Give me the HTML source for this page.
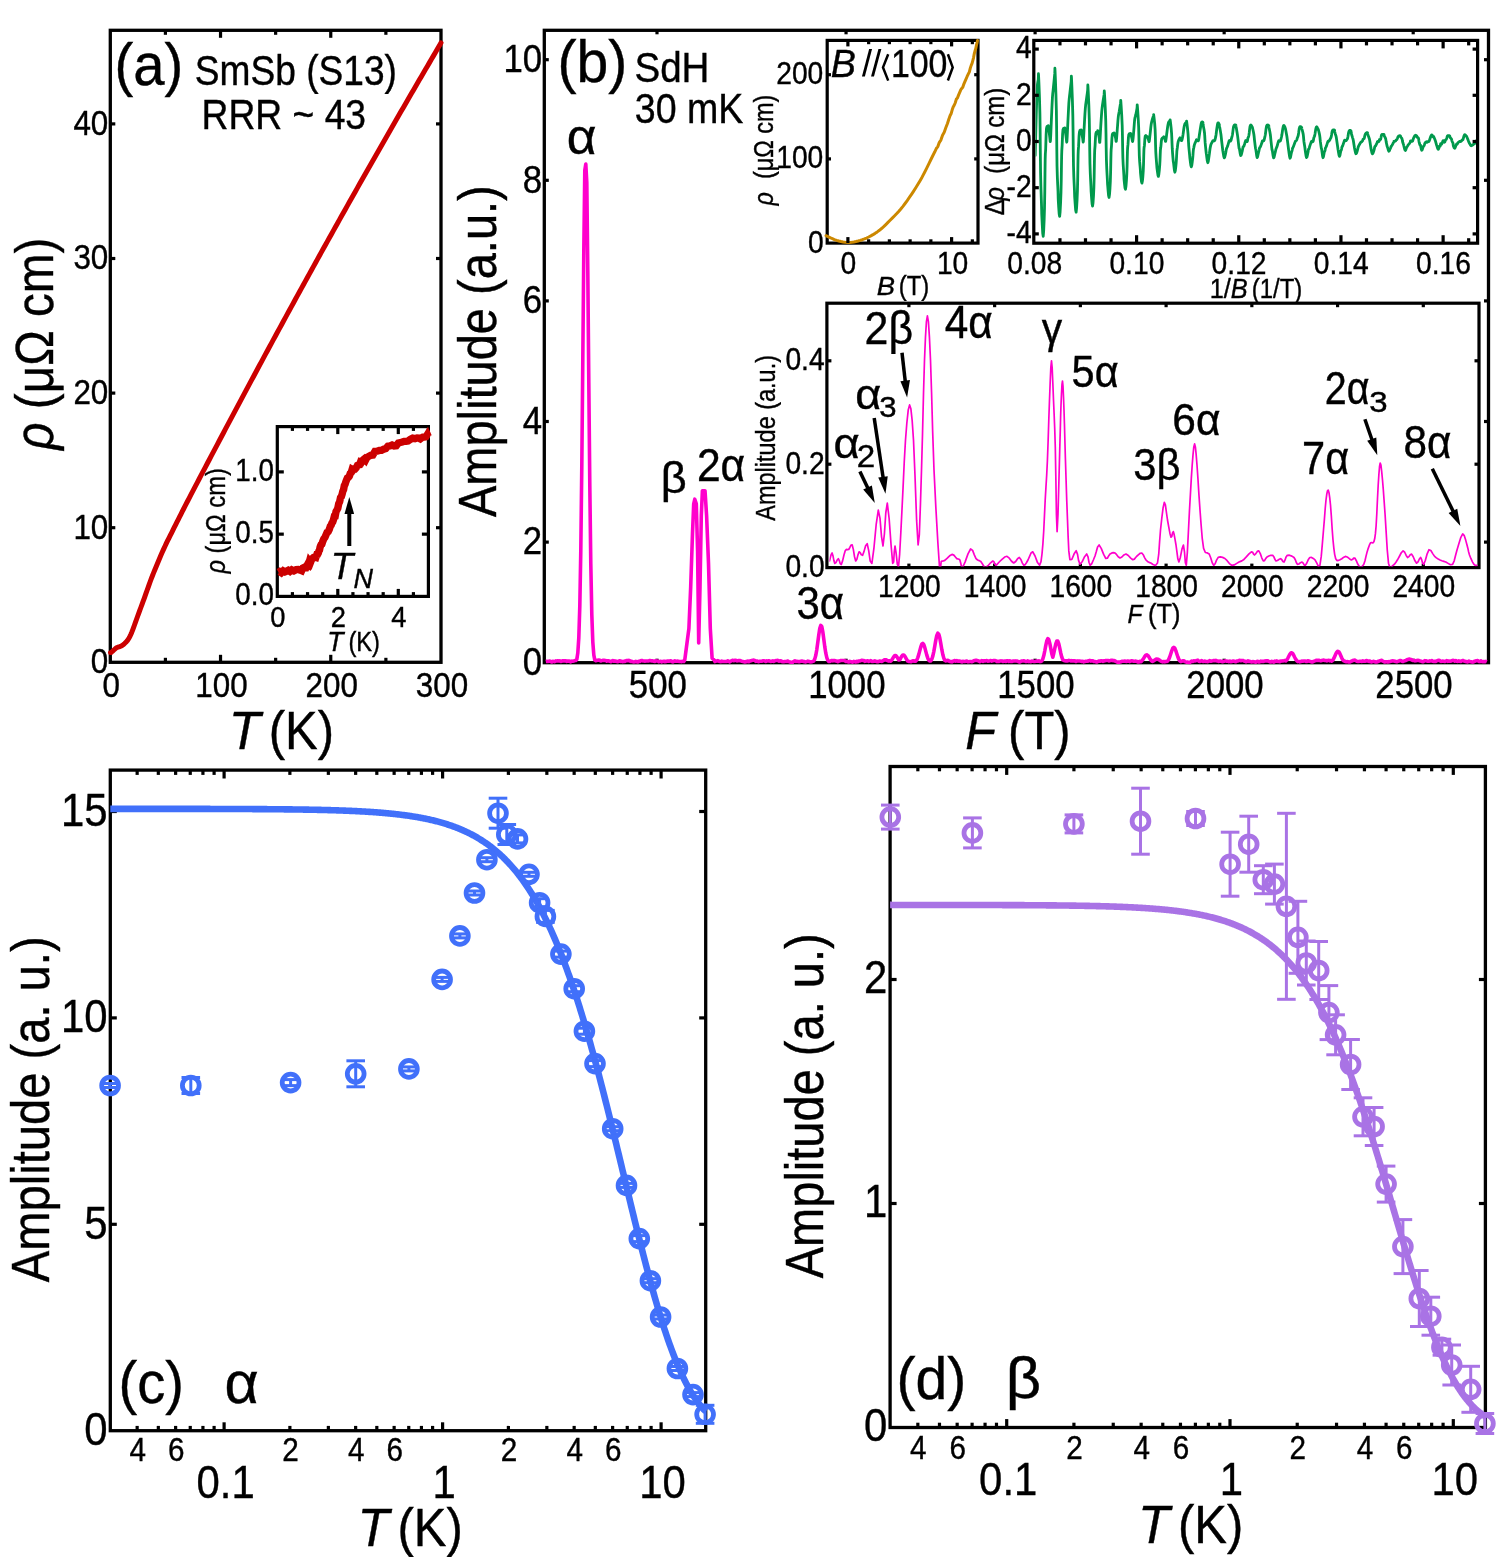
<!DOCTYPE html>
<html><head><meta charset="utf-8"><style>
html,body{margin:0;padding:0;background:#fff;}
svg{display:block;will-change:transform;}
text{font-family:"Liberation Sans",sans-serif;stroke:#000;stroke-width:0.4px;opacity:0.999;}
</style></head><body>
<svg width="1500" height="1557" viewBox="0 0 1500 1557">
<rect width="1500" height="1557" fill="#fff"/>
<rect x="110.3" y="30.3" width="330.7" height="632" fill="none" stroke="#000" stroke-width="3.3"/>
<rect x="277.3" y="426.6" width="151.1" height="169.8" fill="none" stroke="#000" stroke-width="3.2"/>
<rect x="544.3" y="30.3" width="944.2" height="632.4" fill="none" stroke="#000" stroke-width="3.3"/>
<rect x="827.2" y="40.4" width="150.8" height="202.7" fill="none" stroke="#000" stroke-width="3.2"/>
<rect x="1033.8" y="40.4" width="443.8" height="202.8" fill="none" stroke="#000" stroke-width="3.2"/>
<rect x="826.9" y="303.2" width="652.1" height="264.4" fill="none" stroke="#000" stroke-width="3.2"/>
<rect x="110.3" y="770.1" width="595.4" height="660.6" fill="none" stroke="#000" stroke-width="3.3"/>
<rect x="890.1" y="766.5" width="595.3" height="661" fill="none" stroke="#000" stroke-width="3.3"/>
<path d="M110.5,652.6 L110.63,652.58 L110.8,652.56 L111.12,652.42 L111.7,652 L112.64,651.15 L113.84,649.99 L115.18,648.79 L116.5,647.8 L117.79,647.19 L119.12,646.79 L120.46,646.37 L121.8,645.7 L123.16,644.73 L124.55,643.57 L125.89,642.28 L127.1,640.9 L128.14,639.49 L129.05,637.99 L129.91,636.36 L130.8,634.5 L131.71,632.39 L132.62,630.08 L133.54,627.6 L134.5,625 L135.51,622.23 L136.56,619.28 L137.63,616.27 L138.7,613.3 L139.77,610.4 L140.85,607.5 L141.93,604.6 L143,601.7 L144.06,598.78 L145.11,595.85 L146.15,592.92 L147.2,590 L148.25,587.07 L149.29,584.13 L150.34,581.23 L151.4,578.4 L152.44,575.73 L153.48,573.17 L154.55,570.57 L155.7,567.8 L156.95,564.75 L158.29,561.52 L159.65,558.25 L161,555.1 L162.32,552.08 L163.65,549.12 L164.98,546.22 L166.3,543.4 L167.62,540.67 L168.95,538.03 L170.28,535.42 L171.6,532.8 L172.92,530.15 L174.25,527.49 L175.57,524.84 L176.9,522.2 L178.23,519.56 L179.56,516.92 L180.88,514.3 L182.2,511.7 L183.44,509.25 L184.63,506.9 L185.91,504.41 L187.4,501.5 L189.2,498.03 L191.22,494.16 L193.33,490.12 L195.4,486.17 L197.4,482.35 L199.4,478.53 L201.4,474.71 L203.4,470.9 L205.4,467.09 L207.4,463.28 L209.4,459.48 L211.4,455.68 L213.4,451.88 L215.4,448.09 L217.4,444.3 L219.4,440.52 L221.4,436.73 L223.4,432.96 L225.4,429.18 L227.4,425.41 L229.4,421.64 L231.4,417.88 L233.4,414.12 L235.4,410.36 L237.4,406.61 L239.4,402.86 L241.4,399.11 L243.4,395.37 L245.4,391.63 L247.4,387.89 L249.4,384.16 L251.4,380.43 L253.4,376.71 L255.4,372.99 L257.4,369.27 L259.4,365.55 L261.4,361.84 L263.4,358.13 L265.4,354.43 L267.4,350.73 L269.4,347.03 L271.4,343.34 L273.4,339.65 L275.4,335.96 L277.4,332.28 L279.4,328.6 L281.4,324.93 L283.4,321.25 L285.4,317.58 L287.4,313.92 L289.4,310.26 L291.4,306.6 L293.4,302.95 L295.4,299.29 L297.4,295.65 L299.4,292 L301.4,288.36 L303.4,284.73 L305.4,281.09 L307.4,277.46 L309.4,273.84 L311.4,270.21 L313.4,266.59 L315.4,262.98 L317.4,259.37 L319.4,255.76 L321.4,252.15 L323.4,248.55 L325.4,244.95 L327.4,241.36 L329.4,237.77 L331.4,234.18 L333.4,230.6 L335.4,227.02 L337.4,223.44 L339.4,219.87 L341.4,216.3 L343.4,212.73 L345.4,209.17 L347.4,205.61 L349.4,202.05 L351.4,198.5 L353.4,194.95 L355.4,191.41 L357.4,187.87 L359.4,184.33 L361.4,180.79 L363.4,177.26 L365.4,173.73 L367.4,170.21 L369.4,166.69 L371.4,163.17 L373.4,159.66 L375.4,156.15 L377.4,152.65 L379.4,149.14 L381.4,145.64 L383.4,142.15 L385.4,138.66 L387.4,135.17 L389.4,131.68 L391.4,128.2 L393.4,124.72 L395.4,121.25 L397.4,117.78 L399.4,114.31 L401.4,110.85 L403.4,107.39 L405.4,103.93 L407.4,100.48 L409.4,97.03 L411.4,93.58 L413.4,90.14 L415.4,86.7 L417.4,83.26 L419.4,79.83 L421.4,76.4 L423.4,72.98 L425.4,69.56 L427.4,66.14 L429.46,62.63 L431.55,59.07 L433.57,55.64 L435.4,52.5 L437.1,49.57 L438.7,46.8 L440.05,44.45 L441,42.8" fill="none" stroke="#CC0000" stroke-width="5.0" stroke-linejoin="round" stroke-linecap="round" />
<line x1="165.41" y1="662.3" x2="165.41" y2="657.8" stroke="#000" stroke-width="3.2" stroke-linecap="butt"/>
<line x1="165.41" y1="30.3" x2="165.41" y2="34.8" stroke="#000" stroke-width="3.2" stroke-linecap="butt"/>
<line x1="220.53" y1="662.3" x2="220.53" y2="654.8" stroke="#000" stroke-width="3.2" stroke-linecap="butt"/>
<line x1="220.53" y1="30.3" x2="220.53" y2="37.8" stroke="#000" stroke-width="3.2" stroke-linecap="butt"/>
<line x1="275.64" y1="662.3" x2="275.64" y2="657.8" stroke="#000" stroke-width="3.2" stroke-linecap="butt"/>
<line x1="275.64" y1="30.3" x2="275.64" y2="34.8" stroke="#000" stroke-width="3.2" stroke-linecap="butt"/>
<line x1="330.76" y1="662.3" x2="330.76" y2="654.8" stroke="#000" stroke-width="3.2" stroke-linecap="butt"/>
<line x1="330.76" y1="30.3" x2="330.76" y2="37.8" stroke="#000" stroke-width="3.2" stroke-linecap="butt"/>
<line x1="385.88" y1="662.3" x2="385.88" y2="657.8" stroke="#000" stroke-width="3.2" stroke-linecap="butt"/>
<line x1="385.88" y1="30.3" x2="385.88" y2="34.8" stroke="#000" stroke-width="3.2" stroke-linecap="butt"/>
<line x1="110.3" y1="527.7" x2="115.3" y2="527.7" stroke="#000" stroke-width="3.2" stroke-linecap="butt"/>
<line x1="441" y1="527.7" x2="436" y2="527.7" stroke="#000" stroke-width="3.2" stroke-linecap="butt"/>
<line x1="110.3" y1="393.1" x2="115.3" y2="393.1" stroke="#000" stroke-width="3.2" stroke-linecap="butt"/>
<line x1="441" y1="393.1" x2="436" y2="393.1" stroke="#000" stroke-width="3.2" stroke-linecap="butt"/>
<line x1="110.3" y1="258.5" x2="115.3" y2="258.5" stroke="#000" stroke-width="3.2" stroke-linecap="butt"/>
<line x1="441" y1="258.5" x2="436" y2="258.5" stroke="#000" stroke-width="3.2" stroke-linecap="butt"/>
<line x1="110.3" y1="123.9" x2="115.3" y2="123.9" stroke="#000" stroke-width="3.2" stroke-linecap="butt"/>
<line x1="441" y1="123.9" x2="436" y2="123.9" stroke="#000" stroke-width="3.2" stroke-linecap="butt"/>
<text transform="translate(111.3,697) scale(0.91,1)" font-size="34.5" text-anchor="middle" fill="#000"><tspan>0</tspan></text>
<text transform="translate(221.53,697) scale(0.91,1)" font-size="34.5" text-anchor="middle" fill="#000"><tspan>100</tspan></text>
<text transform="translate(331.76,697) scale(0.91,1)" font-size="34.5" text-anchor="middle" fill="#000"><tspan>200</tspan></text>
<text transform="translate(441.99,697) scale(0.91,1)" font-size="34.5" text-anchor="middle" fill="#000"><tspan>300</tspan></text>
<text transform="translate(108.3,673.1) scale(0.91,1)" font-size="34.5" text-anchor="end" fill="#000"><tspan>0</tspan></text>
<text transform="translate(108.3,538.5) scale(0.91,1)" font-size="34.5" text-anchor="end" fill="#000"><tspan>10</tspan></text>
<text transform="translate(108.3,403.9) scale(0.91,1)" font-size="34.5" text-anchor="end" fill="#000"><tspan>20</tspan></text>
<text transform="translate(108.3,269.3) scale(0.91,1)" font-size="34.5" text-anchor="end" fill="#000"><tspan>30</tspan></text>
<text transform="translate(108.3,134.7) scale(0.91,1)" font-size="34.5" text-anchor="end" fill="#000"><tspan>40</tspan></text>
<text transform="translate(114.48,84.6) scale(0.937381404174573,1)" font-size="60" text-anchor="start" fill="#000"><tspan>(a)</tspan></text>
<text transform="translate(194.75,84.6) scale(0.8780055401662049,1)" font-size="42.3" text-anchor="start" fill="#000"><tspan>SmSb (S13)</tspan></text>
<text transform="translate(201.5,129) scale(0.8871012482662969,1)" font-size="42" text-anchor="start" fill="#000"><tspan>RRR ~ 43</tspan></text>
<text transform="translate(228.68,748.8) scale(0.96774193548387,1)" font-size="53.5" text-anchor="start" fill="#000"><tspan font-style="italic">T</tspan></text>
<text transform="translate(268.71,748.8) scale(0.91605415860735,1)" font-size="53.5" text-anchor="start" fill="#000"><tspan>(K)</tspan></text>
<text transform="translate(52.6,449.69) rotate(-90) scale(0.8906299629433563,1)" font-size="53.5" text-anchor="start" fill="#000"><tspan font-style="italic">ρ</tspan><tspan> (μΩ cm)</tspan></text>
<path d="M278.5,572.31 L279.66,571.63 L281.32,572.76 L283.2,570.85 L285,571.9 L286.64,571.25 L288.28,570.26 L289.98,571.38 L291.8,569.9 L293.87,570.85 L296.13,569.68 L298.32,569.52 L300.2,570.09 L301.68,570.67 L302.91,568.03 L303.98,567.55 L305,567.86 L305.95,567.86 L306.8,565.85 L307.62,564.33 L308.5,564.93 L309.46,561.32 L310.44,562.57 L311.46,559.95 L312.5,558.5 L313.61,557.41 L314.79,556.94 L315.92,557.31 L316.9,554.41 L317.68,554.31 L318.32,553.18 L318.91,551.07 L319.5,550.13 L320.07,547.3 L320.61,545.77 L321.19,544.56 L321.9,544.11 L322.8,541.39 L323.83,538.89 L324.92,537.41 L326,534.87 L327.09,532.37 L328.21,531.73 L329.3,529.46 L330.3,526.18 L331.17,525.14 L331.96,523.06 L332.71,522.08 L333.5,519.64 L334.33,516.33 L335.17,516.15 L336.03,511.52 L336.9,509.97 L337.8,508.27 L338.72,503.73 L339.63,501.78 L340.5,497.71 L341.31,496.75 L342.09,494.32 L342.85,491.17 L343.6,489.55 L344.32,485.67 L345.01,484.55 L345.72,482.2 L346.5,480.22 L347.39,478.08 L348.35,477.48 L349.34,476.22 L350.3,473.43 L351.21,472.57 L352.1,469.58 L353.01,470.17 L354,468.91 L355.1,468.92 L356.29,467.61 L357.48,465.32 L358.6,464.78 L359.61,464.67 L360.56,461.94 L361.5,462.26 L362.5,460.57 L363.5,459.68 L364.49,458.86 L365.61,460.11 L367,457.36 L368.74,456.37 L370.74,455.21 L372.87,454.95 L375,451.33 L377.14,451.18 L379.33,450.4 L381.54,450.37 L383.7,449.29 L385.8,448.59 L387.87,446.2 L389.93,445.9 L392,445.1 L394.11,446.01 L396.24,445.71 L398.35,442.96 L400.4,442.49 L402.32,442.03 L404.16,441.37 L406.01,441.41 L408,441.05 L410.24,439.5 L412.66,438.14 L415.01,438.7 L417.1,438.03 L418.81,438.17 L420.29,438.91 L421.64,437.86 L423,437.04 L424.49,436.95 L426.02,436.71 L427.36,434.6 L428.3,436.72" fill="none" stroke="#CC0000" stroke-width="7.4" stroke-linejoin="miter" stroke-linecap="butt" />
<line x1="292.43" y1="596.4" x2="292.43" y2="592.1" stroke="#000" stroke-width="3.2" stroke-linecap="butt"/>
<line x1="292.43" y1="426.6" x2="292.43" y2="430.9" stroke="#000" stroke-width="3.2" stroke-linecap="butt"/>
<line x1="307.55" y1="596.4" x2="307.55" y2="592.1" stroke="#000" stroke-width="3.2" stroke-linecap="butt"/>
<line x1="307.55" y1="426.6" x2="307.55" y2="430.9" stroke="#000" stroke-width="3.2" stroke-linecap="butt"/>
<line x1="322.68" y1="596.4" x2="322.68" y2="592.1" stroke="#000" stroke-width="3.2" stroke-linecap="butt"/>
<line x1="322.68" y1="426.6" x2="322.68" y2="430.9" stroke="#000" stroke-width="3.2" stroke-linecap="butt"/>
<line x1="337.8" y1="596.4" x2="337.8" y2="588.9" stroke="#000" stroke-width="3.2" stroke-linecap="butt"/>
<line x1="337.8" y1="426.6" x2="337.8" y2="434.1" stroke="#000" stroke-width="3.2" stroke-linecap="butt"/>
<line x1="352.93" y1="596.4" x2="352.93" y2="592.1" stroke="#000" stroke-width="3.2" stroke-linecap="butt"/>
<line x1="352.93" y1="426.6" x2="352.93" y2="430.9" stroke="#000" stroke-width="3.2" stroke-linecap="butt"/>
<line x1="368.05" y1="596.4" x2="368.05" y2="592.1" stroke="#000" stroke-width="3.2" stroke-linecap="butt"/>
<line x1="368.05" y1="426.6" x2="368.05" y2="430.9" stroke="#000" stroke-width="3.2" stroke-linecap="butt"/>
<line x1="383.18" y1="596.4" x2="383.18" y2="592.1" stroke="#000" stroke-width="3.2" stroke-linecap="butt"/>
<line x1="383.18" y1="426.6" x2="383.18" y2="430.9" stroke="#000" stroke-width="3.2" stroke-linecap="butt"/>
<line x1="398.3" y1="596.4" x2="398.3" y2="588.9" stroke="#000" stroke-width="3.2" stroke-linecap="butt"/>
<line x1="398.3" y1="426.6" x2="398.3" y2="434.1" stroke="#000" stroke-width="3.2" stroke-linecap="butt"/>
<line x1="413.43" y1="596.4" x2="413.43" y2="592.1" stroke="#000" stroke-width="3.2" stroke-linecap="butt"/>
<line x1="413.43" y1="426.6" x2="413.43" y2="430.9" stroke="#000" stroke-width="3.2" stroke-linecap="butt"/>
<line x1="277.3" y1="534.15" x2="283.8" y2="534.15" stroke="#000" stroke-width="3.2" stroke-linecap="butt"/>
<line x1="428.4" y1="534.15" x2="421.9" y2="534.15" stroke="#000" stroke-width="3.2" stroke-linecap="butt"/>
<line x1="277.3" y1="471.9" x2="283.8" y2="471.9" stroke="#000" stroke-width="3.2" stroke-linecap="butt"/>
<line x1="428.4" y1="471.9" x2="421.9" y2="471.9" stroke="#000" stroke-width="3.2" stroke-linecap="butt"/>
<text transform="translate(273.9,605.4) scale(0.91,1)" font-size="30.5" text-anchor="end" fill="#000"><tspan>0.0</tspan></text>
<text transform="translate(273.9,543.15) scale(0.91,1)" font-size="30.5" text-anchor="end" fill="#000"><tspan>0.5</tspan></text>
<text transform="translate(273.9,480.9) scale(0.91,1)" font-size="30.5" text-anchor="end" fill="#000"><tspan>1.0</tspan></text>
<text transform="translate(277.9,627) scale(0.91,1)" font-size="30" text-anchor="middle" fill="#000"><tspan>0</tspan></text>
<text transform="translate(338.4,627) scale(0.91,1)" font-size="30" text-anchor="middle" fill="#000"><tspan>2</tspan></text>
<text transform="translate(398.9,627) scale(0.91,1)" font-size="30" text-anchor="middle" fill="#000"><tspan>4</tspan></text>
<text transform="translate(327.14,651.3) scale(0.9855999999999986,1)" font-size="27" text-anchor="start" fill="#000"><tspan font-style="italic">T</tspan></text>
<text transform="translate(348.38,651.3) scale(0.876335877862595,1)" font-size="27" text-anchor="start" fill="#000"><tspan>(K)</tspan></text>
<text transform="translate(224.7,573.55) rotate(-90) scale(0.8771488469601679,1)" font-size="27" text-anchor="start" fill="#000"><tspan font-style="italic">ρ</tspan><tspan> (μΩ cm)</tspan></text>
<line x1="349.3" y1="546" x2="349.3" y2="511.9" stroke="#000" stroke-width="4" stroke-linecap="butt"/>
<path d="M349.3,496.9 L354.1,513.9 L344.5,513.9 Z" fill="#000"/>
<text transform="translate(330.79,579.4) scale(0.9793103448275842,1)" font-size="37.5" text-anchor="start" fill="#000"><tspan font-style="italic">T</tspan></text>
<text transform="translate(353.43,587.9) scale(0.9986577181208035,1)" font-size="27" text-anchor="start" fill="#000"><tspan font-style="italic">N</tspan></text>
<line x1="657" y1="662.7" x2="657" y2="658.7" stroke="#000" stroke-width="3.2" stroke-linecap="butt"/>
<line x1="657" y1="30.3" x2="657" y2="34.3" stroke="#000" stroke-width="3.2" stroke-linecap="butt"/>
<line x1="846.05" y1="662.7" x2="846.05" y2="658.7" stroke="#000" stroke-width="3.2" stroke-linecap="butt"/>
<line x1="846.05" y1="30.3" x2="846.05" y2="34.3" stroke="#000" stroke-width="3.2" stroke-linecap="butt"/>
<line x1="1035.1" y1="662.7" x2="1035.1" y2="658.7" stroke="#000" stroke-width="3.2" stroke-linecap="butt"/>
<line x1="1035.1" y1="30.3" x2="1035.1" y2="34.3" stroke="#000" stroke-width="3.2" stroke-linecap="butt"/>
<line x1="1224.15" y1="662.7" x2="1224.15" y2="658.7" stroke="#000" stroke-width="3.2" stroke-linecap="butt"/>
<line x1="1224.15" y1="30.3" x2="1224.15" y2="34.3" stroke="#000" stroke-width="3.2" stroke-linecap="butt"/>
<line x1="1413.2" y1="662.7" x2="1413.2" y2="658.7" stroke="#000" stroke-width="3.2" stroke-linecap="butt"/>
<line x1="1413.2" y1="30.3" x2="1413.2" y2="34.3" stroke="#000" stroke-width="3.2" stroke-linecap="butt"/>
<path d="M545.8,661.51 L546.8,661.33 L547.8,661.43 L548.8,661.21 L549.8,661.05 L550.8,661.63 L551.8,662.04 L552.8,661.3 L553.8,661.54 L554.8,661.72 L555.8,660.91 L556.8,661.06 L557.8,660.71 L558.8,660.93 L559.8,660.87 L560.8,661.42 L561.8,661.17 L562.8,660.73 L563.8,660.89 L564.8,660.72 L565.8,660.7 L566.8,661.42 L567.8,661.02 L568.8,660.98 L569.8,661.3 L570.8,661.83 L571.8,661.13 L572.8,661.19 L573.8,660.93 L574.8,660.58 L575.8,660.56 L576.8,659.38 L577.8,653.01 L578.8,637.8 L579.8,606.38 L580.8,550.55 L581.8,466.12 L582.8,359.39 L583.8,250.77 L584.8,170.23 L585.8,164.02 L586.8,182.63 L587.8,271.26 L588.8,381.74 L589.8,485.19 L590.8,563.98 L591.8,614.37 L592.8,641.87 L593.8,654.8 L594.8,660.06 L595.8,660.66 L596.8,660.36 L597.8,660.26 L598.8,660.04 L599.8,660.3 L600.8,661.06 L601.8,660.68 L602.8,660.32 L603.8,660.18 L604.8,660.5 L605.8,660.52 L606.8,661.14 L607.8,660.76 L608.8,660.84 L609.8,661.24 L610.8,661.75 L611.8,661.1 L612.8,660.55 L613.8,661.3 L614.8,660.9 L615.8,661.12 L616.8,661.57 L617.8,661.67 L618.8,661.15 L619.8,660.72 L620.8,661.46 L621.8,661.21 L622.8,661.75 L623.8,661.27 L624.8,661.44 L625.8,660.88 L626.8,660.43 L627.8,660.73 L628.8,660.31 L629.8,660.89 L630.8,661.52 L631.8,661.27 L632.8,661.8 L633.8,661.92 L634.8,661.74 L635.8,661.39 L636.8,661.73 L637.8,662.06 L638.8,661.27 L639.8,661.46 L640.8,660.8 L641.8,660.48 L642.8,660.91 L643.8,661.07 L644.8,661.1 L645.8,660.96 L646.8,660.94 L647.8,660.97 L648.8,660.91 L649.8,660.49 L650.8,660.76 L651.8,661.02 L652.8,660.82 L653.8,661.29 L654.8,661.49 L655.8,660.79 L656.8,660.93 L657.8,660.98 L658.8,661.65 L659.8,661.57 L660.8,661.32 L661.8,661.85 L662.8,661.45 L663.8,661.19 L664.8,661.72 L665.8,661.35 L666.8,661.33 L667.8,661.06 L668.8,661.29 L669.8,661 L670.8,660.79 L671.8,661.53 L672.8,661.92 L673.8,661.42 L674.8,660.77 L675.8,661.24 L676.8,661.27 L677.8,661.13 L678.8,661.37 L679.8,661.46 L680.8,661.58 L681.8,661.58 L682.8,661.31 L683.8,661.5 L684.8,659.8 L688.9,628.5 L690.7,586.9 L692.5,533.4 L693.7,503.8 L694.8,499.2 L696.3,503.8 L697.6,551.3 L698.7,643 L700,586.9 L701.3,515.6 L702.4,490.7 L705,490.7 L706.6,515.6 L708.5,563.1 L710.3,628.5 L712.1,658.1 L714.4,660.3 L714.8,661.53 L715.8,661.03 L716.8,660.92 L717.8,660.66 L718.8,661.06 L719.8,661.56 L720.8,661.66 L721.8,661.12 L722.8,661.43 L723.8,661.52 L724.8,661.49 L725.8,661.47 L726.8,661.47 L727.8,660.85 L728.8,661.4 L729.8,661.92 L730.8,661.09 L731.8,660.67 L732.8,660.29 L733.8,660.73 L734.8,660.37 L735.8,660.19 L736.8,660.92 L737.8,660.74 L738.8,660.51 L739.8,660.59 L740.8,660.81 L741.8,661.22 L742.8,661.4 L743.8,661.64 L744.8,661.98 L745.8,661.56 L746.8,661.67 L747.8,661.11 L748.8,661.69 L749.8,661 L750.8,660.85 L751.8,660.47 L752.8,660.28 L753.8,660.16 L754.8,660.48 L755.8,661.35 L756.8,660.99 L757.8,661.47 L758.8,661.6 L759.8,661.24 L760.8,661.19 L761.8,661.3 L762.8,660.72 L763.8,660.78 L764.8,661.13 L765.8,661.46 L766.8,660.91 L767.8,661.05 L768.8,660.77 L769.8,661.12 L770.8,661.51 L771.8,661.34 L772.8,660.9 L773.8,661.41 L774.8,660.97 L775.8,660.55 L776.8,660.44 L777.8,660.35 L778.8,661.28 L779.8,661.09 L780.8,660.69 L781.8,661.44 L782.8,661.61 L783.8,661.72 L784.8,661.48 L785.8,661.46 L786.8,661.38 L787.8,660.97 L788.8,661.66 L789.8,662.01 L790.8,662.13 L791.8,662.21 L792.8,662.32 L793.8,661.3 L794.8,660.83 L795.8,661.47 L796.8,661.36 L797.8,661.51 L798.8,661.61 L799.8,661.62 L800.8,661.27 L801.8,661.14 L802.8,661.33 L803.8,661.65 L804.8,661.67 L805.8,661.93 L806.8,661.57 L807.8,661.16 L808.8,661.32 L809.8,661.77 L810.8,661.93 L811.8,661.79 L812.8,661.42 L813.8,660.99 L814.8,658.9 L815.8,655.21 L816.8,649.6 L817.8,642.36 L818.8,634.66 L819.8,628.38 L820.8,625.4 L821.8,626.71 L822.8,631.86 L823.8,639.24 L824.8,646.86 L825.8,653.2 L826.8,657.64 L827.8,660.31 L828.8,661.53 L829.8,661.48 L830.8,660.91 L831.8,660.5 L832.8,660.93 L833.8,660.55 L834.8,660.46 L835.8,661.04 L836.8,661.14 L837.8,661.62 L838.8,661.07 L839.8,660.92 L840.8,660.56 L841.8,660.46 L842.8,660.55 L843.8,660.53 L844.8,660.72 L845.8,661.39 L846.8,661.2 L847.8,661.8 L848.8,661.98 L849.8,661.34 L850.8,661.83 L851.8,662.07 L852.8,662.2 L853.8,661.34 L854.8,661.67 L855.8,662.05 L856.8,661.3 L857.8,661.71 L858.8,661.09 L859.8,660.92 L860.8,660.62 L861.8,660.31 L862.8,660.57 L863.8,660.46 L864.8,661.31 L865.8,660.94 L866.8,661.03 L867.8,660.83 L868.8,661.45 L869.8,661.05 L870.8,660.58 L871.8,661.36 L872.8,661.5 L873.8,661.3 L874.8,660.86 L875.8,661.31 L876.8,661.65 L877.8,661.77 L878.8,661.4 L879.8,661.01 L880.8,661.21 L881.8,661.36 L882.8,660.87 L883.8,660.18 L884.8,659.74 L885.8,659.74 L886.8,660.18 L887.8,660.87 L888.8,661.1 L889.8,660.84 L890.8,661.27 L891.8,659.98 L892.8,658.31 L893.8,656.66 L894.8,655.61 L895.8,655.61 L896.8,656.66 L897.8,658.31 L898.8,659.98 L899.8,659.76 L900.8,657.95 L901.8,656.15 L902.8,655.02 L903.8,655.02 L904.8,656.15 L905.8,657.95 L906.8,659.76 L907.8,661.15 L908.8,661.45 L909.8,661.57 L910.8,661.74 L911.8,661.29 L912.8,660.7 L913.8,661.15 L914.8,660.92 L915.8,661.13 L916.8,659.91 L917.8,657.62 L918.8,654.41 L919.8,650.61 L920.8,646.91 L921.8,644.25 L922.8,643.41 L923.8,644.66 L924.8,647.6 L925.8,651.39 L926.8,655.12 L927.8,658.15 L928.8,660.26 L929.8,661.02 L930.8,660.97 L931.8,659.21 L932.8,656.12 L933.8,651.61 L934.8,645.97 L935.8,640.12 L936.8,635.42 L937.8,633.22 L938.8,634.19 L939.8,638.02 L940.8,643.59 L941.8,649.45 L942.8,654.48 L943.8,658.14 L944.8,660.44 L945.8,660.95 L946.8,660.49 L947.8,660.35 L948.8,661 L949.8,661.45 L950.8,661.64 L951.8,661.84 L952.8,661.33 L953.8,660.84 L954.8,660.5 L955.8,661.07 L956.8,660.68 L957.8,661.11 L958.8,661.24 L959.8,660.94 L960.8,661.54 L961.8,661.89 L962.8,661.21 L963.8,661.45 L964.8,661.52 L965.8,661.29 L966.8,661.04 L967.8,661.7 L968.8,661.69 L969.8,661.57 L970.8,661.44 L971.8,661.69 L972.8,661.33 L973.8,660.76 L974.8,660.47 L975.8,660.29 L976.8,660.37 L977.8,660.69 L978.8,661.14 L979.8,661.62 L980.8,661.04 L981.8,660.61 L982.8,661.33 L983.8,660.74 L984.8,661.07 L985.8,660.79 L986.8,660.64 L987.8,661.11 L988.8,660.93 L989.8,660.85 L990.8,660.62 L991.8,661.13 L992.8,660.85 L993.8,660.43 L994.8,660.53 L995.8,660.75 L996.8,661.39 L997.8,661.32 L998.8,661.45 L999.8,661.08 L1000.8,660.91 L1001.8,660.94 L1002.8,661.43 L1003.8,661.16 L1004.8,661.01 L1005.8,661.47 L1006.8,660.89 L1007.8,660.82 L1008.8,661.43 L1009.8,660.81 L1010.8,661.4 L1011.8,661.52 L1012.8,661.12 L1013.8,661.03 L1014.8,661.03 L1015.8,660.92 L1016.8,661.08 L1017.8,661.35 L1018.8,661.68 L1019.8,662 L1020.8,661.42 L1021.8,661.02 L1022.8,661.04 L1023.8,660.81 L1024.8,661.13 L1025.8,661.44 L1026.8,661.48 L1027.8,660.92 L1028.8,661.58 L1029.8,661.42 L1030.8,661.63 L1031.8,661.13 L1032.8,661.33 L1033.8,661.48 L1034.8,661.48 L1035.8,661.32 L1036.8,660.94 L1037.8,661.22 L1038.8,660.79 L1039.8,661.42 L1040.8,661.6 L1041.8,660.97 L1042.8,658.92 L1043.8,655.51 L1044.8,650.75 L1045.8,645.39 L1046.8,640.85 L1047.8,638.65 L1048.8,639.62 L1049.8,643.39 L1050.8,648.61 L1051.8,653.74 L1052.8,657.21 L1053.8,653.2 L1054.8,648.36 L1055.8,643.84 L1056.8,641.06 L1057.8,641.06 L1058.8,643.84 L1059.8,648.36 L1060.8,653.2 L1061.8,657.21 L1062.8,659.94 L1063.8,660.36 L1064.8,660.83 L1065.8,660.91 L1066.8,660.92 L1067.8,660.87 L1068.8,660.42 L1069.8,660.51 L1070.8,661.02 L1071.8,660.66 L1072.8,660.89 L1073.8,660.89 L1074.8,660.74 L1075.8,661.52 L1076.8,661.06 L1077.8,660.92 L1078.8,661.04 L1079.8,661.07 L1080.8,661.17 L1081.8,661.55 L1082.8,661.37 L1083.8,661.86 L1084.8,661.59 L1085.8,661.26 L1086.8,661.3 L1087.8,661.18 L1088.8,660.63 L1089.8,660.38 L1090.8,661.15 L1091.8,660.81 L1092.8,660.82 L1093.8,661.51 L1094.8,661.55 L1095.8,661.73 L1096.8,662.02 L1097.8,661.64 L1098.8,660.95 L1099.8,661.26 L1100.8,660.78 L1101.8,660.71 L1102.8,661.35 L1103.8,660.85 L1104.8,660.87 L1105.8,660.48 L1106.8,660.51 L1107.8,660.49 L1108.8,660.96 L1109.8,660.68 L1110.8,660.37 L1111.8,660.26 L1112.8,660.71 L1113.8,660.59 L1114.8,660.85 L1115.8,661.46 L1116.8,661.9 L1117.8,662.13 L1118.8,662.12 L1119.8,662.16 L1120.8,661.77 L1121.8,661.3 L1122.8,661.21 L1123.8,661.3 L1124.8,661.08 L1125.8,661.36 L1126.8,661.33 L1127.8,660.97 L1128.8,661.18 L1129.8,661.57 L1130.8,660.94 L1131.8,660.77 L1132.8,661.1 L1133.8,661.29 L1134.8,661.22 L1135.8,661.09 L1136.8,661.46 L1137.8,661.96 L1138.8,662 L1139.8,661.34 L1140.8,661.71 L1141.8,661 L1142.8,659.73 L1143.8,658.12 L1144.8,656.47 L1145.8,655.26 L1146.8,654.87 L1147.8,655.44 L1148.8,656.78 L1149.8,658.45 L1150.8,660.02 L1151.8,661.21 L1152.8,661.34 L1153.8,660.65 L1154.8,659.94 L1155.8,659.36 L1156.8,659.09 L1157.8,659.21 L1158.8,659.68 L1159.8,660.36 L1160.8,661.08 L1161.8,661.49 L1162.8,661.86 L1163.8,661.62 L1164.8,661.86 L1165.8,661.44 L1166.8,661.53 L1167.8,660.89 L1168.8,659.22 L1169.8,656.76 L1170.8,653.7 L1171.8,650.58 L1172.8,648.21 L1173.8,647.32 L1174.8,648.21 L1175.8,650.58 L1176.8,653.7 L1177.8,656.76 L1178.8,659.22 L1179.8,660.89 L1180.8,661.71 L1181.8,661.29 L1182.8,660.68 L1183.8,660.77 L1184.8,661.54 L1185.8,661.97 L1186.8,662.15 L1187.8,662.17 L1188.8,662.34 L1189.8,662.42 L1190.8,661.74 L1191.8,661.04 L1192.8,661.46 L1193.8,660.78 L1194.8,660.97 L1195.8,660.7 L1196.8,660.39 L1197.8,660.18 L1198.8,661.15 L1199.8,661.4 L1200.8,661.19 L1201.8,660.65 L1202.8,661.37 L1203.8,661.55 L1204.8,660.98 L1205.8,661.53 L1206.8,661.53 L1207.8,661.59 L1208.8,661.22 L1209.8,660.69 L1210.8,661.28 L1211.8,660.96 L1212.8,660.77 L1213.8,660.53 L1214.8,660.73 L1215.8,660.41 L1216.8,660.89 L1217.8,661.11 L1218.8,661.47 L1219.8,661.02 L1220.8,661.11 L1221.8,661.42 L1222.8,661.73 L1223.8,661.25 L1224.8,661.1 L1225.8,660.88 L1226.8,661.14 L1227.8,661.18 L1228.8,661.6 L1229.8,661.18 L1230.8,661.76 L1231.8,661.57 L1232.8,661.11 L1233.8,660.93 L1234.8,661.52 L1235.8,661.71 L1236.8,661.09 L1237.8,660.96 L1238.8,660.59 L1239.8,660.38 L1240.8,660.77 L1241.8,660.46 L1242.8,660.47 L1243.8,660.96 L1244.8,661.21 L1245.8,661.72 L1246.8,661.63 L1247.8,660.91 L1248.8,661.5 L1249.8,661.29 L1250.8,661.72 L1251.8,662.02 L1252.8,661.51 L1253.8,661.69 L1254.8,662.04 L1255.8,662.12 L1256.8,661.57 L1257.8,661.32 L1258.8,661.86 L1259.8,661.92 L1260.8,661.06 L1261.8,661.45 L1262.8,661.27 L1263.8,661.34 L1264.8,660.94 L1265.8,660.92 L1266.8,660.68 L1267.8,660.84 L1268.8,661.36 L1269.8,661.68 L1270.8,661.99 L1271.8,661.28 L1272.8,661.71 L1273.8,662.08 L1274.8,661.16 L1275.8,661.54 L1276.8,660.92 L1277.8,661.53 L1278.8,661.44 L1279.8,661.67 L1280.8,661.08 L1281.8,660.99 L1282.8,660.9 L1283.8,660.7 L1284.8,660.45 L1285.8,660.93 L1286.8,660.02 L1287.8,658.29 L1288.8,656.25 L1289.8,654.32 L1290.8,653.04 L1291.8,652.8 L1292.8,653.7 L1293.8,655.44 L1294.8,657.49 L1295.8,659.39 L1296.8,660.83 L1297.8,661.59 L1298.8,661.45 L1299.8,661.86 L1300.8,661.53 L1301.8,661.11 L1302.8,661.24 L1303.8,661.04 L1304.8,660.97 L1305.8,661.41 L1306.8,661.5 L1307.8,660.78 L1308.8,661.14 L1309.8,661.25 L1310.8,661.73 L1311.8,661.85 L1312.8,661.99 L1313.8,661.15 L1314.8,660.9 L1315.8,660.56 L1316.8,660.23 L1317.8,660.48 L1318.8,660.24 L1319.8,660.58 L1320.8,660.92 L1321.8,660.49 L1322.8,660.29 L1323.8,660.11 L1324.8,660.56 L1325.8,660.48 L1326.8,660.88 L1327.8,660.4 L1328.8,660.21 L1329.8,660.86 L1330.8,660.47 L1331.8,661.14 L1332.8,660.26 L1333.8,658.48 L1334.8,656.23 L1335.8,653.89 L1336.8,652.04 L1337.8,651.25 L1338.8,651.78 L1339.8,653.46 L1340.8,655.75 L1341.8,658.06 L1342.8,659.95 L1343.8,660.84 L1344.8,661.24 L1345.8,661.7 L1346.8,661.74 L1347.8,661.63 L1348.8,661.96 L1349.8,662.07 L1350.8,661.4 L1351.8,661.08 L1352.8,660.55 L1353.8,660.23 L1354.8,660.16 L1355.8,660.73 L1356.8,661.32 L1357.8,661.5 L1358.8,661.42 L1359.8,661.3 L1360.8,661.2 L1361.8,661.37 L1362.8,660.87 L1363.8,661.26 L1364.8,661.28 L1365.8,660.78 L1366.8,660.57 L1367.8,661.06 L1368.8,661.43 L1369.8,660.96 L1370.8,661.65 L1371.8,661.91 L1372.8,661.59 L1373.8,661.38 L1374.8,661.71 L1375.8,662.05 L1376.8,662.06 L1377.8,661.39 L1378.8,661.35 L1379.8,660.71 L1380.8,660.56 L1381.8,660.23 L1382.8,661.18 L1383.8,661.56 L1384.8,662 L1385.8,661.76 L1386.8,661.73 L1387.8,662.05 L1388.8,661.65 L1389.8,661.68 L1390.8,661.32 L1391.8,661.03 L1392.8,660.9 L1393.8,660.95 L1394.8,661.19 L1395.8,661.53 L1396.8,661.74 L1397.8,661.37 L1398.8,661.09 L1399.8,660.63 L1400.8,660.48 L1401.8,661.07 L1402.8,661.56 L1403.8,661.1 L1404.8,660.79 L1405.8,660.51 L1406.8,659.9 L1407.8,659.4 L1408.8,659.12 L1409.8,659.12 L1410.8,659.4 L1411.8,659.9 L1412.8,660.51 L1413.8,660.53 L1414.8,660.84 L1415.8,660.78 L1416.8,660.43 L1417.8,660.35 L1418.8,660.57 L1419.8,660.92 L1420.8,661.01 L1421.8,661.48 L1422.8,661.75 L1423.8,661.3 L1424.8,660.67 L1425.8,660.82 L1426.8,661.08 L1427.8,661.3 L1428.8,661.31 L1429.8,660.9 L1430.8,661.07 L1431.8,660.57 L1432.8,661.23 L1433.8,661.44 L1434.8,661.31 L1435.8,661.37 L1436.8,660.88 L1437.8,660.61 L1438.8,660.32 L1439.8,660.53 L1440.8,661.36 L1441.8,661.21 L1442.8,661.14 L1443.8,661.18 L1444.8,661.45 L1445.8,661.09 L1446.8,660.64 L1447.8,661.34 L1448.8,661.08 L1449.8,661.28 L1450.8,661.23 L1451.8,660.74 L1452.8,660.36 L1453.8,660.52 L1454.8,661.16 L1455.8,660.66 L1456.8,661.26 L1457.8,661.37 L1458.8,660.91 L1459.8,661.24 L1460.8,661.5 L1461.8,660.83 L1462.8,660.44 L1463.8,660.96 L1464.8,661.18 L1465.8,661.45 L1466.8,661.79 L1467.8,661.85 L1468.8,661.01 L1469.8,661.59 L1470.8,661.76 L1471.8,661.89 L1472.8,662.12 L1473.8,661.72 L1474.8,661.21 L1475.8,660.8 L1476.8,660.8 L1477.8,660.57 L1478.8,661.42 L1479.8,661.59 L1480.8,660.87 L1481.8,661.52 L1482.8,661.67 L1483.8,661.5 L1484.8,661.66 L1485.8,661.42 L1486.8,661.87" fill="none" stroke="#FF00CC" stroke-width="3.6" stroke-linejoin="round" stroke-linecap="butt" />
<line x1="544.3" y1="542.1" x2="548.8" y2="542.1" stroke="#000" stroke-width="3.2" stroke-linecap="butt"/>
<line x1="1488.5" y1="542.1" x2="1484" y2="542.1" stroke="#000" stroke-width="3.2" stroke-linecap="butt"/>
<line x1="544.3" y1="421.5" x2="548.8" y2="421.5" stroke="#000" stroke-width="3.2" stroke-linecap="butt"/>
<line x1="1488.5" y1="421.5" x2="1484" y2="421.5" stroke="#000" stroke-width="3.2" stroke-linecap="butt"/>
<line x1="544.3" y1="300.9" x2="548.8" y2="300.9" stroke="#000" stroke-width="3.2" stroke-linecap="butt"/>
<line x1="1488.5" y1="300.9" x2="1484" y2="300.9" stroke="#000" stroke-width="3.2" stroke-linecap="butt"/>
<line x1="544.3" y1="180.3" x2="548.8" y2="180.3" stroke="#000" stroke-width="3.2" stroke-linecap="butt"/>
<line x1="1488.5" y1="180.3" x2="1484" y2="180.3" stroke="#000" stroke-width="3.2" stroke-linecap="butt"/>
<line x1="544.3" y1="59.7" x2="548.8" y2="59.7" stroke="#000" stroke-width="3.2" stroke-linecap="butt"/>
<line x1="1488.5" y1="59.7" x2="1484" y2="59.7" stroke="#000" stroke-width="3.2" stroke-linecap="butt"/>
<text transform="translate(657.8,698.2) scale(0.91,1)" font-size="38.2" text-anchor="middle" fill="#000"><tspan>500</tspan></text>
<text transform="translate(846.85,698.2) scale(0.91,1)" font-size="38.2" text-anchor="middle" fill="#000"><tspan>1000</tspan></text>
<text transform="translate(1035.9,698.2) scale(0.91,1)" font-size="38.2" text-anchor="middle" fill="#000"><tspan>1500</tspan></text>
<text transform="translate(1224.95,698.2) scale(0.91,1)" font-size="38.2" text-anchor="middle" fill="#000"><tspan>2000</tspan></text>
<text transform="translate(1414,698.2) scale(0.91,1)" font-size="38.2" text-anchor="middle" fill="#000"><tspan>2500</tspan></text>
<text transform="translate(542.2,675) scale(0.91,1)" font-size="38.2" text-anchor="end" fill="#000"><tspan>0</tspan></text>
<text transform="translate(542.2,554.4) scale(0.91,1)" font-size="38.2" text-anchor="end" fill="#000"><tspan>2</tspan></text>
<text transform="translate(542.2,433.8) scale(0.91,1)" font-size="38.2" text-anchor="end" fill="#000"><tspan>4</tspan></text>
<text transform="translate(542.2,313.2) scale(0.91,1)" font-size="38.2" text-anchor="end" fill="#000"><tspan>6</tspan></text>
<text transform="translate(542.2,192.6) scale(0.91,1)" font-size="38.2" text-anchor="end" fill="#000"><tspan>8</tspan></text>
<text transform="translate(542.2,72) scale(0.91,1)" font-size="38.2" text-anchor="end" fill="#000"><tspan>10</tspan></text>
<text transform="translate(557.43,82.3) scale(0.9518026565464902,1)" font-size="60" text-anchor="start" fill="#000"><tspan>(b)</tspan></text>
<text transform="translate(634.49,82.3) scale(0.9046849757673667,1)" font-size="42.6" text-anchor="start" fill="#000"><tspan>SdH</tspan></text>
<text transform="translate(634.87,123) scale(0.8818181818181822,1)" font-size="42.6" text-anchor="start" fill="#000"><tspan>30 mK</tspan></text>
<text transform="translate(566.8,153.8) scale(1.0348258706467661,1)" font-size="49.8" text-anchor="start" fill="#000"><tspan>α</tspan></text>
<text transform="translate(660.82,493.3) scale(1.018181818181818,1)" font-size="44.4" text-anchor="start" fill="#000"><tspan>β</tspan></text>
<text transform="translate(696.91,480.7) scale(0.9302325581395349,1)" font-size="45.8" text-anchor="start" fill="#000"><tspan>2α</tspan></text>
<text transform="translate(796.4,619.3) scale(0.9119592875318057,1)" font-size="46" text-anchor="start" fill="#000"><tspan>3α</tspan></text>
<text transform="translate(965.27,748.8) scale(0.9432835820895529,1)" font-size="53.5" text-anchor="start" fill="#000"><tspan font-style="italic">F</tspan></text>
<text transform="translate(1008.11,748.8) scale(0.9152129817444197,1)" font-size="53.5" text-anchor="start" fill="#000"><tspan>(T)</tspan></text>
<text transform="translate(496.1,517.11) rotate(-90) scale(0.8788243152972611,1)" font-size="53.5" text-anchor="start" fill="#000"><tspan>Amplitude (a.u.)</tspan></text>
<path d="M826,235.7 L827.46,236.38 L829.51,237.37 L831.91,238.49 L834.39,239.56 L836.7,240.4 L838.84,241.03 L840.98,241.56 L843.12,241.97 L845.26,242.26 L847.4,242.4 L849.54,242.38 L851.68,242.21 L853.83,241.91 L855.97,241.5 L858.1,241 L860.22,240.41 L862.34,239.72 L864.46,238.92 L866.58,238.01 L868.7,237 L870.83,235.89 L872.97,234.67 L875.12,233.35 L877.26,231.89 L879.4,230.3 L881.54,228.53 L883.68,226.6 L885.82,224.55 L887.96,222.44 L890.1,220.3 L892.24,218.18 L894.38,216.04 L896.52,213.83 L898.66,211.5 L900.8,209 L902.94,206.32 L905.08,203.49 L907.22,200.54 L909.36,197.47 L911.5,194.3 L913.64,191.06 L915.78,187.73 L917.92,184.28 L920.06,180.68 L922.2,176.9 L924.38,172.79 L926.61,168.37 L928.81,163.86 L930.93,159.5 L932.9,155.5 L934.67,152.02 L936.29,148.53 L937.83,146.57 L939.34,142.37 L940.9,140.07 L942.54,135.22 L944.23,132.22 L945.89,127.55 L947.47,123.43 L948.9,119 L950.13,115.55 L951.21,113.47 L952.2,109.78 L953.18,107.05 L954.2,105.25 L955.28,102.73 L956.36,99.11 L957.44,98.02 L958.52,95.12 L959.6,92.64 L960.66,90.07 L961.72,88.4 L962.78,87.19 L963.84,84.09 L964.9,81.58 L966,79.12 L967.12,76.47 L968.24,74.08 L969.31,72.09 L970.3,68.11 L971.2,65.39 L972.04,63.46 L972.82,60.54 L973.57,57.54 L974.3,53.64 L975.04,50.83 L975.79,48.57 L976.49,44.97 L977.08,42.77 L977.5,40.44" fill="none" stroke="#CC8800" stroke-width="3.0" stroke-linejoin="round" stroke-linecap="round" />
<line x1="847.9" y1="243.1" x2="847.9" y2="237.1" stroke="#000" stroke-width="3.2" stroke-linecap="butt"/>
<line x1="847.9" y1="40.4" x2="847.9" y2="46.4" stroke="#000" stroke-width="3.2" stroke-linecap="butt"/>
<line x1="868.64" y1="243.1" x2="868.64" y2="239.3" stroke="#000" stroke-width="3.2" stroke-linecap="butt"/>
<line x1="868.64" y1="40.4" x2="868.64" y2="44.2" stroke="#000" stroke-width="3.2" stroke-linecap="butt"/>
<line x1="889.38" y1="243.1" x2="889.38" y2="239.3" stroke="#000" stroke-width="3.2" stroke-linecap="butt"/>
<line x1="889.38" y1="40.4" x2="889.38" y2="44.2" stroke="#000" stroke-width="3.2" stroke-linecap="butt"/>
<line x1="910.12" y1="243.1" x2="910.12" y2="239.3" stroke="#000" stroke-width="3.2" stroke-linecap="butt"/>
<line x1="910.12" y1="40.4" x2="910.12" y2="44.2" stroke="#000" stroke-width="3.2" stroke-linecap="butt"/>
<line x1="930.86" y1="243.1" x2="930.86" y2="239.3" stroke="#000" stroke-width="3.2" stroke-linecap="butt"/>
<line x1="930.86" y1="40.4" x2="930.86" y2="44.2" stroke="#000" stroke-width="3.2" stroke-linecap="butt"/>
<line x1="951.6" y1="243.1" x2="951.6" y2="237.1" stroke="#000" stroke-width="3.2" stroke-linecap="butt"/>
<line x1="951.6" y1="40.4" x2="951.6" y2="46.4" stroke="#000" stroke-width="3.2" stroke-linecap="butt"/>
<line x1="972.34" y1="243.1" x2="972.34" y2="239.3" stroke="#000" stroke-width="3.2" stroke-linecap="butt"/>
<line x1="972.34" y1="40.4" x2="972.34" y2="44.2" stroke="#000" stroke-width="3.2" stroke-linecap="butt"/>
<line x1="827.2" y1="158.9" x2="831" y2="158.9" stroke="#000" stroke-width="3.2" stroke-linecap="butt"/>
<line x1="978" y1="158.9" x2="974.2" y2="158.9" stroke="#000" stroke-width="3.2" stroke-linecap="butt"/>
<line x1="827.2" y1="74.7" x2="831" y2="74.7" stroke="#000" stroke-width="3.2" stroke-linecap="butt"/>
<line x1="978" y1="74.7" x2="974.2" y2="74.7" stroke="#000" stroke-width="3.2" stroke-linecap="butt"/>
<text transform="translate(823.6,252.5) scale(0.91,1)" font-size="31" text-anchor="end" fill="#000"><tspan>0</tspan></text>
<text transform="translate(823.3,168.3) scale(0.91,1)" font-size="31" text-anchor="end" fill="#000"><tspan>100</tspan></text>
<text transform="translate(823.3,84.1) scale(0.91,1)" font-size="31" text-anchor="end" fill="#000"><tspan>200</tspan></text>
<text transform="translate(848.4,274.2) scale(0.91,1)" font-size="31" text-anchor="middle" fill="#000"><tspan>0</tspan></text>
<text transform="translate(952.6,274.2) scale(0.91,1)" font-size="31" text-anchor="middle" fill="#000"><tspan>10</tspan></text>
<text transform="translate(876.7,294.8) scale(1.0249999999999986,1)" font-size="26.7" text-anchor="start" fill="#000"><tspan font-style="italic">B</tspan></text>
<text transform="translate(898.75,294.8) scale(0.8939271255060699,1)" font-size="26.7" text-anchor="start" fill="#000"><tspan>(T)</tspan></text>
<text transform="translate(772.5,205.46) rotate(-90) scale(0.8678500986193294,1)" font-size="27" text-anchor="start" fill="#000"><tspan font-style="italic">ρ</tspan><tspan>  (μΩ cm)</tspan></text>
<text transform="translate(830.81,76.7) scale(0.9507853403141381,1)" font-size="39.7" text-anchor="start" fill="#000"><tspan font-style="italic">B</tspan></text>
<path d="M861.9499999999999,76.4 L864.85,76.4 L872.0500000000001,49.1 L869.15,49.1 Z" fill="#000"/>
<path d="M871.05,76.4 L873.95,76.4 L881.35,49.1 L878.4499999999999,49.1 Z" fill="#000"/>
<path d="M888.2,54.2 L883.0,67.4 L888.2,80.6" fill="none" stroke="#000" stroke-width="2.5" stroke-linejoin="miter"/>
<text transform="translate(890.94,76.7) scale(0.8534412955465595,1)" font-size="39.7" text-anchor="start" fill="#000"><tspan>100</tspan></text>
<path d="M947.9,54.3 L952.7,67.4 L947.9,80.5" fill="none" stroke="#000" stroke-width="2.5"/>
<clipPath id="cb2"><rect x="1035.6" y="42" width="440.4" height="198.8"/></clipPath>
<path d="M1035.2,155.36 L1035.67,137.32 L1036.33,112.34 L1036.95,92.85 L1037.45,84.47 L1037.91,81.59 L1038.26,79.73 L1038.41,76.21 L1038.45,73.72 L1038.59,75.86 L1038.98,84.57 L1039.48,97.9 L1039.91,113.6 L1040.16,132.64 L1040.35,154.05 L1040.57,172.63 L1040.9,186.54 L1041.26,197.63 L1041.55,206.21 L1041.68,211.24 L1041.72,213.77 L1041.88,217.2 L1042.25,224.74 L1042.72,233.18 L1043.2,236.32 L1043.66,231.04 L1044.13,220.46 L1044.52,207.73 L1044.79,191.82 L1044.99,173.76 L1045.17,159.83 L1045.34,153.85 L1045.49,152 L1045.67,149.06 L1045.89,142.22 L1046.14,134.29 L1046.49,128.44 L1047.03,126.38 L1047.66,126.4 L1048.14,126.62 L1048.31,126.06 L1048.33,125.7 L1048.47,126.54 L1048.86,129.6 L1049.36,133.88 L1049.78,137.32 L1050.04,139.92 L1050.22,141.69 L1050.44,140.64 L1050.75,135.16 L1051.09,126.86 L1051.43,118.68 L1051.76,111.22 L1052.09,103.88 L1052.42,97.73 L1052.73,93.66 L1053.05,90.78 L1053.4,87.52 L1053.86,82.85 L1054.34,77.79 L1054.72,73.9 L1054.87,70.48 L1054.9,68.22 L1055.05,70.74 L1055.44,80.24 L1055.94,94.52 L1056.37,110.55 L1056.62,129.02 L1056.81,149.23 L1057.02,166.08 L1057.35,177.29 L1057.72,185.13 L1058.01,191.3 L1058.13,195.6 L1058.18,198.22 L1058.34,201.39 L1058.71,207.46 L1059.18,214.07 L1059.66,216.37 L1060.12,211.8 L1060.58,202.93 L1060.97,192.6 L1061.25,180.3 L1061.45,166.54 L1061.63,155.75 L1061.8,150.59 L1061.94,148.39 L1062.13,145.57 L1062.35,140.16 L1062.6,134.13 L1062.95,129.77 L1063.49,128.39 L1064.11,128.69 L1064.6,129.01 L1064.77,128.4 L1064.79,127.8 L1064.92,128.35 L1065.31,131.05 L1065.81,134.89 L1066.24,138.03 L1066.5,140.48 L1066.68,142.22 L1066.9,141.43 L1067.2,136.62 L1067.55,129.29 L1067.89,121.99 L1068.22,115.26 L1068.55,108.56 L1068.87,102.91 L1069.19,99.06 L1069.51,96.24 L1069.86,93.21 L1070.31,89.17 L1070.8,84.91 L1071.18,81.58 L1071.32,78.34 L1071.36,76.03 L1071.51,78.2 L1071.9,87.03 L1072.4,100.35 L1072.82,115.15 L1073.08,131.86 L1073.26,150.06 L1073.48,165.47 L1073.81,176.35 L1074.18,184.45 L1074.47,190.63 L1074.59,194.35 L1074.64,196.16 L1074.8,198.6 L1075.17,204.01 L1075.64,210.06 L1076.12,212.22 L1076.58,208.21 L1077.04,200.3 L1077.43,190.82 L1077.71,179 L1077.91,165.59 L1078.09,155.15 L1078.26,150.37 L1078.4,148.56 L1078.58,146.18 L1078.8,141.45 L1079.06,136.15 L1079.41,132.17 L1079.94,130.44 L1080.57,130.03 L1081.05,129.99 L1081.22,129.89 L1081.25,130.15 L1081.38,131.12 L1081.77,133.31 L1082.27,136.21 L1082.7,138.59 L1082.96,140.64 L1083.14,142.19 L1083.36,141.5 L1083.66,137.22 L1084,130.7 L1084.35,124.32 L1084.67,118.6 L1085,113.01 L1085.33,108.29 L1085.65,105.06 L1085.97,102.7 L1086.32,100.16 L1086.77,96.83 L1087.26,93.32 L1087.64,90.46 L1087.78,87.4 L1087.82,84.99 L1087.97,86.6 L1088.36,94.24 L1088.86,105.9 L1089.28,118.89 L1089.54,133.55 L1089.72,149.55 L1089.94,163.18 L1090.27,173.01 L1090.64,180.49 L1090.93,186.19 L1091.05,189.51 L1091.1,191.06 L1091.26,193.26 L1091.62,198.3 L1092.1,204 L1092.57,206.16 L1093.04,202.75 L1093.5,195.81 L1093.89,187.34 L1094.16,176.6 L1094.37,164.32 L1094.55,154.72 L1094.71,150.23 L1094.86,148.42 L1095.04,146.14 L1095.26,141.79 L1095.52,136.97 L1095.87,133.4 L1096.4,132.05 L1097.03,131.96 L1097.51,131.92 L1097.68,131.28 L1097.71,130.7 L1097.84,130.97 L1098.23,132.72 L1098.73,135.32 L1099.16,137.69 L1099.41,140.18 L1099.6,142.44 L1099.82,142.31 L1100.12,138.22 L1100.46,131.74 L1100.8,125.52 L1101.13,120.3 L1101.46,115.33 L1101.79,111.07 L1102.11,107.94 L1102.42,105.51 L1102.78,103.05 L1103.23,100.06 L1103.72,97.03 L1104.09,94.7 L1104.24,92.42 L1104.28,90.84 L1104.42,92.61 L1104.81,99.33 L1105.31,109.4 L1105.74,120.65 L1106,133.44 L1106.18,147.41 L1106.4,159.39 L1106.73,168.17 L1107.09,174.96 L1107.39,180.08 L1107.51,182.91 L1107.56,184.09 L1107.72,185.9 L1108.08,190.36 L1108.56,195.45 L1109.03,197.46 L1109.5,194.54 L1109.96,188.52 L1110.35,181.2 L1110.62,171.95 L1110.82,161.39 L1111.01,153.14 L1111.17,149.31 L1111.32,147.8 L1111.5,145.83 L1111.72,141.94 L1111.98,137.61 L1112.32,134.47 L1112.86,133.47 L1113.49,133.66 L1113.97,133.85 L1114.14,133.43 L1114.16,133.01 L1114.3,133.2 L1114.69,134.5 L1115.19,136.41 L1115.62,138.13 L1115.87,139.88 L1116.05,141.44 L1116.27,141.34 L1116.58,138.61 L1116.92,134.22 L1117.26,129.73 L1117.59,125.36 L1117.92,120.89 L1118.25,117.17 L1118.57,114.79 L1118.88,113.16 L1119.24,111.28 L1119.69,108.46 L1120.17,105.4 L1120.55,103.13 L1120.7,101.35 L1120.74,100.36 L1120.88,102.08 L1121.27,107.73 L1121.77,116.1 L1122.2,125.44 L1122.45,136.07 L1122.64,147.69 L1122.86,157.61 L1123.19,164.79 L1123.55,170.27 L1123.84,174.54 L1123.97,177.28 L1124.01,178.81 L1124.17,180.63 L1124.54,184.19 L1125.01,188.04 L1125.49,189.25 L1125.95,186.29 L1126.42,180.69 L1126.81,174.2 L1127.08,166.44 L1127.28,157.78 L1127.46,151 L1127.63,147.78 L1127.78,146.44 L1127.96,144.69 L1128.18,141.26 L1128.43,137.41 L1128.78,134.62 L1129.32,133.71 L1129.95,133.84 L1130.43,134.02 L1130.6,133.7 L1130.62,133.41 L1130.76,133.77 L1131.15,135.31 L1131.65,137.5 L1132.07,139.28 L1132.33,140.61 L1132.51,141.53 L1132.73,141.16 L1133.04,138.86 L1133.38,135.26 L1133.72,131.4 L1134.05,127.2 L1134.38,122.74 L1134.71,119.19 L1135.02,117.37 L1135.34,116.46 L1135.69,115.24 L1136.15,113 L1136.63,110.44 L1137.01,108.37 L1137.16,106.34 L1137.19,104.81 L1137.34,105.93 L1137.73,111.02 L1138.23,118.75 L1138.66,127.26 L1138.91,136.74 L1139.1,146.99 L1139.31,155.57 L1139.64,161.4 L1140.01,165.56 L1140.3,168.82 L1140.42,171.01 L1140.47,172.31 L1140.63,174.04 L1141,177.59 L1141.47,181.57 L1141.95,183.18 L1142.41,181.03 L1142.87,176.51 L1143.26,171.01 L1143.54,164.03 L1143.74,156.06 L1143.92,149.96 L1144.09,147.5 L1144.23,146.9 L1144.42,145.71 L1144.64,142.5 L1144.89,138.69 L1145.24,136.04 L1145.78,135.56 L1146.4,136.23 L1146.89,136.79 L1147.06,136.65 L1147.08,136.39 L1147.21,136.54 L1147.6,137.46 L1148.1,138.79 L1148.53,139.91 L1148.79,140.93 L1148.97,141.75 L1149.19,141.48 L1149.49,139.49 L1149.84,136.41 L1150.18,133.28 L1150.51,130.27 L1150.84,127.19 L1151.16,124.58 L1151.48,122.73 L1151.8,121.34 L1152.15,120.01 L1152.6,118.49 L1153.09,117.04 L1153.47,116.01 L1153.61,115.14 L1153.65,114.69 L1153.8,115.77 L1154.19,118.95 L1154.69,123.66 L1155.11,129.33 L1155.37,136.41 L1155.55,144.44 L1155.77,151.55 L1156.1,157.19 L1156.47,161.91 L1156.76,165.47 L1156.88,167.26 L1156.93,167.89 L1157.09,168.96 L1157.46,171.83 L1157.93,175.15 L1158.41,176.41 L1158.87,174.22 L1159.33,169.98 L1159.72,165.34 L1160,160.32 L1160.2,154.9 L1160.38,150.66 L1160.55,148.65 L1160.69,147.84 L1160.87,146.62 L1161.09,144.12 L1161.35,141.22 L1161.7,139.03 L1162.23,138.12 L1162.86,137.91 L1163.34,137.74 L1163.51,137.26 L1163.54,136.81 L1163.67,136.78 L1164.06,137.44 L1164.56,138.5 L1164.99,139.48 L1165.25,140.5 L1165.43,141.42 L1165.65,141.38 L1165.95,139.78 L1166.29,137.21 L1166.63,134.56 L1166.96,132.01 L1167.29,129.38 L1167.62,127.05 L1167.94,125.09 L1168.26,123.43 L1168.61,122.18 L1169.06,121.5 L1169.55,121.23 L1169.93,121.05 L1170.07,120.4 L1170.11,119.83 L1170.26,120.68 L1170.65,123.75 L1171.15,128.24 L1171.57,133.03 L1171.83,137.98 L1172.01,143.23 L1172.23,148.22 L1172.56,153.04 L1172.93,157.6 L1173.22,160.96 L1173.34,162.12 L1173.39,162.07 L1173.55,162.86 L1173.91,166.12 L1174.39,170.21 L1174.86,172.22 L1175.33,170.55 L1175.79,166.8 L1176.18,162.86 L1176.45,159.01 L1176.66,154.96 L1176.84,151.71 L1177,149.94 L1177.15,148.98 L1177.33,147.78 L1177.55,145.83 L1177.81,143.64 L1178.16,141.71 L1178.69,140.14 L1179.32,138.84 L1179.8,138.01 L1179.97,137.8 L1180,138.05 L1180.13,138.5 L1180.52,139.23 L1181.02,140.14 L1181.45,140.68 L1181.7,140.66 L1181.89,140.26 L1182.11,139.42 L1182.41,138.02 L1182.75,136.19 L1183.09,134.14 L1183.42,131.77 L1183.75,129.18 L1184.08,127.01 L1184.4,125.51 L1184.71,124.42 L1185.07,123.57 L1185.52,122.96 L1186.01,122.6 L1186.38,122.32 L1186.53,121.65 L1186.57,121.07 L1186.71,121.84 L1187.1,124.86 L1187.6,129.24 L1188.03,133.61 L1188.29,137.56 L1188.47,141.5 L1188.69,145.29 L1189.02,149.08 L1189.38,152.71 L1189.68,155.59 L1189.8,157.1 L1189.85,157.85 L1190.01,159.08 L1190.37,161.96 L1190.85,165.33 L1191.32,166.93 L1191.79,165.42 L1192.25,162.13 L1192.64,158.84 L1192.91,155.91 L1193.11,152.98 L1193.3,150.63 L1193.46,149.3 L1193.61,148.56 L1193.79,147.74 L1194.01,146.61 L1194.27,145.4 L1194.61,144.17 L1195.15,142.83 L1195.78,141.47 L1196.26,140.44 L1196.43,139.88 L1196.45,139.65 L1196.59,139.63 L1196.98,139.94 L1197.48,140.47 L1197.91,140.8 L1198.16,140.94 L1198.34,140.89 L1198.56,140.19 L1198.87,138.48 L1199.21,136.12 L1199.55,133.77 L1199.88,131.6 L1200.21,129.44 L1200.54,127.43 L1200.86,125.49 L1201.17,123.7 L1201.53,122.45 L1201.98,121.94 L1202.46,121.97 L1202.84,122.32 L1202.99,122.84 L1203.03,123.67 L1203.17,125.05 L1203.56,127.16 L1204.06,129.81 L1204.49,132.72 L1204.74,135.88 L1204.93,139.29 L1205.15,142.67 L1205.48,146.15 L1205.84,149.59 L1206.13,152.24 L1206.26,153.35 L1206.3,153.67 L1206.46,154.63 L1206.83,157.47 L1207.3,160.96 L1207.78,162.76 L1208.24,161.45 L1208.71,158.47 L1209.1,155.72 L1209.37,153.89 L1209.57,152.29 L1209.75,150.86 L1209.92,149.64 L1210.07,148.6 L1210.25,147.55 L1210.47,146.41 L1210.72,145.27 L1211.07,144.18 L1211.61,143.11 L1212.24,142.09 L1212.72,141.3 L1212.89,140.85 L1212.91,140.64 L1213.05,140.54 L1213.44,140.61 L1213.94,140.8 L1214.36,140.82 L1214.62,140.66 L1214.8,140.33 L1215.02,139.62 L1215.33,138.45 L1215.67,136.89 L1216.01,134.99 L1216.34,132.54 L1216.67,129.75 L1217,127.32 L1217.31,125.36 L1217.63,123.76 L1217.98,122.85 L1218.44,122.96 L1218.92,123.77 L1219.3,124.62 L1219.45,125.11 L1219.48,125.63 L1219.63,126.78 L1220.02,129.02 L1220.52,131.88 L1220.95,134.54 L1221.2,136.58 L1221.39,138.42 L1221.6,140.52 L1221.93,143.34 L1222.3,146.43 L1222.59,148.86 L1222.71,149.98 L1222.76,150.45 L1222.92,151.36 L1223.29,153.61 L1223.76,156.31 L1224.24,157.82 L1224.7,157.2 L1225.16,155.4 L1225.55,153.65 L1225.83,152.28 L1226.03,150.96 L1226.21,149.85 L1226.38,149.09 L1226.52,148.55 L1226.71,148.02 L1226.93,147.59 L1227.18,147.16 L1227.53,146.32 L1228.07,144.53 L1228.69,142.33 L1229.18,140.79 L1229.35,140.56 L1229.37,141 L1229.5,141.32 L1229.89,141.26 L1230.39,141.08 L1230.82,140.7 L1231.08,140.11 L1231.26,139.33 L1231.48,138.37 L1231.78,137.31 L1232.13,136.08 L1232.47,134.47 L1232.8,132.12 L1233.13,129.39 L1233.45,127.22 L1233.77,126.04 L1234.09,125.43 L1234.44,125.06 L1234.89,124.84 L1235.38,124.88 L1235.76,125.09 L1235.9,125.29 L1235.94,125.68 L1236.09,126.75 L1236.48,129.01 L1236.98,131.97 L1237.4,134.61 L1237.66,136.39 L1237.84,137.85 L1238.06,139.69 L1238.39,142.54 L1238.76,145.77 L1239.05,148.12 L1239.17,148.62 L1239.22,148.25 L1239.38,148.59 L1239.75,150.82 L1240.22,153.76 L1240.7,155.55 L1241.16,155.14 L1241.62,153.57 L1242.01,152.03 L1242.29,150.87 L1242.49,149.73 L1242.67,148.74 L1242.84,147.95 L1242.98,147.31 L1243.16,146.79 L1243.38,146.58 L1243.64,146.49 L1243.99,145.91 L1244.52,144.24 L1245.15,142.07 L1245.63,140.58 L1245.8,140.43 L1245.83,140.96 L1245.96,141.4 L1246.35,141.6 L1246.85,141.71 L1247.28,141.44 L1247.54,140.55 L1247.72,139.29 L1247.94,138.08 L1248.24,137.29 L1248.58,136.56 L1248.92,135.24 L1249.25,132.71 L1249.58,129.59 L1249.91,127.13 L1250.23,125.8 L1250.55,125.13 L1250.9,124.94 L1251.35,125.4 L1251.84,126.34 L1252.22,127.14 L1252.36,127.34 L1252.4,127.41 L1252.55,128.06 L1252.94,129.75 L1253.44,132.03 L1253.86,134.29 L1254.12,136.25 L1254.3,138.2 L1254.52,140.35 L1254.85,143.11 L1255.22,146.07 L1255.51,148.29 L1255.63,148.94 L1255.68,148.85 L1255.84,149.51 L1256.2,152.17 L1256.68,155.59 L1257.15,157.56 L1257.62,156.79 L1258.08,154.58 L1258.47,152.62 L1258.74,151.57 L1258.95,150.78 L1259.13,150.03 L1259.29,149.21 L1259.44,148.43 L1259.62,147.77 L1259.84,147.42 L1260.1,147.2 L1260.45,146.63 L1260.98,145.3 L1261.61,143.61 L1262.09,142.25 L1262.26,141.53 L1262.29,141.14 L1262.42,140.89 L1262.81,140.81 L1263.31,140.88 L1263.74,140.75 L1263.99,140.35 L1264.18,139.75 L1264.4,138.85 L1264.7,137.61 L1265.04,136.06 L1265.38,134.21 L1265.71,131.76 L1266.04,128.99 L1266.37,126.85 L1266.69,125.74 L1267,125.25 L1267.36,125.02 L1267.81,124.96 L1268.3,125.15 L1268.67,125.51 L1268.82,125.87 L1268.86,126.41 L1269,127.5 L1269.39,129.48 L1269.89,132.01 L1270.32,134.48 L1270.58,136.56 L1270.76,138.57 L1270.98,140.85 L1271.31,143.9 L1271.67,147.22 L1271.97,149.65 L1272.09,150.22 L1272.14,149.89 L1272.3,150.33 L1272.66,152.79 L1273.14,156.02 L1273.61,157.91 L1274.08,157.27 L1274.54,155.29 L1274.93,153.5 L1275.2,152.42 L1275.4,151.52 L1275.59,150.7 L1275.75,149.95 L1275.9,149.27 L1276.08,148.62 L1276.3,148.13 L1276.56,147.67 L1276.9,146.79 L1277.44,144.98 L1278.07,142.73 L1278.55,141.13 L1278.72,140.76 L1278.74,141.03 L1278.88,141.26 L1279.27,141.28 L1279.77,141.27 L1280.2,141.08 L1280.45,140.71 L1280.63,140.15 L1280.85,139.33 L1281.16,138.19 L1281.5,136.79 L1281.84,135.11 L1282.17,132.95 L1282.5,130.51 L1282.83,128.47 L1283.15,126.97 L1283.46,125.87 L1283.82,125.36 L1284.27,125.76 L1284.75,126.76 L1285.13,127.64 L1285.28,127.92 L1285.32,128.07 L1285.46,128.86 L1285.85,130.82 L1286.35,133.41 L1286.78,135.77 L1287.03,137.44 L1287.22,138.89 L1287.44,140.64 L1287.77,143.14 L1288.13,145.95 L1288.42,148.21 L1288.55,149.3 L1288.59,149.84 L1288.75,150.9 L1289.12,153.49 L1289.59,156.6 L1290.07,158.26 L1290.53,157.21 L1291,154.71 L1291.39,152.63 L1291.66,151.73 L1291.86,151.25 L1292.04,150.72 L1292.21,149.94 L1292.36,149.1 L1292.54,148.34 L1292.76,147.84 L1293.01,147.42 L1293.36,146.68 L1293.9,145.28 L1294.53,143.56 L1295.01,142.24 L1295.18,141.68 L1295.2,141.51 L1295.34,141.31 L1295.73,140.96 L1296.23,140.58 L1296.65,140.09 L1296.91,139.46 L1297.09,138.73 L1297.31,137.93 L1297.62,137.21 L1297.96,136.43 L1298.3,135.19 L1298.63,133.02 L1298.96,130.4 L1299.29,128.34 L1299.6,127.28 L1299.92,126.79 L1300.27,126.59 L1300.73,126.66 L1301.21,127.02 L1301.59,127.46 L1301.74,127.79 L1301.77,128.2 L1301.92,129.03 L1302.31,130.48 L1302.81,132.36 L1303.24,134.4 L1303.49,136.57 L1303.68,138.9 L1303.89,141.18 L1304.22,143.46 L1304.59,145.7 L1304.88,147.53 L1305,148.52 L1305.05,149.11 L1305.21,150.21 L1305.58,152.76 L1306.05,155.82 L1306.53,157.56 L1306.99,156.9 L1307.45,154.92 L1307.84,153.03 L1308.12,151.61 L1308.32,150.28 L1308.5,149.32 L1308.67,149.04 L1308.81,149.13 L1309,148.93 L1309.22,148.18 L1309.47,147.14 L1309.82,145.94 L1310.36,144.38 L1310.98,142.66 L1311.47,141.48 L1311.64,141.31 L1311.66,141.68 L1311.79,141.94 L1312.18,141.96 L1312.68,141.87 L1313.11,141.45 L1313.37,140.5 L1313.55,139.23 L1313.77,138.04 L1314.07,137.23 L1314.42,136.5 L1314.76,135.38 L1315.09,133.45 L1315.42,131.12 L1315.74,129.22 L1316.06,127.95 L1316.38,127.1 L1316.73,126.81 L1317.18,127.39 L1317.67,128.53 L1318.05,129.41 L1318.19,129.49 L1318.23,129.32 L1318.38,129.74 L1318.77,131.24 L1319.27,133.34 L1319.69,135.46 L1319.95,137.38 L1320.13,139.33 L1320.35,141.39 L1320.68,143.88 L1321.05,146.49 L1321.34,148.41 L1321.46,148.87 L1321.51,148.65 L1321.67,149.27 L1322.04,152.04 L1322.51,155.66 L1322.99,157.71 L1323.45,156.72 L1323.91,154.16 L1324.3,152.08 L1324.58,151.37 L1324.78,151.15 L1324.96,150.76 L1325.13,149.91 L1325.27,148.9 L1325.45,148.02 L1325.67,147.55 L1325.93,147.21 L1326.28,146.48 L1326.81,144.88 L1327.44,142.9 L1327.92,141.48 L1328.09,141.21 L1328.12,141.51 L1328.25,141.64 L1328.64,141.32 L1329.14,140.84 L1329.57,140.35 L1329.83,139.9 L1330.01,139.43 L1330.23,138.9 L1330.53,138.38 L1330.87,137.79 L1331.21,136.82 L1331.54,135.05 L1331.87,132.89 L1332.2,131.22 L1332.52,130.42 L1332.84,130.1 L1333.19,129.94 L1333.64,129.84 L1334.13,129.9 L1334.51,130.18 L1334.65,130.7 L1334.69,131.44 L1334.84,132.41 L1335.23,133.7 L1335.73,135.23 L1336.15,136.74 L1336.41,138.07 L1336.59,139.39 L1336.81,141 L1337.14,143.26 L1337.51,145.81 L1337.8,147.86 L1337.92,148.8 L1337.97,149.23 L1338.13,150.12 L1338.49,152.34 L1338.97,155.01 L1339.44,156.41 L1339.91,155.38 L1340.37,153.07 L1340.76,151.19 L1341.03,150.49 L1341.24,150.22 L1341.42,149.81 L1341.58,148.99 L1341.73,148.02 L1341.91,147.17 L1342.13,146.69 L1342.39,146.33 L1342.74,145.59 L1343.27,144.01 L1343.9,142.06 L1344.38,140.66 L1344.55,140.33 L1344.58,140.57 L1344.71,140.77 L1345.1,140.78 L1345.6,140.76 L1346.03,140.65 L1346.28,140.44 L1346.47,140.15 L1346.69,139.77 L1346.99,139.41 L1347.33,138.97 L1347.67,138.07 L1348,136.31 L1348.33,134.1 L1348.66,132.31 L1348.98,131.28 L1349.29,130.68 L1349.65,130.36 L1350.1,130.28 L1350.59,130.48 L1350.96,130.89 L1351.11,131.48 L1351.15,132.29 L1351.29,133.33 L1351.68,134.76 L1352.18,136.43 L1352.61,137.86 L1352.87,138.66 L1353.05,139.23 L1353.27,140.23 L1353.6,142.2 L1353.96,144.6 L1354.26,146.52 L1354.38,147.36 L1354.43,147.71 L1354.59,148.44 L1354.95,150.26 L1355.43,152.46 L1355.9,153.76 L1356.37,153.44 L1356.83,152.21 L1357.22,150.99 L1357.49,150.06 L1357.69,149.14 L1357.88,148.33 L1358.04,147.7 L1358.19,147.18 L1358.37,146.65 L1358.59,146.13 L1358.85,145.6 L1359.19,144.95 L1359.73,143.99 L1360.36,142.9 L1360.84,142.13 L1361.01,141.95 L1361.03,142.09 L1361.17,142.1 L1361.56,141.81 L1362.06,141.39 L1362.49,140.9 L1362.74,140.3 L1362.92,139.64 L1363.14,139.11 L1363.45,138.94 L1363.79,138.91 L1364.13,138.51 L1364.46,137.38 L1364.79,135.88 L1365.12,134.64 L1365.44,133.92 L1365.75,133.47 L1366.11,133.13 L1366.56,132.78 L1367.04,132.55 L1367.42,132.56 L1367.57,132.88 L1367.61,133.45 L1367.75,134.24 L1368.14,135.36 L1368.64,136.7 L1369.07,137.92 L1369.32,138.75 L1369.51,139.47 L1369.73,140.58 L1370.06,142.53 L1370.42,144.87 L1370.71,146.76 L1370.84,147.65 L1370.88,148.09 L1371.04,148.85 L1371.41,150.58 L1371.88,152.62 L1372.36,153.83 L1372.82,153.53 L1373.29,152.39 L1373.68,151.26 L1373.95,150.43 L1374.15,149.61 L1374.33,148.82 L1374.5,148.01 L1374.65,147.23 L1374.83,146.6 L1375.05,146.31 L1375.3,146.17 L1375.65,145.75 L1376.19,144.72 L1376.82,143.41 L1377.3,142.36 L1377.47,141.83 L1377.49,141.56 L1377.63,141.41 L1378.02,141.46 L1378.52,141.63 L1378.94,141.53 L1379.2,140.88 L1379.38,139.97 L1379.6,139.32 L1379.91,139.34 L1380.25,139.61 L1380.59,139.38 L1380.92,138.06 L1381.25,136.24 L1381.58,134.88 L1381.89,134.46 L1382.21,134.51 L1382.56,134.57 L1383.02,134.44 L1383.5,134.32 L1383.88,134.37 L1384.03,134.68 L1384.06,135.17 L1384.21,135.78 L1384.6,136.51 L1385.1,137.37 L1385.53,138.34 L1385.78,139.4 L1385.97,140.58 L1386.18,141.87 L1386.51,143.44 L1386.88,145.14 L1387.17,146.4 L1387.29,146.81 L1387.34,146.8 L1387.5,147.15 L1387.87,148.48 L1388.34,150.17 L1388.82,151.17 L1389.28,150.84 L1389.74,149.82 L1390.13,148.9 L1390.41,148.39 L1390.61,147.98 L1390.79,147.56 L1390.96,147.05 L1391.1,146.51 L1391.29,146.05 L1391.51,145.8 L1391.76,145.63 L1392.11,145.18 L1392.65,144.14 L1393.27,142.84 L1393.76,141.84 L1393.93,141.44 L1393.95,141.36 L1394.08,141.31 L1394.47,141.27 L1394.97,141.26 L1395.4,141.16 L1395.66,140.87 L1395.84,140.49 L1396.06,140.12 L1396.36,139.89 L1396.71,139.68 L1397.05,139.29 L1397.38,138.54 L1397.71,137.62 L1398.03,136.86 L1398.35,136.39 L1398.67,136.08 L1399.02,135.88 L1399.47,135.75 L1399.96,135.73 L1400.34,135.82 L1400.48,136.02 L1400.52,136.33 L1400.67,136.76 L1401.06,137.31 L1401.56,137.98 L1401.98,138.77 L1402.24,139.76 L1402.42,140.87 L1402.64,141.97 L1402.97,143.05 L1403.34,144.12 L1403.63,145 L1403.75,145.48 L1403.8,145.76 L1403.96,146.36 L1404.33,147.78 L1404.8,149.52 L1405.28,150.47 L1405.74,149.94 L1406.2,148.62 L1406.59,147.52 L1406.87,147.03 L1407.07,146.76 L1407.25,146.5 L1407.42,146.21 L1407.56,145.93 L1407.74,145.62 L1407.96,145.31 L1408.22,144.97 L1408.57,144.51 L1409.1,143.83 L1409.73,143.02 L1410.21,142.31 L1410.38,141.72 L1410.41,141.21 L1410.54,140.91 L1410.93,140.91 L1411.43,141.11 L1411.86,141.26 L1412.12,141.35 L1412.3,141.39 L1412.52,141.14 L1412.82,140.37 L1413.16,139.3 L1413.51,138.31 L1413.83,137.53 L1414.16,136.83 L1414.49,136.25 L1414.81,135.78 L1415.13,135.43 L1415.48,135.27 L1415.93,135.4 L1416.42,135.73 L1416.8,136.09 L1416.94,136.48 L1416.98,136.91 L1417.13,137.3 L1417.52,137.5 L1418.02,137.67 L1418.44,138.18 L1418.7,139.28 L1418.88,140.71 L1419.1,142.06 L1419.43,143.3 L1419.8,144.45 L1420.09,145.22 L1420.21,145.19 L1420.26,144.77 L1420.42,144.97 L1420.78,146.65 L1421.26,148.93 L1421.73,150.28 L1422.2,149.78 L1422.66,148.35 L1423.05,147.13 L1423.32,146.56 L1423.53,146.21 L1423.71,145.93 L1423.87,145.79 L1424.02,145.72 L1424.2,145.44 L1424.42,144.74 L1424.68,143.83 L1425.03,143.03 L1425.56,142.42 L1426.19,141.92 L1426.67,141.66 L1426.84,141.8 L1426.87,142.18 L1427,142.36 L1427.39,142.1 L1427.89,141.65 L1428.32,141.32 L1428.57,141.35 L1428.76,141.49 L1428.98,141.35 L1429.28,140.71 L1429.62,139.78 L1429.96,138.8 L1430.29,137.79 L1430.62,136.74 L1430.95,135.91 L1431.27,135.34 L1431.58,134.99 L1431.94,134.98 L1432.39,135.53 L1432.88,136.42 L1433.25,137.02 L1433.4,136.89 L1433.44,136.48 L1433.58,136.46 L1433.97,137.27 L1434.47,138.48 L1434.9,139.55 L1435.16,140.2 L1435.34,140.7 L1435.56,141.4 L1435.89,142.56 L1436.25,143.91 L1436.55,144.95 L1436.67,145.32 L1436.72,145.39 L1436.88,145.76 L1437.24,147 L1437.72,148.54 L1438.19,149.35 L1438.66,148.7 L1439.12,147.31 L1439.51,146.26 L1439.78,146.09 L1439.98,146.25 L1440.17,146.16 L1440.33,145.41 L1440.48,144.39 L1440.66,143.72 L1440.88,143.88 L1441.14,144.39 L1441.48,144.4 L1442.02,143.28 L1442.65,141.68 L1443.13,140.64 L1443.3,140.77 L1443.32,141.47 L1443.46,142.02 L1443.85,142.21 L1444.35,142.24 L1444.78,142.04 L1445.03,141.46 L1445.21,140.65 L1445.43,139.97 L1445.74,139.67 L1446.08,139.51 L1446.42,139.1 L1446.75,138.14 L1447.08,136.94 L1447.41,136.03 L1447.73,135.68 L1448.04,135.62 L1448.4,135.63 L1448.85,135.62 L1449.33,135.67 L1449.71,135.88 L1449.86,136.33 L1449.9,136.93 L1450.04,137.5 L1450.43,137.93 L1450.93,138.33 L1451.36,138.84 L1451.61,139.53 L1451.8,140.33 L1452.02,141.11 L1452.35,141.82 L1452.71,142.51 L1453,143.24 L1453.13,144.03 L1453.17,144.85 L1453.33,145.69 L1453.7,146.77 L1454.17,147.86 L1454.65,148.33 L1455.11,147.7 L1455.58,146.45 L1455.97,145.37 L1456.24,144.73 L1456.44,144.27 L1456.62,143.99 L1456.79,144.02 L1456.94,144.22 L1457.12,144.24 L1457.34,143.9 L1457.59,143.37 L1457.94,142.84 L1458.48,142.3 L1459.11,141.75 L1459.59,141.39 L1459.76,141.37 L1459.78,141.54 L1459.92,141.65 L1460.31,141.61 L1460.81,141.5 L1461.23,141.31 L1461.49,140.94 L1461.67,140.48 L1461.89,140.12 L1462.2,140.06 L1462.54,140.09 L1462.88,139.78 L1463.21,138.81 L1463.54,137.49 L1463.87,136.36 L1464.18,135.53 L1464.5,134.89 L1464.85,134.59 L1465.31,134.87 L1465.79,135.49 L1466.17,136 L1466.32,136.07 L1466.35,136.01 L1466.5,136.27 L1466.89,137.14 L1467.39,138.33 L1467.82,139.36 L1468.07,140.02 L1468.26,140.52 L1468.47,141.08 L1468.8,141.89 L1469.17,142.75 L1469.46,143.41 L1469.58,143.63 L1469.63,143.64 L1469.79,143.81 L1470.16,144.44 L1470.63,145.23 L1471.11,145.74 L1471.57,145.7 L1472.03,145.37 L1472.42,145.08 L1472.7,144.98 L1472.9,144.93 L1473.08,144.81 L1473.25,144.56 L1473.39,144.24 L1473.58,143.99 L1473.8,143.93 L1474.05,143.94 L1474.4,143.77 L1474.94,143.25 L1475.56,142.56 L1476.05,141.98 L1476.28,141.65 L1476.37,141.45 L1476.37,141.29 L1476.29,141.17 L1476.12,141.09 L1476,141.04" fill="none" stroke="#00994C" stroke-width="2.8" stroke-linejoin="round" stroke-linecap="round" clip-path="url(#cb2)"/>
<line x1="1059.95" y1="243.2" x2="1059.95" y2="238.2" stroke="#000" stroke-width="3.2" stroke-linecap="butt"/>
<line x1="1059.95" y1="40.4" x2="1059.95" y2="45.4" stroke="#000" stroke-width="3.2" stroke-linecap="butt"/>
<line x1="1085.49" y1="243.2" x2="1085.49" y2="238.2" stroke="#000" stroke-width="3.2" stroke-linecap="butt"/>
<line x1="1085.49" y1="40.4" x2="1085.49" y2="45.4" stroke="#000" stroke-width="3.2" stroke-linecap="butt"/>
<line x1="1111.04" y1="243.2" x2="1111.04" y2="238.2" stroke="#000" stroke-width="3.2" stroke-linecap="butt"/>
<line x1="1111.04" y1="40.4" x2="1111.04" y2="45.4" stroke="#000" stroke-width="3.2" stroke-linecap="butt"/>
<line x1="1136.58" y1="243.2" x2="1136.58" y2="235.2" stroke="#000" stroke-width="3.2" stroke-linecap="butt"/>
<line x1="1136.58" y1="40.4" x2="1136.58" y2="48.4" stroke="#000" stroke-width="3.2" stroke-linecap="butt"/>
<line x1="1162.13" y1="243.2" x2="1162.13" y2="238.2" stroke="#000" stroke-width="3.2" stroke-linecap="butt"/>
<line x1="1162.13" y1="40.4" x2="1162.13" y2="45.4" stroke="#000" stroke-width="3.2" stroke-linecap="butt"/>
<line x1="1187.67" y1="243.2" x2="1187.67" y2="238.2" stroke="#000" stroke-width="3.2" stroke-linecap="butt"/>
<line x1="1187.67" y1="40.4" x2="1187.67" y2="45.4" stroke="#000" stroke-width="3.2" stroke-linecap="butt"/>
<line x1="1213.22" y1="243.2" x2="1213.22" y2="238.2" stroke="#000" stroke-width="3.2" stroke-linecap="butt"/>
<line x1="1213.22" y1="40.4" x2="1213.22" y2="45.4" stroke="#000" stroke-width="3.2" stroke-linecap="butt"/>
<line x1="1238.76" y1="243.2" x2="1238.76" y2="235.2" stroke="#000" stroke-width="3.2" stroke-linecap="butt"/>
<line x1="1238.76" y1="40.4" x2="1238.76" y2="48.4" stroke="#000" stroke-width="3.2" stroke-linecap="butt"/>
<line x1="1264.31" y1="243.2" x2="1264.31" y2="238.2" stroke="#000" stroke-width="3.2" stroke-linecap="butt"/>
<line x1="1264.31" y1="40.4" x2="1264.31" y2="45.4" stroke="#000" stroke-width="3.2" stroke-linecap="butt"/>
<line x1="1289.85" y1="243.2" x2="1289.85" y2="238.2" stroke="#000" stroke-width="3.2" stroke-linecap="butt"/>
<line x1="1289.85" y1="40.4" x2="1289.85" y2="45.4" stroke="#000" stroke-width="3.2" stroke-linecap="butt"/>
<line x1="1315.4" y1="243.2" x2="1315.4" y2="238.2" stroke="#000" stroke-width="3.2" stroke-linecap="butt"/>
<line x1="1315.4" y1="40.4" x2="1315.4" y2="45.4" stroke="#000" stroke-width="3.2" stroke-linecap="butt"/>
<line x1="1340.94" y1="243.2" x2="1340.94" y2="235.2" stroke="#000" stroke-width="3.2" stroke-linecap="butt"/>
<line x1="1340.94" y1="40.4" x2="1340.94" y2="48.4" stroke="#000" stroke-width="3.2" stroke-linecap="butt"/>
<line x1="1366.49" y1="243.2" x2="1366.49" y2="238.2" stroke="#000" stroke-width="3.2" stroke-linecap="butt"/>
<line x1="1366.49" y1="40.4" x2="1366.49" y2="45.4" stroke="#000" stroke-width="3.2" stroke-linecap="butt"/>
<line x1="1392.03" y1="243.2" x2="1392.03" y2="238.2" stroke="#000" stroke-width="3.2" stroke-linecap="butt"/>
<line x1="1392.03" y1="40.4" x2="1392.03" y2="45.4" stroke="#000" stroke-width="3.2" stroke-linecap="butt"/>
<line x1="1417.58" y1="243.2" x2="1417.58" y2="238.2" stroke="#000" stroke-width="3.2" stroke-linecap="butt"/>
<line x1="1417.58" y1="40.4" x2="1417.58" y2="45.4" stroke="#000" stroke-width="3.2" stroke-linecap="butt"/>
<line x1="1443.12" y1="243.2" x2="1443.12" y2="235.2" stroke="#000" stroke-width="3.2" stroke-linecap="butt"/>
<line x1="1443.12" y1="40.4" x2="1443.12" y2="48.4" stroke="#000" stroke-width="3.2" stroke-linecap="butt"/>
<line x1="1468.67" y1="243.2" x2="1468.67" y2="238.2" stroke="#000" stroke-width="3.2" stroke-linecap="butt"/>
<line x1="1468.67" y1="40.4" x2="1468.67" y2="45.4" stroke="#000" stroke-width="3.2" stroke-linecap="butt"/>
<line x1="1033.8" y1="233.9" x2="1038.8" y2="233.9" stroke="#000" stroke-width="3.2" stroke-linecap="butt"/>
<line x1="1477.6" y1="233.9" x2="1472.6" y2="233.9" stroke="#000" stroke-width="3.2" stroke-linecap="butt"/>
<line x1="1033.8" y1="187.7" x2="1038.8" y2="187.7" stroke="#000" stroke-width="3.2" stroke-linecap="butt"/>
<line x1="1477.6" y1="187.7" x2="1472.6" y2="187.7" stroke="#000" stroke-width="3.2" stroke-linecap="butt"/>
<line x1="1033.8" y1="141.5" x2="1038.8" y2="141.5" stroke="#000" stroke-width="3.2" stroke-linecap="butt"/>
<line x1="1477.6" y1="141.5" x2="1472.6" y2="141.5" stroke="#000" stroke-width="3.2" stroke-linecap="butt"/>
<line x1="1033.8" y1="95.3" x2="1038.8" y2="95.3" stroke="#000" stroke-width="3.2" stroke-linecap="butt"/>
<line x1="1477.6" y1="95.3" x2="1472.6" y2="95.3" stroke="#000" stroke-width="3.2" stroke-linecap="butt"/>
<line x1="1033.8" y1="49.1" x2="1038.8" y2="49.1" stroke="#000" stroke-width="3.2" stroke-linecap="butt"/>
<line x1="1477.6" y1="49.1" x2="1472.6" y2="49.1" stroke="#000" stroke-width="3.2" stroke-linecap="butt"/>
<text transform="translate(1034.7,274.2) scale(0.91,1)" font-size="31" text-anchor="middle" fill="#000"><tspan>0.08</tspan></text>
<text transform="translate(1136.88,274.2) scale(0.91,1)" font-size="31" text-anchor="middle" fill="#000"><tspan>0.10</tspan></text>
<text transform="translate(1239.06,274.2) scale(0.91,1)" font-size="31" text-anchor="middle" fill="#000"><tspan>0.12</tspan></text>
<text transform="translate(1341.24,274.2) scale(0.91,1)" font-size="31" text-anchor="middle" fill="#000"><tspan>0.14</tspan></text>
<text transform="translate(1443.42,274.2) scale(0.91,1)" font-size="31" text-anchor="middle" fill="#000"><tspan>0.16</tspan></text>
<text transform="translate(1031.6,243.1) scale(0.91,1)" font-size="31" text-anchor="end" fill="#000"><tspan>-4</tspan></text>
<text transform="translate(1031.6,196.9) scale(0.91,1)" font-size="31" text-anchor="end" fill="#000"><tspan>-2</tspan></text>
<text transform="translate(1031.6,150.7) scale(0.91,1)" font-size="31" text-anchor="end" fill="#000"><tspan>0</tspan></text>
<text transform="translate(1031.6,104.5) scale(0.91,1)" font-size="31" text-anchor="end" fill="#000"><tspan>2</tspan></text>
<text transform="translate(1031.6,58.3) scale(0.91,1)" font-size="31" text-anchor="end" fill="#000"><tspan>4</tspan></text>
<text transform="translate(1209.64,297.6) scale(0.9232786885245914,1)" font-size="27.5" text-anchor="start" fill="#000"><tspan>1/</tspan><tspan font-style="italic">B</tspan></text>
<text transform="translate(1251.68,297.6) scale(0.8713958810068633,1)" font-size="27.5" text-anchor="start" fill="#000"><tspan>(1/T)</tspan></text>
<text transform="translate(1004,215.36) rotate(-90) scale(0.8845814977973567,1)" font-size="27" text-anchor="start" fill="#000"><tspan>Δ</tspan><tspan font-style="italic" dx="-1.5">ρ</tspan><tspan>  (μΩ cm)</tspan></text>
<line x1="908.9" y1="567.6" x2="908.9" y2="563.6" stroke="#000" stroke-width="3.2" stroke-linecap="butt"/>
<line x1="908.9" y1="303.2" x2="908.9" y2="307.2" stroke="#000" stroke-width="3.2" stroke-linecap="butt"/>
<line x1="994.63" y1="567.6" x2="994.63" y2="563.6" stroke="#000" stroke-width="3.2" stroke-linecap="butt"/>
<line x1="994.63" y1="303.2" x2="994.63" y2="307.2" stroke="#000" stroke-width="3.2" stroke-linecap="butt"/>
<line x1="1080.37" y1="567.6" x2="1080.37" y2="563.6" stroke="#000" stroke-width="3.2" stroke-linecap="butt"/>
<line x1="1080.37" y1="303.2" x2="1080.37" y2="307.2" stroke="#000" stroke-width="3.2" stroke-linecap="butt"/>
<line x1="1166.1" y1="567.6" x2="1166.1" y2="563.6" stroke="#000" stroke-width="3.2" stroke-linecap="butt"/>
<line x1="1166.1" y1="303.2" x2="1166.1" y2="307.2" stroke="#000" stroke-width="3.2" stroke-linecap="butt"/>
<line x1="1251.84" y1="567.6" x2="1251.84" y2="563.6" stroke="#000" stroke-width="3.2" stroke-linecap="butt"/>
<line x1="1251.84" y1="303.2" x2="1251.84" y2="307.2" stroke="#000" stroke-width="3.2" stroke-linecap="butt"/>
<line x1="1337.57" y1="567.6" x2="1337.57" y2="563.6" stroke="#000" stroke-width="3.2" stroke-linecap="butt"/>
<line x1="1337.57" y1="303.2" x2="1337.57" y2="307.2" stroke="#000" stroke-width="3.2" stroke-linecap="butt"/>
<line x1="1423.3" y1="567.6" x2="1423.3" y2="563.6" stroke="#000" stroke-width="3.2" stroke-linecap="butt"/>
<line x1="1423.3" y1="303.2" x2="1423.3" y2="307.2" stroke="#000" stroke-width="3.2" stroke-linecap="butt"/>
<line x1="826.9" y1="464.2" x2="831.4" y2="464.2" stroke="#000" stroke-width="3.2" stroke-linecap="butt"/>
<line x1="1479" y1="464.2" x2="1474.5" y2="464.2" stroke="#000" stroke-width="3.2" stroke-linecap="butt"/>
<line x1="826.9" y1="360.8" x2="831.4" y2="360.8" stroke="#000" stroke-width="3.2" stroke-linecap="butt"/>
<line x1="1479" y1="360.8" x2="1474.5" y2="360.8" stroke="#000" stroke-width="3.2" stroke-linecap="butt"/>
<clipPath id="cb3"><rect x="829.4" y="304.8" width="648" height="261.6"/></clipPath>
<path d="M829.5,561 L830.17,558.24 L831.13,554.6 L832.1,553 L832.96,555.66 L833.84,560.37 L834.8,563.4 L835.93,562.56 L837.14,560.05 L838.3,558.7 L839.3,560.59 L840.24,563.64 L841.3,564.5 L842.58,560.85 L843.97,555.01 L845.3,550.6 L846.47,549.41 L847.58,549.65 L848.7,549.5 L849.86,547.46 L851.03,545.03 L852.2,544.9 L853.37,549.67 L854.54,556.74 L855.7,561 L856.84,559.34 L857.96,554.86 L859.1,551.8 L860.22,552.59 L861.35,554.78 L862.6,555.3 L864.05,551.39 L865.62,545.81 L867.2,543.7 L868.7,550.65 L870.2,561.07 L871.9,563.4 L873.97,547.77 L876.23,524.04 L878.3,510.2 L880.01,518.45 L881.53,536.59 L883,546 L884.42,533.74 L885.8,512.75 L887.3,503.2 L889.13,518.51 L891.09,545.27 L892.7,563.4 L893.65,561.93 L894.26,551.84 L895,546 L896.08,552.93 L897.3,564.1 L898.5,566.8 L899.63,554.54 L900.76,533.8 L901.9,511.3 L903.07,487.36 L904.26,461.67 L905.5,440 L906.84,423.02 L908.23,410.06 L909.6,404.9 L910.89,408.81 L912.16,420.53 L913.5,440 L915.03,476.46 L916.63,520.67 L918.1,544.9 L919.34,534.55 L920.44,504.23 L921.5,470 L922.53,433.49 L923.52,393.09 L924.5,360 L925.47,337.15 L926.42,321.63 L927.4,315.9 L928.4,321.63 L929.43,337.15 L930.5,360 L931.56,392.27 L932.67,431.86 L934,470 L935.83,507.09 L937.87,542.73 L939.5,567 L940.28,572.63 L940.63,566.88 L941.2,561.6 L942.13,561.07 L943.26,561 L944.8,560.4 L947.02,558.38 L949.64,555.82 L952,554.4 L953.84,555.16 L955.42,557.04 L956.8,558.6 L957.93,559 L958.87,559.07 L959.8,559.8 L960.62,562.69 L961.44,566.24 L962.8,567 L965.13,561.84 L968,553.89 L970.6,549 L972.6,550.4 L974.33,554.87 L976,558.6 L977.64,559.99 L979.22,560.64 L980.8,561.6 L982.31,563.78 L983.82,566.27 L985.6,567.4 L987.98,565.78 L990.62,562.8 L992.8,561 L994.06,561.93 L994.85,564.03 L995.8,565.2 L997.07,564.44 L998.5,562.75 L1000.2,561 L1002.29,559.05 L1004.65,557.04 L1007,556.3 L1009.28,558.14 L1011.55,561.26 L1013.7,563 L1015.69,561.54 L1017.56,558.72 L1019.3,557.4 L1020.89,559.52 L1022.36,563.14 L1023.8,565.3 L1025.2,564.62 L1026.57,562.47 L1028,560 L1029.48,556.68 L1031.03,553.03 L1032.8,551.8 L1035.05,555.99 L1037.52,562.58 L1039.6,565.3 L1041,561.59 L1042,553.99 L1042.9,543.9 L1043.74,530.76 L1044.48,515.12 L1045.2,500 L1045.94,487.39 L1046.68,475.29 L1047.4,460.8 L1048.11,441.33 L1048.81,419.47 L1049.5,400 L1050.17,382.43 L1050.84,367.26 L1051.5,360.8 L1052.17,367.76 L1052.85,383.43 L1053.5,400 L1054.11,413.8 L1054.71,428.49 L1055.3,447.3 L1055.87,478.9 L1056.43,514.62 L1057.1,531.6 L1057.99,514.43 L1058.98,478.53 L1059.8,447.3 L1060.3,429.41 L1060.63,416.19 L1061,405 L1061.48,393.68 L1061.99,384.4 L1062.5,381 L1063,386.02 L1063.51,396.93 L1064,410 L1064.45,424.24 L1064.89,440.65 L1065.4,458.5 L1066.04,478.84 L1066.75,500.63 L1067.5,520 L1068.13,536.65 L1068.8,550.88 L1069.9,559.7 L1071.8,559.47 L1074.14,553.84 L1076.2,550.7 L1077.54,554.41 L1078.61,560.62 L1080,564.2 L1082.14,561.76 L1084.6,556.69 L1086.7,554 L1088.02,556.94 L1088.98,562.26 L1090.1,565.3 L1091.65,563.79 L1093.37,559.99 L1095,556 L1096.33,551.55 L1097.57,546.91 L1099.1,545 L1101.23,548.35 L1103.66,554.43 L1105.8,558.5 L1107.36,558.21 L1108.65,555.91 L1110,554 L1111.54,553.15 L1113.15,552.68 L1114.8,552.9 L1116.47,554.48 L1118.19,556.74 L1120,558 L1121.91,556.98 L1123.91,554.95 L1126,554 L1128.3,555.53 L1130.7,558.14 L1132.8,559.7 L1134.37,559.14 L1135.65,557.53 L1137,556 L1138.58,554.58 L1140.22,553.23 L1141.8,553 L1143.22,554.74 L1144.58,557.59 L1146,560 L1147.49,561.41 L1149.04,562.37 L1150.8,563 L1153.03,564.44 L1155.47,565.56 L1157.5,563 L1158.74,554.24 L1159.58,541.82 L1160.5,530 L1161.73,518.73 L1163.05,508.05 L1164.3,502.4 L1165.4,504.93 L1166.43,512.49 L1167.5,520 L1168.69,526.61 L1169.91,533.17 L1171,537.2 L1171.84,536.32 L1172.55,532.9 L1173.3,531.6 L1174.16,534.53 L1175.07,539.57 L1176,545 L1176.89,551.63 L1177.81,558.64 L1178.9,561.9 L1180.34,557.39 L1181.96,549.13 L1183.4,545 L1184.47,551.81 L1185.37,562.76 L1186.3,565.3 L1187.36,552.09 L1188.46,530.47 L1189.5,510 L1190.45,493.35 L1191.34,477.85 L1192.2,465 L1193.02,454.63 L1193.81,446.92 L1194.6,443.9 L1195.38,446.92 L1196.16,454.63 L1197,465 L1197.93,478.47 L1198.93,494.6 L1200,510 L1201.08,524.5 L1202.23,538.27 L1203.6,548.4 L1205.36,552.49 L1207.34,552.93 L1209.2,554 L1210.78,558.06 L1212.24,562.74 L1213.7,565.3 L1215.12,563.76 L1216.54,560.08 L1218.2,557.4 L1220.27,556.89 L1222.58,557.38 L1224.9,558.5 L1227.14,560.72 L1229.39,563.57 L1231.7,565.3 L1234.2,564.91 L1236.76,563.39 L1239,562 L1240.58,561.4 L1241.85,560.91 L1243.5,559.8 L1246.06,557.18 L1249,553.93 L1251.4,551.9 L1252.74,552.39 L1253.56,554.1 L1254.5,555 L1255.84,553.61 L1257.31,551.41 L1258.8,550.8 L1260.31,553.63 L1261.85,558.04 L1263.3,560.9 L1264.52,560.56 L1265.65,558.66 L1267,557 L1268.84,556 L1270.9,555.24 L1272.7,555.3 L1273.93,556.91 L1274.89,559.34 L1276,560.9 L1277.48,560.54 L1279.11,559.31 L1280.6,558.7 L1281.83,559.76 L1282.92,561.44 L1284,562 L1284.98,560.18 L1285.95,557.24 L1287.3,555.3 L1289.4,555.2 L1291.89,556.1 L1294,557.5 L1295.33,559.76 L1296.3,562.54 L1297.4,564.3 L1298.89,564 L1300.52,562.68 L1302,562 L1303.15,563.13 L1304.16,564.89 L1305.3,565.4 L1306.69,563.23 L1308.2,559.8 L1309.8,557.5 L1311.49,557.39 L1313.26,558.41 L1315,559.8 L1316.7,562.94 L1318.37,566.45 L1319.9,565.4 L1321.24,556.44 L1322.43,542.92 L1323.5,530 L1324.43,518.86 L1325.23,508.31 L1326,500 L1326.75,494.29 L1327.47,490.82 L1328.2,490.1 L1328.95,492.49 L1329.71,497.63 L1330.5,505 L1331.31,515.78 L1332.14,528.8 L1333,540 L1333.83,548.09 L1334.67,554.37 L1335.7,558.7 L1336.96,560.54 L1338.4,560.42 L1340,559.8 L1341.83,558.74 L1343.83,557.18 L1345.8,556.4 L1347.76,557.29 L1349.7,558.96 L1351.4,560 L1352.66,559.36 L1353.67,558.1 L1354.8,558 L1356.22,560.45 L1357.76,564.07 L1359.3,566.5 L1360.84,566.94 L1362.39,566.19 L1363.8,564.3 L1364.99,560.8 L1366.04,556.16 L1367.1,551.9 L1368.23,548.36 L1369.36,545.19 L1370.5,542.9 L1371.68,542.49 L1372.86,542.96 L1373.9,541.8 L1374.73,538.56 L1375.42,533.68 L1376.1,526 L1376.81,513.5 L1377.51,498.19 L1378.2,485 L1378.86,474.81 L1379.51,466.74 L1380.2,463 L1380.93,465.12 L1381.7,471.57 L1382.5,480 L1383.31,489.78 L1384.16,501.53 L1385.1,514.8 L1386.13,531.64 L1387.26,549.99 L1388.5,563.2 L1389.92,567.64 L1391.46,566.96 L1393,565.4 L1394.46,564.24 L1395.92,562.21 L1397.5,559.8 L1399.33,556.47 L1401.27,552.76 L1403.1,550.8 L1404.7,552.24 L1406.18,555.43 L1407.6,557.5 L1408.93,556.65 L1410.21,554.68 L1411.6,554.1 L1413.23,556.76 L1414.97,560.8 L1416.6,563.2 L1418.04,561.93 L1419.36,559.02 L1420.6,557.5 L1421.65,559.63 L1422.61,563.16 L1423.8,564.3 L1425.37,560.23 L1427.16,553.78 L1429,549.7 L1430.84,550.47 L1432.73,553.61 L1434.6,556.4 L1436.4,557.89 L1438.18,559.03 L1440,560 L1441.87,560.77 L1443.78,561.37 L1445.8,562 L1448.08,563.36 L1450.47,564.75 L1452.6,564.3 L1454.2,560.83 L1455.53,555.51 L1457,550 L1458.86,543.76 L1460.86,537.32 L1462.7,533.9 L1464.3,535.63 L1465.75,540.37 L1467,545 L1467.9,548.44 L1468.59,551.76 L1469.5,555 L1470.86,558.46 L1472.44,561.83 L1473.9,564.3 L1475.23,565.31 L1476.46,565.42 L1477.3,565.4" fill="none" stroke="#FF00CC" stroke-width="1.7" stroke-linejoin="round" stroke-linecap="round" clip-path="url(#cb3)"/>
<text transform="translate(909.4,596.8) scale(0.91,1)" font-size="31" text-anchor="middle" fill="#000"><tspan>1200</tspan></text>
<text transform="translate(995.13,596.8) scale(0.91,1)" font-size="31" text-anchor="middle" fill="#000"><tspan>1400</tspan></text>
<text transform="translate(1080.87,596.8) scale(0.91,1)" font-size="31" text-anchor="middle" fill="#000"><tspan>1600</tspan></text>
<text transform="translate(1166.6,596.8) scale(0.91,1)" font-size="31" text-anchor="middle" fill="#000"><tspan>1800</tspan></text>
<text transform="translate(1252.34,596.8) scale(0.91,1)" font-size="31" text-anchor="middle" fill="#000"><tspan>2000</tspan></text>
<text transform="translate(1338.07,596.8) scale(0.91,1)" font-size="31" text-anchor="middle" fill="#000"><tspan>2200</tspan></text>
<text transform="translate(1423.8,596.8) scale(0.91,1)" font-size="31" text-anchor="middle" fill="#000"><tspan>2400</tspan></text>
<text transform="translate(824.6,577) scale(0.91,1)" font-size="31" text-anchor="end" fill="#000"><tspan>0.0</tspan></text>
<text transform="translate(824.6,473.6) scale(0.91,1)" font-size="31" text-anchor="end" fill="#000"><tspan>0.2</tspan></text>
<text transform="translate(824.6,370.2) scale(0.91,1)" font-size="31" text-anchor="end" fill="#000"><tspan>0.4</tspan></text>
<text transform="translate(1127.51,623) scale(0.9074626865671669,1)" font-size="26.7" text-anchor="start" fill="#000"><tspan font-style="italic">F</tspan></text>
<text transform="translate(1147.95,623) scale(0.9522267206477762,1)" font-size="26.7" text-anchor="start" fill="#000"><tspan>(T)</tspan></text>
<text transform="translate(774.5,520.71) rotate(-90) scale(0.8698874917273329,1)" font-size="27" text-anchor="start" fill="#000"><tspan>Amplitude (a.u.)</tspan></text>
<text transform="translate(864.59,343.6) scale(0.9315926892950397,1)" font-size="46" text-anchor="start" fill="#000"><tspan>2β</tspan></text>
<text transform="translate(944.67,338) scale(0.9319796954314716,1)" font-size="45.5" text-anchor="start" fill="#000"><tspan>4α</tspan></text>
<text transform="translate(1041.68,343) scale(0.9505882352941197,1)" font-size="43" text-anchor="start" fill="#000"><tspan>γ</tspan></text>
<text transform="translate(1071.57,386.6) scale(0.9232375979112281,1)" font-size="45" text-anchor="start" fill="#000"><tspan>5α</tspan></text>
<text transform="translate(1172.26,435) scale(0.9527851458885913,1)" font-size="44.6" text-anchor="start" fill="#000"><tspan>6α</tspan></text>
<text transform="translate(1133.36,479.9) scale(0.9365333333333353,1)" font-size="44.5" text-anchor="start" fill="#000"><tspan>3β</tspan></text>
<text transform="translate(1302.04,474.4) scale(0.9077720207253877,1)" font-size="45.8" text-anchor="start" fill="#000"><tspan>7α</tspan></text>
<text transform="translate(1403.56,457.5) scale(0.9186700767263399,1)" font-size="46" text-anchor="start" fill="#000"><tspan>8α</tspan></text>
<text transform="translate(1324.75,403.5) scale(0.8666666666666648,1)" font-size="45.5" text-anchor="start" fill="#000"><tspan>2α</tspan></text>
<text transform="translate(1369.25,412.3) scale(1.1115044247787642,1)" font-size="29.7" text-anchor="start" fill="#000"><tspan>3</tspan></text>
<text transform="translate(855.25,409) scale(1.0377142857142827,1)" font-size="43.4" text-anchor="start" fill="#000"><tspan>α</tspan></text>
<text transform="translate(879.22,417.3) scale(1.047787610619474,1)" font-size="29.7" text-anchor="start" fill="#000"><tspan>3</tspan></text>
<text transform="translate(833.54,457.6) scale(1.0468571428571418,1)" font-size="43.4" text-anchor="start" fill="#000"><tspan>α</tspan></text>
<text transform="translate(856.69,466.9) scale(1.0526315789473684,1)" font-size="31.5" text-anchor="start" fill="#000"><tspan>2</tspan></text>
<line x1="859.9" y1="471.4" x2="868.39" y2="489.34" stroke="#000" stroke-width="3.5" stroke-linecap="butt"/>
<path d="M874.8,502.9 L863.19,489.58 L871.87,485.48 Z" fill="#000"/>
<line x1="874.2" y1="418" x2="883.29" y2="478.86" stroke="#000" stroke-width="3.5" stroke-linecap="butt"/>
<path d="M885.5,493.7 L878.24,477.59 L887.74,476.18 Z" fill="#000"/>
<line x1="902" y1="352.7" x2="905.4" y2="382.6" stroke="#000" stroke-width="3.5" stroke-linecap="butt"/>
<path d="M907.1,397.5 L900.41,381.15 L909.95,380.07 Z" fill="#000"/>
<line x1="1364.9" y1="419.3" x2="1372.4" y2="441.02" stroke="#000" stroke-width="3.5" stroke-linecap="butt"/>
<path d="M1377.3,455.2 L1367.21,440.7 L1376.29,437.56 Z" fill="#000"/>
<line x1="1432.3" y1="468.7" x2="1453.8" y2="512.63" stroke="#000" stroke-width="3.5" stroke-linecap="butt"/>
<path d="M1460.4,526.1 L1448.61,512.94 L1457.24,508.72 Z" fill="#000"/>
<line x1="137.15" y1="1430.7" x2="137.15" y2="1425.9" stroke="#000" stroke-width="3.2" stroke-linecap="butt"/>
<line x1="137.15" y1="770.1" x2="137.15" y2="774.9" stroke="#000" stroke-width="3.2" stroke-linecap="butt"/>
<line x1="158.32" y1="1430.7" x2="158.32" y2="1425.9" stroke="#000" stroke-width="3.2" stroke-linecap="butt"/>
<line x1="158.32" y1="770.1" x2="158.32" y2="774.9" stroke="#000" stroke-width="3.2" stroke-linecap="butt"/>
<line x1="175.63" y1="1430.7" x2="175.63" y2="1425.9" stroke="#000" stroke-width="3.2" stroke-linecap="butt"/>
<line x1="175.63" y1="770.1" x2="175.63" y2="774.9" stroke="#000" stroke-width="3.2" stroke-linecap="butt"/>
<line x1="190.25" y1="1430.7" x2="190.25" y2="1425.9" stroke="#000" stroke-width="3.2" stroke-linecap="butt"/>
<line x1="190.25" y1="770.1" x2="190.25" y2="774.9" stroke="#000" stroke-width="3.2" stroke-linecap="butt"/>
<line x1="202.93" y1="1430.7" x2="202.93" y2="1425.9" stroke="#000" stroke-width="3.2" stroke-linecap="butt"/>
<line x1="202.93" y1="770.1" x2="202.93" y2="774.9" stroke="#000" stroke-width="3.2" stroke-linecap="butt"/>
<line x1="214.1" y1="1430.7" x2="214.1" y2="1425.9" stroke="#000" stroke-width="3.2" stroke-linecap="butt"/>
<line x1="214.1" y1="770.1" x2="214.1" y2="774.9" stroke="#000" stroke-width="3.2" stroke-linecap="butt"/>
<line x1="224.1" y1="1430.7" x2="224.1" y2="1422.3" stroke="#000" stroke-width="3.2" stroke-linecap="butt"/>
<line x1="224.1" y1="770.1" x2="224.1" y2="778.5" stroke="#000" stroke-width="3.2" stroke-linecap="butt"/>
<line x1="289.88" y1="1430.7" x2="289.88" y2="1425.9" stroke="#000" stroke-width="3.2" stroke-linecap="butt"/>
<line x1="289.88" y1="770.1" x2="289.88" y2="774.9" stroke="#000" stroke-width="3.2" stroke-linecap="butt"/>
<line x1="328.35" y1="1430.7" x2="328.35" y2="1425.9" stroke="#000" stroke-width="3.2" stroke-linecap="butt"/>
<line x1="328.35" y1="770.1" x2="328.35" y2="774.9" stroke="#000" stroke-width="3.2" stroke-linecap="butt"/>
<line x1="355.65" y1="1430.7" x2="355.65" y2="1425.9" stroke="#000" stroke-width="3.2" stroke-linecap="butt"/>
<line x1="355.65" y1="770.1" x2="355.65" y2="774.9" stroke="#000" stroke-width="3.2" stroke-linecap="butt"/>
<line x1="376.82" y1="1430.7" x2="376.82" y2="1425.9" stroke="#000" stroke-width="3.2" stroke-linecap="butt"/>
<line x1="376.82" y1="770.1" x2="376.82" y2="774.9" stroke="#000" stroke-width="3.2" stroke-linecap="butt"/>
<line x1="394.13" y1="1430.7" x2="394.13" y2="1425.9" stroke="#000" stroke-width="3.2" stroke-linecap="butt"/>
<line x1="394.13" y1="770.1" x2="394.13" y2="774.9" stroke="#000" stroke-width="3.2" stroke-linecap="butt"/>
<line x1="408.75" y1="1430.7" x2="408.75" y2="1425.9" stroke="#000" stroke-width="3.2" stroke-linecap="butt"/>
<line x1="408.75" y1="770.1" x2="408.75" y2="774.9" stroke="#000" stroke-width="3.2" stroke-linecap="butt"/>
<line x1="421.43" y1="1430.7" x2="421.43" y2="1425.9" stroke="#000" stroke-width="3.2" stroke-linecap="butt"/>
<line x1="421.43" y1="770.1" x2="421.43" y2="774.9" stroke="#000" stroke-width="3.2" stroke-linecap="butt"/>
<line x1="432.6" y1="1430.7" x2="432.6" y2="1425.9" stroke="#000" stroke-width="3.2" stroke-linecap="butt"/>
<line x1="432.6" y1="770.1" x2="432.6" y2="774.9" stroke="#000" stroke-width="3.2" stroke-linecap="butt"/>
<line x1="442.6" y1="1430.7" x2="442.6" y2="1422.3" stroke="#000" stroke-width="3.2" stroke-linecap="butt"/>
<line x1="442.6" y1="770.1" x2="442.6" y2="778.5" stroke="#000" stroke-width="3.2" stroke-linecap="butt"/>
<line x1="508.38" y1="1430.7" x2="508.38" y2="1425.9" stroke="#000" stroke-width="3.2" stroke-linecap="butt"/>
<line x1="508.38" y1="770.1" x2="508.38" y2="774.9" stroke="#000" stroke-width="3.2" stroke-linecap="butt"/>
<line x1="546.85" y1="1430.7" x2="546.85" y2="1425.9" stroke="#000" stroke-width="3.2" stroke-linecap="butt"/>
<line x1="546.85" y1="770.1" x2="546.85" y2="774.9" stroke="#000" stroke-width="3.2" stroke-linecap="butt"/>
<line x1="574.15" y1="1430.7" x2="574.15" y2="1425.9" stroke="#000" stroke-width="3.2" stroke-linecap="butt"/>
<line x1="574.15" y1="770.1" x2="574.15" y2="774.9" stroke="#000" stroke-width="3.2" stroke-linecap="butt"/>
<line x1="595.32" y1="1430.7" x2="595.32" y2="1425.9" stroke="#000" stroke-width="3.2" stroke-linecap="butt"/>
<line x1="595.32" y1="770.1" x2="595.32" y2="774.9" stroke="#000" stroke-width="3.2" stroke-linecap="butt"/>
<line x1="612.63" y1="1430.7" x2="612.63" y2="1425.9" stroke="#000" stroke-width="3.2" stroke-linecap="butt"/>
<line x1="612.63" y1="770.1" x2="612.63" y2="774.9" stroke="#000" stroke-width="3.2" stroke-linecap="butt"/>
<line x1="627.25" y1="1430.7" x2="627.25" y2="1425.9" stroke="#000" stroke-width="3.2" stroke-linecap="butt"/>
<line x1="627.25" y1="770.1" x2="627.25" y2="774.9" stroke="#000" stroke-width="3.2" stroke-linecap="butt"/>
<line x1="639.93" y1="1430.7" x2="639.93" y2="1425.9" stroke="#000" stroke-width="3.2" stroke-linecap="butt"/>
<line x1="639.93" y1="770.1" x2="639.93" y2="774.9" stroke="#000" stroke-width="3.2" stroke-linecap="butt"/>
<line x1="651.1" y1="1430.7" x2="651.1" y2="1425.9" stroke="#000" stroke-width="3.2" stroke-linecap="butt"/>
<line x1="651.1" y1="770.1" x2="651.1" y2="774.9" stroke="#000" stroke-width="3.2" stroke-linecap="butt"/>
<line x1="661.1" y1="1430.7" x2="661.1" y2="1422.3" stroke="#000" stroke-width="3.2" stroke-linecap="butt"/>
<line x1="661.1" y1="770.1" x2="661.1" y2="778.5" stroke="#000" stroke-width="3.2" stroke-linecap="butt"/>
<line x1="110.3" y1="1224.3" x2="116.8" y2="1224.3" stroke="#000" stroke-width="3.2" stroke-linecap="butt"/>
<line x1="705.7" y1="1224.3" x2="699.2" y2="1224.3" stroke="#000" stroke-width="3.2" stroke-linecap="butt"/>
<line x1="110.3" y1="1017.9" x2="116.8" y2="1017.9" stroke="#000" stroke-width="3.2" stroke-linecap="butt"/>
<line x1="705.7" y1="1017.9" x2="699.2" y2="1017.9" stroke="#000" stroke-width="3.2" stroke-linecap="butt"/>
<line x1="110.3" y1="811.5" x2="116.8" y2="811.5" stroke="#000" stroke-width="3.2" stroke-linecap="butt"/>
<line x1="705.7" y1="811.5" x2="699.2" y2="811.5" stroke="#000" stroke-width="3.2" stroke-linecap="butt"/>
<path d="M110.3,808.83 L111.17,808.83 L112.05,808.83 L112.92,808.83 L113.8,808.83 L114.67,808.83 L115.54,808.83 L116.42,808.83 L117.29,808.83 L118.17,808.83 L119.04,808.83 L119.91,808.83 L120.79,808.83 L121.66,808.83 L122.54,808.83 L123.41,808.83 L124.28,808.83 L125.16,808.83 L126.03,808.83 L126.91,808.84 L127.78,808.84 L128.65,808.84 L129.53,808.84 L130.4,808.84 L131.28,808.84 L132.15,808.84 L133.02,808.84 L133.9,808.84 L134.77,808.84 L135.65,808.84 L136.52,808.84 L137.39,808.84 L138.27,808.84 L139.14,808.84 L140.02,808.84 L140.89,808.84 L141.76,808.84 L142.64,808.84 L143.51,808.84 L144.39,808.84 L145.26,808.84 L146.13,808.84 L147.01,808.85 L147.88,808.85 L148.76,808.85 L149.63,808.85 L150.5,808.85 L151.38,808.85 L152.25,808.85 L153.13,808.85 L154,808.85 L154.87,808.85 L155.75,808.85 L156.62,808.85 L157.5,808.85 L158.37,808.85 L159.24,808.85 L160.12,808.85 L160.99,808.85 L161.87,808.86 L162.74,808.86 L163.61,808.86 L164.49,808.86 L165.36,808.86 L166.24,808.86 L167.11,808.86 L167.98,808.86 L168.86,808.86 L169.73,808.86 L170.61,808.86 L171.48,808.86 L172.35,808.86 L173.23,808.87 L174.1,808.87 L174.98,808.87 L175.85,808.87 L176.72,808.87 L177.6,808.87 L178.47,808.87 L179.35,808.87 L180.22,808.87 L181.09,808.87 L181.97,808.88 L182.84,808.88 L183.72,808.88 L184.59,808.88 L185.46,808.88 L186.34,808.88 L187.21,808.88 L188.09,808.88 L188.96,808.89 L189.83,808.89 L190.71,808.89 L191.58,808.89 L192.46,808.89 L193.33,808.89 L194.2,808.89 L195.08,808.89 L195.95,808.9 L196.83,808.9 L197.7,808.9 L198.57,808.9 L199.45,808.9 L200.32,808.9 L201.2,808.91 L202.07,808.91 L202.94,808.91 L203.82,808.91 L204.69,808.91 L205.57,808.91 L206.44,808.92 L207.31,808.92 L208.19,808.92 L209.06,808.92 L209.94,808.92 L210.81,808.93 L211.68,808.93 L212.56,808.93 L213.43,808.93 L214.31,808.93 L215.18,808.94 L216.05,808.94 L216.93,808.94 L217.8,808.94 L218.68,808.94 L219.55,808.95 L220.42,808.95 L221.3,808.95 L222.17,808.95 L223.05,808.96 L223.92,808.96 L224.79,808.96 L225.67,808.97 L226.54,808.97 L227.42,808.97 L228.29,808.97 L229.16,808.98 L230.04,808.98 L230.91,808.98 L231.79,808.99 L232.66,808.99 L233.53,808.99 L234.41,809 L235.28,809 L236.16,809 L237.03,809.01 L237.9,809.01 L238.78,809.01 L239.65,809.02 L240.53,809.02 L241.4,809.02 L242.27,809.03 L243.15,809.03 L244.02,809.04 L244.9,809.04 L245.77,809.04 L246.64,809.05 L247.52,809.05 L248.39,809.06 L249.27,809.06 L250.14,809.07 L251.01,809.07 L251.89,809.07 L252.76,809.08 L253.64,809.08 L254.51,809.09 L255.38,809.09 L256.26,809.1 L257.13,809.1 L258.01,809.11 L258.88,809.12 L259.75,809.12 L260.63,809.13 L261.5,809.13 L262.38,809.14 L263.25,809.14 L264.12,809.15 L265,809.16 L265.87,809.16 L266.75,809.17 L267.62,809.18 L268.49,809.18 L269.37,809.19 L270.24,809.2 L271.12,809.2 L271.99,809.21 L272.86,809.22 L273.74,809.22 L274.61,809.23 L275.49,809.24 L276.36,809.25 L277.23,809.26 L278.11,809.26 L278.98,809.27 L279.86,809.28 L280.73,809.29 L281.6,809.3 L282.48,809.31 L283.35,809.32 L284.23,809.33 L285.1,809.34 L285.97,809.34 L286.85,809.35 L287.72,809.36 L288.6,809.37 L289.47,809.39 L290.34,809.4 L291.22,809.41 L292.09,809.42 L292.97,809.43 L293.84,809.44 L294.71,809.45 L295.59,809.46 L296.46,809.48 L297.34,809.49 L298.21,809.5 L299.08,809.51 L299.96,809.53 L300.83,809.54 L301.71,809.55 L302.58,809.57 L303.45,809.58 L304.33,809.59 L305.2,809.61 L306.08,809.62 L306.95,809.64 L307.82,809.65 L308.7,809.67 L309.57,809.68 L310.45,809.7 L311.32,809.72 L312.19,809.73 L313.07,809.75 L313.94,809.77 L314.82,809.79 L315.69,809.8 L316.56,809.82 L317.44,809.84 L318.31,809.86 L319.19,809.88 L320.06,809.9 L320.93,809.92 L321.81,809.94 L322.68,809.96 L323.56,809.98 L324.43,810 L325.3,810.03 L326.18,810.05 L327.05,810.07 L327.93,810.09 L328.8,810.12 L329.67,810.14 L330.55,810.17 L331.42,810.19 L332.3,810.22 L333.17,810.24 L334.04,810.27 L334.92,810.3 L335.79,810.32 L336.67,810.35 L337.54,810.38 L338.41,810.41 L339.29,810.44 L340.16,810.47 L341.04,810.5 L341.91,810.53 L342.78,810.56 L343.66,810.6 L344.53,810.63 L345.41,810.66 L346.28,810.7 L347.15,810.73 L348.03,810.77 L348.9,810.8 L349.78,810.84 L350.65,810.88 L351.52,810.92 L352.4,810.95 L353.27,810.99 L354.15,811.03 L355.02,811.08 L355.89,811.12 L356.77,811.16 L357.64,811.2 L358.52,811.25 L359.39,811.29 L360.26,811.34 L361.14,811.39 L362.01,811.43 L362.89,811.48 L363.76,811.53 L364.63,811.58 L365.51,811.63 L366.38,811.68 L367.26,811.74 L368.13,811.79 L369,811.85 L369.88,811.9 L370.75,811.96 L371.63,812.02 L372.5,812.08 L373.37,812.14 L374.25,812.2 L375.12,812.26 L376,812.33 L376.87,812.39 L377.74,812.46 L378.62,812.53 L379.49,812.59 L380.37,812.66 L381.24,812.73 L382.11,812.81 L382.99,812.88 L383.86,812.96 L384.74,813.03 L385.61,813.11 L386.48,813.19 L387.36,813.27 L388.23,813.35 L389.11,813.44 L389.98,813.52 L390.85,813.61 L391.73,813.7 L392.6,813.79 L393.48,813.88 L394.35,813.97 L395.22,814.07 L396.1,814.17 L396.97,814.27 L397.85,814.37 L398.72,814.47 L399.59,814.57 L400.47,814.68 L401.34,814.79 L402.22,814.9 L403.09,815.01 L403.96,815.12 L404.84,815.24 L405.71,815.36 L406.59,815.48 L407.46,815.6 L408.33,815.73 L409.21,815.86 L410.08,815.99 L410.96,816.12 L411.83,816.25 L412.7,816.39 L413.58,816.53 L414.45,816.67 L415.33,816.82 L416.2,816.96 L417.07,817.11 L417.95,817.27 L418.82,817.42 L419.7,817.58 L420.57,817.74 L421.44,817.91 L422.32,818.07 L423.19,818.24 L424.07,818.42 L424.94,818.59 L425.81,818.77 L426.69,818.96 L427.56,819.14 L428.44,819.33 L429.31,819.53 L430.18,819.72 L431.06,819.92 L431.93,820.13 L432.81,820.33 L433.68,820.54 L434.55,820.76 L435.43,820.98 L436.3,821.2 L437.18,821.43 L438.05,821.66 L438.92,821.89 L439.8,822.13 L440.67,822.38 L441.55,822.63 L442.42,822.88 L443.29,823.14 L444.17,823.4 L445.04,823.66 L445.92,823.94 L446.79,824.21 L447.66,824.49 L448.54,824.78 L449.41,825.07 L450.29,825.37 L451.16,825.67 L452.03,825.98 L452.91,826.29 L453.78,826.61 L454.66,826.93 L455.53,827.26 L456.4,827.6 L457.28,827.94 L458.15,828.29 L459.03,828.64 L459.9,829 L460.77,829.37 L461.65,829.74 L462.52,830.12 L463.4,830.51 L464.27,830.9 L465.14,831.3 L466.02,831.71 L466.89,832.12 L467.77,832.54 L468.64,832.97 L469.51,833.41 L470.39,833.85 L471.26,834.3 L472.14,834.76 L473.01,835.23 L473.88,835.71 L474.76,836.19 L475.63,836.69 L476.51,837.19 L477.38,837.7 L478.25,838.22 L479.13,838.74 L480,839.28 L480.88,839.83 L481.75,840.38 L482.62,840.95 L483.5,841.52 L484.37,842.11 L485.25,842.7 L486.12,843.31 L486.99,843.93 L487.87,844.55 L488.74,845.19 L489.62,845.84 L490.49,846.5 L491.36,847.17 L492.24,847.85 L493.11,848.54 L493.99,849.24 L494.86,849.96 L495.73,850.69 L496.61,851.43 L497.48,852.18 L498.36,852.95 L499.23,853.73 L500.1,854.52 L500.98,855.32 L501.85,856.14 L502.73,856.97 L503.6,857.82 L504.47,858.68 L505.35,859.55 L506.22,860.44 L507.1,861.34 L507.97,862.26 L508.84,863.19 L509.72,864.14 L510.59,865.1 L511.47,866.08 L512.34,867.07 L513.21,868.08 L514.09,869.11 L514.96,870.15 L515.84,871.21 L516.71,872.29 L517.58,873.38 L518.46,874.49 L519.33,875.62 L520.21,876.76 L521.08,877.93 L521.95,879.11 L522.83,880.31 L523.7,881.53 L524.58,882.76 L525.45,884.02 L526.32,885.29 L527.2,886.59 L528.07,887.9 L528.95,889.24 L529.82,890.59 L530.69,891.97 L531.57,893.37 L532.44,894.78 L533.32,896.22 L534.19,897.68 L535.06,899.16 L535.94,900.66 L536.81,902.19 L537.69,903.73 L538.56,905.3 L539.43,906.89 L540.31,908.51 L541.18,910.14 L542.06,911.8 L542.93,913.49 L543.8,915.19 L544.68,916.92 L545.55,918.68 L546.43,920.46 L547.3,922.26 L548.17,924.09 L549.05,925.94 L549.92,927.82 L550.8,929.72 L551.67,931.65 L552.54,933.6 L553.42,935.58 L554.29,937.59 L555.17,939.62 L556.04,941.67 L556.91,943.76 L557.79,945.86 L558.66,948 L559.54,950.16 L560.41,952.35 L561.28,954.56 L562.16,956.81 L563.03,959.07 L563.91,961.37 L564.78,963.69 L565.65,966.04 L566.53,968.42 L567.4,970.82 L568.28,973.26 L569.15,975.71 L570.02,978.2 L570.9,980.71 L571.77,983.25 L572.65,985.82 L573.52,988.42 L574.39,991.04 L575.27,993.69 L576.14,996.36 L577.02,999.07 L577.89,1001.8 L578.76,1004.55 L579.64,1007.34 L580.51,1010.15 L581.39,1012.98 L582.26,1015.85 L583.13,1018.74 L584.01,1021.65 L584.88,1024.59 L585.76,1027.56 L586.63,1030.55 L587.5,1033.57 L588.38,1036.61 L589.25,1039.67 L590.13,1042.76 L591,1045.87 L591.87,1049.01 L592.75,1052.17 L593.62,1055.36 L594.5,1058.56 L595.37,1061.79 L596.24,1065.04 L597.12,1068.31 L597.99,1071.6 L598.87,1074.91 L599.74,1078.24 L600.61,1081.59 L601.49,1084.96 L602.36,1088.35 L603.24,1091.76 L604.11,1095.18 L604.98,1098.62 L605.86,1102.08 L606.73,1105.55 L607.61,1109.04 L608.48,1112.54 L609.35,1116.05 L610.23,1119.58 L611.1,1123.12 L611.98,1126.67 L612.85,1130.23 L613.72,1133.8 L614.6,1137.38 L615.47,1140.97 L616.35,1144.57 L617.22,1148.17 L618.09,1151.79 L618.97,1155.4 L619.84,1159.02 L620.72,1162.65 L621.59,1166.27 L622.46,1169.9 L623.34,1173.53 L624.21,1177.16 L625.09,1180.79 L625.96,1184.42 L626.83,1188.05 L627.71,1191.67 L628.58,1195.29 L629.46,1198.9 L630.33,1202.51 L631.2,1206.11 L632.08,1209.7 L632.95,1213.28 L633.83,1216.86 L634.7,1220.42 L635.57,1223.97 L636.45,1227.51 L637.32,1231.04 L638.2,1234.55 L639.07,1238.04 L639.94,1241.52 L640.82,1244.98 L641.69,1248.43 L642.57,1251.85 L643.44,1255.26 L644.31,1258.64 L645.19,1262.01 L646.06,1265.35 L646.94,1268.66 L647.81,1271.96 L648.68,1275.23 L649.56,1278.47 L650.43,1281.68 L651.31,1284.87 L652.18,1288.03 L653.05,1291.16 L653.93,1294.27 L654.8,1297.34 L655.68,1300.38 L656.55,1303.38 L657.42,1306.36 L658.3,1309.3 L659.17,1312.21 L660.05,1315.09 L660.92,1317.93 L661.79,1320.73 L662.67,1323.5 L663.54,1326.23 L664.42,1328.93 L665.29,1331.59 L666.16,1334.21 L667.04,1336.79 L667.91,1339.33 L668.79,1341.84 L669.66,1344.3 L670.53,1346.73 L671.41,1349.12 L672.28,1351.46 L673.16,1353.77 L674.03,1356.03 L674.9,1358.26 L675.78,1360.44 L676.65,1362.59 L677.53,1364.69 L678.4,1366.75 L679.27,1368.77 L680.15,1370.75 L681.02,1372.69 L681.9,1374.59 L682.77,1376.44 L683.64,1378.26 L684.52,1380.03 L685.39,1381.77 L686.27,1383.46 L687.14,1385.12 L688.01,1386.74 L688.89,1388.31 L689.76,1389.85 L690.64,1391.35 L691.51,1392.8 L692.38,1394.23 L693.26,1395.61 L694.13,1396.95 L695.01,1398.26 L695.88,1399.53 L696.75,1400.77 L697.63,1401.97 L698.5,1403.13 L699.38,1404.26 L700.25,1405.36 L701.12,1406.42 L702,1407.45 L702.87,1408.44 L703.75,1409.41 L704.62,1410.34 L705.49,1411.24 L705.7,1411.45" fill="none" stroke="#4170FA" stroke-width="6.6" stroke-linejoin="round" stroke-linecap="butt" />
<line x1="110.1" y1="1083.5" x2="110.1" y2="1087.5" stroke="#4170FA" stroke-width="3" stroke-linecap="butt"/>
<line x1="100.8" y1="1083.5" x2="119.4" y2="1083.5" stroke="#4170FA" stroke-width="3" stroke-linecap="butt"/>
<line x1="100.8" y1="1087.5" x2="119.4" y2="1087.5" stroke="#4170FA" stroke-width="3" stroke-linecap="butt"/>
<circle cx="110.1" cy="1085.5" r="8.4" fill="none" stroke="#4170FA" stroke-width="4.8"/>
<line x1="190.8" y1="1077.5" x2="190.8" y2="1093.5" stroke="#4170FA" stroke-width="3" stroke-linecap="butt"/>
<line x1="181.5" y1="1077.5" x2="200.1" y2="1077.5" stroke="#4170FA" stroke-width="3" stroke-linecap="butt"/>
<line x1="181.5" y1="1093.5" x2="200.1" y2="1093.5" stroke="#4170FA" stroke-width="3" stroke-linecap="butt"/>
<circle cx="190.8" cy="1085.5" r="8.4" fill="none" stroke="#4170FA" stroke-width="4.8"/>
<line x1="290.6" y1="1079.6" x2="290.6" y2="1085.6" stroke="#4170FA" stroke-width="3" stroke-linecap="butt"/>
<line x1="281.3" y1="1079.6" x2="299.9" y2="1079.6" stroke="#4170FA" stroke-width="3" stroke-linecap="butt"/>
<line x1="281.3" y1="1085.6" x2="299.9" y2="1085.6" stroke="#4170FA" stroke-width="3" stroke-linecap="butt"/>
<circle cx="290.6" cy="1082.6" r="8.4" fill="none" stroke="#4170FA" stroke-width="4.8"/>
<line x1="355.7" y1="1060.8" x2="355.7" y2="1086.8" stroke="#4170FA" stroke-width="3" stroke-linecap="butt"/>
<line x1="346.4" y1="1060.8" x2="365" y2="1060.8" stroke="#4170FA" stroke-width="3" stroke-linecap="butt"/>
<line x1="346.4" y1="1086.8" x2="365" y2="1086.8" stroke="#4170FA" stroke-width="3" stroke-linecap="butt"/>
<circle cx="355.7" cy="1073.8" r="8.4" fill="none" stroke="#4170FA" stroke-width="4.8"/>
<line x1="408.9" y1="1066.9" x2="408.9" y2="1070.9" stroke="#4170FA" stroke-width="3" stroke-linecap="butt"/>
<line x1="399.6" y1="1066.9" x2="418.2" y2="1066.9" stroke="#4170FA" stroke-width="3" stroke-linecap="butt"/>
<line x1="399.6" y1="1070.9" x2="418.2" y2="1070.9" stroke="#4170FA" stroke-width="3" stroke-linecap="butt"/>
<circle cx="408.9" cy="1068.9" r="8.4" fill="none" stroke="#4170FA" stroke-width="4.8"/>
<line x1="442.1" y1="977.4" x2="442.1" y2="981.4" stroke="#4170FA" stroke-width="3" stroke-linecap="butt"/>
<line x1="432.8" y1="977.4" x2="451.4" y2="977.4" stroke="#4170FA" stroke-width="3" stroke-linecap="butt"/>
<line x1="432.8" y1="981.4" x2="451.4" y2="981.4" stroke="#4170FA" stroke-width="3" stroke-linecap="butt"/>
<circle cx="442.1" cy="979.4" r="8.4" fill="none" stroke="#4170FA" stroke-width="4.8"/>
<line x1="459.9" y1="933.9" x2="459.9" y2="937.9" stroke="#4170FA" stroke-width="3" stroke-linecap="butt"/>
<line x1="450.6" y1="933.9" x2="469.2" y2="933.9" stroke="#4170FA" stroke-width="3" stroke-linecap="butt"/>
<line x1="450.6" y1="937.9" x2="469.2" y2="937.9" stroke="#4170FA" stroke-width="3" stroke-linecap="butt"/>
<circle cx="459.9" cy="935.9" r="8.4" fill="none" stroke="#4170FA" stroke-width="4.8"/>
<line x1="474.5" y1="891" x2="474.5" y2="895" stroke="#4170FA" stroke-width="3" stroke-linecap="butt"/>
<line x1="465.2" y1="891" x2="483.8" y2="891" stroke="#4170FA" stroke-width="3" stroke-linecap="butt"/>
<line x1="465.2" y1="895" x2="483.8" y2="895" stroke="#4170FA" stroke-width="3" stroke-linecap="butt"/>
<circle cx="474.5" cy="893" r="8.4" fill="none" stroke="#4170FA" stroke-width="4.8"/>
<line x1="486.9" y1="857.7" x2="486.9" y2="861.7" stroke="#4170FA" stroke-width="3" stroke-linecap="butt"/>
<line x1="477.6" y1="857.7" x2="496.2" y2="857.7" stroke="#4170FA" stroke-width="3" stroke-linecap="butt"/>
<line x1="477.6" y1="861.7" x2="496.2" y2="861.7" stroke="#4170FA" stroke-width="3" stroke-linecap="butt"/>
<circle cx="486.9" cy="859.7" r="8.4" fill="none" stroke="#4170FA" stroke-width="4.8"/>
<line x1="498" y1="798.2" x2="498" y2="828.2" stroke="#4170FA" stroke-width="3" stroke-linecap="butt"/>
<line x1="488.7" y1="798.2" x2="507.3" y2="798.2" stroke="#4170FA" stroke-width="3" stroke-linecap="butt"/>
<line x1="488.7" y1="828.2" x2="507.3" y2="828.2" stroke="#4170FA" stroke-width="3" stroke-linecap="butt"/>
<circle cx="498" cy="813.2" r="8.4" fill="none" stroke="#4170FA" stroke-width="4.8"/>
<line x1="506.8" y1="824.5" x2="506.8" y2="844.5" stroke="#4170FA" stroke-width="3" stroke-linecap="butt"/>
<line x1="497.5" y1="824.5" x2="516.1" y2="824.5" stroke="#4170FA" stroke-width="3" stroke-linecap="butt"/>
<line x1="497.5" y1="844.5" x2="516.1" y2="844.5" stroke="#4170FA" stroke-width="3" stroke-linecap="butt"/>
<circle cx="506.8" cy="834.5" r="8.4" fill="none" stroke="#4170FA" stroke-width="4.8"/>
<line x1="517.5" y1="834.9" x2="517.5" y2="842.9" stroke="#4170FA" stroke-width="3" stroke-linecap="butt"/>
<line x1="508.2" y1="834.9" x2="526.8" y2="834.9" stroke="#4170FA" stroke-width="3" stroke-linecap="butt"/>
<line x1="508.2" y1="842.9" x2="526.8" y2="842.9" stroke="#4170FA" stroke-width="3" stroke-linecap="butt"/>
<circle cx="517.5" cy="838.9" r="8.4" fill="none" stroke="#4170FA" stroke-width="4.8"/>
<line x1="529" y1="872.3" x2="529" y2="876.3" stroke="#4170FA" stroke-width="3" stroke-linecap="butt"/>
<line x1="519.7" y1="872.3" x2="538.3" y2="872.3" stroke="#4170FA" stroke-width="3" stroke-linecap="butt"/>
<line x1="519.7" y1="876.3" x2="538.3" y2="876.3" stroke="#4170FA" stroke-width="3" stroke-linecap="butt"/>
<circle cx="529" cy="874.3" r="8.4" fill="none" stroke="#4170FA" stroke-width="4.8"/>
<line x1="539.6" y1="898.7" x2="539.6" y2="906.7" stroke="#4170FA" stroke-width="3" stroke-linecap="butt"/>
<line x1="530.3" y1="898.7" x2="548.9" y2="898.7" stroke="#4170FA" stroke-width="3" stroke-linecap="butt"/>
<line x1="530.3" y1="906.7" x2="548.9" y2="906.7" stroke="#4170FA" stroke-width="3" stroke-linecap="butt"/>
<circle cx="539.6" cy="902.7" r="8.4" fill="none" stroke="#4170FA" stroke-width="4.8"/>
<line x1="545.4" y1="910.4" x2="545.4" y2="922.4" stroke="#4170FA" stroke-width="3" stroke-linecap="butt"/>
<line x1="536.1" y1="910.4" x2="554.7" y2="910.4" stroke="#4170FA" stroke-width="3" stroke-linecap="butt"/>
<line x1="536.1" y1="922.4" x2="554.7" y2="922.4" stroke="#4170FA" stroke-width="3" stroke-linecap="butt"/>
<circle cx="545.4" cy="916.4" r="8.4" fill="none" stroke="#4170FA" stroke-width="4.8"/>
<line x1="560.9" y1="951.1" x2="560.9" y2="957.1" stroke="#4170FA" stroke-width="3" stroke-linecap="butt"/>
<line x1="551.6" y1="951.1" x2="570.2" y2="951.1" stroke="#4170FA" stroke-width="3" stroke-linecap="butt"/>
<line x1="551.6" y1="957.1" x2="570.2" y2="957.1" stroke="#4170FA" stroke-width="3" stroke-linecap="butt"/>
<circle cx="560.9" cy="954.1" r="8.4" fill="none" stroke="#4170FA" stroke-width="4.8"/>
<line x1="574.2" y1="985.7" x2="574.2" y2="991.7" stroke="#4170FA" stroke-width="3" stroke-linecap="butt"/>
<line x1="564.9" y1="985.7" x2="583.5" y2="985.7" stroke="#4170FA" stroke-width="3" stroke-linecap="butt"/>
<line x1="564.9" y1="991.7" x2="583.5" y2="991.7" stroke="#4170FA" stroke-width="3" stroke-linecap="butt"/>
<circle cx="574.2" cy="988.7" r="8.4" fill="none" stroke="#4170FA" stroke-width="4.8"/>
<line x1="584.4" y1="1028.2" x2="584.4" y2="1034.2" stroke="#4170FA" stroke-width="3" stroke-linecap="butt"/>
<line x1="575.1" y1="1028.2" x2="593.7" y2="1028.2" stroke="#4170FA" stroke-width="3" stroke-linecap="butt"/>
<line x1="575.1" y1="1034.2" x2="593.7" y2="1034.2" stroke="#4170FA" stroke-width="3" stroke-linecap="butt"/>
<circle cx="584.4" cy="1031.2" r="8.4" fill="none" stroke="#4170FA" stroke-width="4.8"/>
<line x1="595" y1="1060.6" x2="595" y2="1066.6" stroke="#4170FA" stroke-width="3" stroke-linecap="butt"/>
<line x1="585.7" y1="1060.6" x2="604.3" y2="1060.6" stroke="#4170FA" stroke-width="3" stroke-linecap="butt"/>
<line x1="585.7" y1="1066.6" x2="604.3" y2="1066.6" stroke="#4170FA" stroke-width="3" stroke-linecap="butt"/>
<circle cx="595" cy="1063.6" r="8.4" fill="none" stroke="#4170FA" stroke-width="4.8"/>
<line x1="612.7" y1="1126.7" x2="612.7" y2="1130.7" stroke="#4170FA" stroke-width="3" stroke-linecap="butt"/>
<line x1="603.4" y1="1126.7" x2="622" y2="1126.7" stroke="#4170FA" stroke-width="3" stroke-linecap="butt"/>
<line x1="603.4" y1="1130.7" x2="622" y2="1130.7" stroke="#4170FA" stroke-width="3" stroke-linecap="butt"/>
<circle cx="612.7" cy="1128.7" r="8.4" fill="none" stroke="#4170FA" stroke-width="4.8"/>
<line x1="626.5" y1="1183.4" x2="626.5" y2="1187.4" stroke="#4170FA" stroke-width="3" stroke-linecap="butt"/>
<line x1="617.2" y1="1183.4" x2="635.8" y2="1183.4" stroke="#4170FA" stroke-width="3" stroke-linecap="butt"/>
<line x1="617.2" y1="1187.4" x2="635.8" y2="1187.4" stroke="#4170FA" stroke-width="3" stroke-linecap="butt"/>
<circle cx="626.5" cy="1185.4" r="8.4" fill="none" stroke="#4170FA" stroke-width="4.8"/>
<line x1="639.3" y1="1235.6" x2="639.3" y2="1241.6" stroke="#4170FA" stroke-width="3" stroke-linecap="butt"/>
<line x1="630" y1="1235.6" x2="648.6" y2="1235.6" stroke="#4170FA" stroke-width="3" stroke-linecap="butt"/>
<line x1="630" y1="1241.6" x2="648.6" y2="1241.6" stroke="#4170FA" stroke-width="3" stroke-linecap="butt"/>
<circle cx="639.3" cy="1238.6" r="8.4" fill="none" stroke="#4170FA" stroke-width="4.8"/>
<line x1="650.4" y1="1278.7" x2="650.4" y2="1282.7" stroke="#4170FA" stroke-width="3" stroke-linecap="butt"/>
<line x1="641.1" y1="1278.7" x2="659.7" y2="1278.7" stroke="#4170FA" stroke-width="3" stroke-linecap="butt"/>
<line x1="641.1" y1="1282.7" x2="659.7" y2="1282.7" stroke="#4170FA" stroke-width="3" stroke-linecap="butt"/>
<circle cx="650.4" cy="1280.7" r="8.4" fill="none" stroke="#4170FA" stroke-width="4.8"/>
<line x1="660.6" y1="1315" x2="660.6" y2="1319" stroke="#4170FA" stroke-width="3" stroke-linecap="butt"/>
<line x1="651.3" y1="1315" x2="669.9" y2="1315" stroke="#4170FA" stroke-width="3" stroke-linecap="butt"/>
<line x1="651.3" y1="1319" x2="669.9" y2="1319" stroke="#4170FA" stroke-width="3" stroke-linecap="butt"/>
<circle cx="660.6" cy="1317" r="8.4" fill="none" stroke="#4170FA" stroke-width="4.8"/>
<line x1="677.4" y1="1366.5" x2="677.4" y2="1370.5" stroke="#4170FA" stroke-width="3" stroke-linecap="butt"/>
<line x1="668.1" y1="1366.5" x2="686.7" y2="1366.5" stroke="#4170FA" stroke-width="3" stroke-linecap="butt"/>
<line x1="668.1" y1="1370.5" x2="686.7" y2="1370.5" stroke="#4170FA" stroke-width="3" stroke-linecap="butt"/>
<circle cx="677.4" cy="1368.5" r="8.4" fill="none" stroke="#4170FA" stroke-width="4.8"/>
<line x1="693" y1="1392.6" x2="693" y2="1396.6" stroke="#4170FA" stroke-width="3" stroke-linecap="butt"/>
<line x1="683.7" y1="1392.6" x2="702.3" y2="1392.6" stroke="#4170FA" stroke-width="3" stroke-linecap="butt"/>
<line x1="683.7" y1="1396.6" x2="702.3" y2="1396.6" stroke="#4170FA" stroke-width="3" stroke-linecap="butt"/>
<circle cx="693" cy="1394.6" r="8.4" fill="none" stroke="#4170FA" stroke-width="4.8"/>
<line x1="705.1" y1="1405.3" x2="705.1" y2="1423.3" stroke="#4170FA" stroke-width="3" stroke-linecap="butt"/>
<line x1="695.8" y1="1405.3" x2="714.4" y2="1405.3" stroke="#4170FA" stroke-width="3" stroke-linecap="butt"/>
<line x1="695.8" y1="1423.3" x2="714.4" y2="1423.3" stroke="#4170FA" stroke-width="3" stroke-linecap="butt"/>
<circle cx="705.1" cy="1414.3" r="8.4" fill="none" stroke="#4170FA" stroke-width="4.8"/>
<line x1="917.84" y1="1427.5" x2="917.84" y2="1422.7" stroke="#000" stroke-width="3.2" stroke-linecap="butt"/>
<line x1="917.84" y1="766.5" x2="917.84" y2="771.3" stroke="#000" stroke-width="3.2" stroke-linecap="butt"/>
<line x1="939.48" y1="1427.5" x2="939.48" y2="1422.7" stroke="#000" stroke-width="3.2" stroke-linecap="butt"/>
<line x1="939.48" y1="766.5" x2="939.48" y2="771.3" stroke="#000" stroke-width="3.2" stroke-linecap="butt"/>
<line x1="957.16" y1="1427.5" x2="957.16" y2="1422.7" stroke="#000" stroke-width="3.2" stroke-linecap="butt"/>
<line x1="957.16" y1="766.5" x2="957.16" y2="771.3" stroke="#000" stroke-width="3.2" stroke-linecap="butt"/>
<line x1="972.11" y1="1427.5" x2="972.11" y2="1422.7" stroke="#000" stroke-width="3.2" stroke-linecap="butt"/>
<line x1="972.11" y1="766.5" x2="972.11" y2="771.3" stroke="#000" stroke-width="3.2" stroke-linecap="butt"/>
<line x1="985.06" y1="1427.5" x2="985.06" y2="1422.7" stroke="#000" stroke-width="3.2" stroke-linecap="butt"/>
<line x1="985.06" y1="766.5" x2="985.06" y2="771.3" stroke="#000" stroke-width="3.2" stroke-linecap="butt"/>
<line x1="996.48" y1="1427.5" x2="996.48" y2="1422.7" stroke="#000" stroke-width="3.2" stroke-linecap="butt"/>
<line x1="996.48" y1="766.5" x2="996.48" y2="771.3" stroke="#000" stroke-width="3.2" stroke-linecap="butt"/>
<line x1="1006.7" y1="1427.5" x2="1006.7" y2="1419.1" stroke="#000" stroke-width="3.2" stroke-linecap="butt"/>
<line x1="1006.7" y1="766.5" x2="1006.7" y2="774.9" stroke="#000" stroke-width="3.2" stroke-linecap="butt"/>
<line x1="1073.92" y1="1427.5" x2="1073.92" y2="1422.7" stroke="#000" stroke-width="3.2" stroke-linecap="butt"/>
<line x1="1073.92" y1="766.5" x2="1073.92" y2="771.3" stroke="#000" stroke-width="3.2" stroke-linecap="butt"/>
<line x1="1113.24" y1="1427.5" x2="1113.24" y2="1422.7" stroke="#000" stroke-width="3.2" stroke-linecap="butt"/>
<line x1="1113.24" y1="766.5" x2="1113.24" y2="771.3" stroke="#000" stroke-width="3.2" stroke-linecap="butt"/>
<line x1="1141.14" y1="1427.5" x2="1141.14" y2="1422.7" stroke="#000" stroke-width="3.2" stroke-linecap="butt"/>
<line x1="1141.14" y1="766.5" x2="1141.14" y2="771.3" stroke="#000" stroke-width="3.2" stroke-linecap="butt"/>
<line x1="1162.78" y1="1427.5" x2="1162.78" y2="1422.7" stroke="#000" stroke-width="3.2" stroke-linecap="butt"/>
<line x1="1162.78" y1="766.5" x2="1162.78" y2="771.3" stroke="#000" stroke-width="3.2" stroke-linecap="butt"/>
<line x1="1180.46" y1="1427.5" x2="1180.46" y2="1422.7" stroke="#000" stroke-width="3.2" stroke-linecap="butt"/>
<line x1="1180.46" y1="766.5" x2="1180.46" y2="771.3" stroke="#000" stroke-width="3.2" stroke-linecap="butt"/>
<line x1="1195.41" y1="1427.5" x2="1195.41" y2="1422.7" stroke="#000" stroke-width="3.2" stroke-linecap="butt"/>
<line x1="1195.41" y1="766.5" x2="1195.41" y2="771.3" stroke="#000" stroke-width="3.2" stroke-linecap="butt"/>
<line x1="1208.36" y1="1427.5" x2="1208.36" y2="1422.7" stroke="#000" stroke-width="3.2" stroke-linecap="butt"/>
<line x1="1208.36" y1="766.5" x2="1208.36" y2="771.3" stroke="#000" stroke-width="3.2" stroke-linecap="butt"/>
<line x1="1219.78" y1="1427.5" x2="1219.78" y2="1422.7" stroke="#000" stroke-width="3.2" stroke-linecap="butt"/>
<line x1="1219.78" y1="766.5" x2="1219.78" y2="771.3" stroke="#000" stroke-width="3.2" stroke-linecap="butt"/>
<line x1="1230" y1="1427.5" x2="1230" y2="1419.1" stroke="#000" stroke-width="3.2" stroke-linecap="butt"/>
<line x1="1230" y1="766.5" x2="1230" y2="774.9" stroke="#000" stroke-width="3.2" stroke-linecap="butt"/>
<line x1="1297.22" y1="1427.5" x2="1297.22" y2="1422.7" stroke="#000" stroke-width="3.2" stroke-linecap="butt"/>
<line x1="1297.22" y1="766.5" x2="1297.22" y2="771.3" stroke="#000" stroke-width="3.2" stroke-linecap="butt"/>
<line x1="1336.54" y1="1427.5" x2="1336.54" y2="1422.7" stroke="#000" stroke-width="3.2" stroke-linecap="butt"/>
<line x1="1336.54" y1="766.5" x2="1336.54" y2="771.3" stroke="#000" stroke-width="3.2" stroke-linecap="butt"/>
<line x1="1364.44" y1="1427.5" x2="1364.44" y2="1422.7" stroke="#000" stroke-width="3.2" stroke-linecap="butt"/>
<line x1="1364.44" y1="766.5" x2="1364.44" y2="771.3" stroke="#000" stroke-width="3.2" stroke-linecap="butt"/>
<line x1="1386.08" y1="1427.5" x2="1386.08" y2="1422.7" stroke="#000" stroke-width="3.2" stroke-linecap="butt"/>
<line x1="1386.08" y1="766.5" x2="1386.08" y2="771.3" stroke="#000" stroke-width="3.2" stroke-linecap="butt"/>
<line x1="1403.76" y1="1427.5" x2="1403.76" y2="1422.7" stroke="#000" stroke-width="3.2" stroke-linecap="butt"/>
<line x1="1403.76" y1="766.5" x2="1403.76" y2="771.3" stroke="#000" stroke-width="3.2" stroke-linecap="butt"/>
<line x1="1418.71" y1="1427.5" x2="1418.71" y2="1422.7" stroke="#000" stroke-width="3.2" stroke-linecap="butt"/>
<line x1="1418.71" y1="766.5" x2="1418.71" y2="771.3" stroke="#000" stroke-width="3.2" stroke-linecap="butt"/>
<line x1="1431.66" y1="1427.5" x2="1431.66" y2="1422.7" stroke="#000" stroke-width="3.2" stroke-linecap="butt"/>
<line x1="1431.66" y1="766.5" x2="1431.66" y2="771.3" stroke="#000" stroke-width="3.2" stroke-linecap="butt"/>
<line x1="1443.08" y1="1427.5" x2="1443.08" y2="1422.7" stroke="#000" stroke-width="3.2" stroke-linecap="butt"/>
<line x1="1443.08" y1="766.5" x2="1443.08" y2="771.3" stroke="#000" stroke-width="3.2" stroke-linecap="butt"/>
<line x1="1453.3" y1="1427.5" x2="1453.3" y2="1419.1" stroke="#000" stroke-width="3.2" stroke-linecap="butt"/>
<line x1="1453.3" y1="766.5" x2="1453.3" y2="774.9" stroke="#000" stroke-width="3.2" stroke-linecap="butt"/>
<line x1="890.1" y1="1203.5" x2="896.6" y2="1203.5" stroke="#000" stroke-width="3.2" stroke-linecap="butt"/>
<line x1="1485.4" y1="1203.5" x2="1478.9" y2="1203.5" stroke="#000" stroke-width="3.2" stroke-linecap="butt"/>
<line x1="890.1" y1="979.5" x2="896.6" y2="979.5" stroke="#000" stroke-width="3.2" stroke-linecap="butt"/>
<line x1="1485.4" y1="979.5" x2="1478.9" y2="979.5" stroke="#000" stroke-width="3.2" stroke-linecap="butt"/>
<path d="M890.1,904.92 L890.99,904.92 L891.89,904.93 L892.78,904.93 L893.67,904.93 L894.57,904.93 L895.46,904.93 L896.35,904.93 L897.25,904.93 L898.14,904.93 L899.03,904.93 L899.93,904.93 L900.82,904.93 L901.71,904.93 L902.6,904.93 L903.5,904.93 L904.39,904.93 L905.28,904.93 L906.18,904.93 L907.07,904.93 L907.96,904.93 L908.86,904.93 L909.75,904.93 L910.64,904.93 L911.54,904.93 L912.43,904.93 L913.32,904.93 L914.22,904.94 L915.11,904.94 L916,904.94 L916.9,904.94 L917.79,904.94 L918.68,904.94 L919.58,904.94 L920.47,904.94 L921.36,904.94 L922.26,904.94 L923.15,904.94 L924.04,904.94 L924.93,904.94 L925.83,904.94 L926.72,904.94 L927.61,904.94 L928.51,904.94 L929.4,904.95 L930.29,904.95 L931.19,904.95 L932.08,904.95 L932.97,904.95 L933.87,904.95 L934.76,904.95 L935.65,904.95 L936.55,904.95 L937.44,904.95 L938.33,904.95 L939.23,904.95 L940.12,904.95 L941.01,904.96 L941.91,904.96 L942.8,904.96 L943.69,904.96 L944.59,904.96 L945.48,904.96 L946.37,904.96 L947.26,904.96 L948.16,904.96 L949.05,904.96 L949.94,904.97 L950.84,904.97 L951.73,904.97 L952.62,904.97 L953.52,904.97 L954.41,904.97 L955.3,904.97 L956.2,904.97 L957.09,904.97 L957.98,904.98 L958.88,904.98 L959.77,904.98 L960.66,904.98 L961.56,904.98 L962.45,904.98 L963.34,904.98 L964.24,904.98 L965.13,904.99 L966.02,904.99 L966.92,904.99 L967.81,904.99 L968.7,904.99 L969.59,904.99 L970.49,905 L971.38,905 L972.27,905 L973.17,905 L974.06,905 L974.95,905 L975.85,905.01 L976.74,905.01 L977.63,905.01 L978.53,905.01 L979.42,905.01 L980.31,905.01 L981.21,905.02 L982.1,905.02 L982.99,905.02 L983.89,905.02 L984.78,905.03 L985.67,905.03 L986.57,905.03 L987.46,905.03 L988.35,905.03 L989.25,905.04 L990.14,905.04 L991.03,905.04 L991.92,905.04 L992.82,905.05 L993.71,905.05 L994.6,905.05 L995.5,905.05 L996.39,905.06 L997.28,905.06 L998.18,905.06 L999.07,905.07 L999.96,905.07 L1000.86,905.07 L1001.75,905.07 L1002.64,905.08 L1003.54,905.08 L1004.43,905.08 L1005.32,905.09 L1006.22,905.09 L1007.11,905.09 L1008,905.1 L1008.9,905.1 L1009.79,905.1 L1010.68,905.11 L1011.58,905.11 L1012.47,905.12 L1013.36,905.12 L1014.25,905.12 L1015.15,905.13 L1016.04,905.13 L1016.93,905.14 L1017.83,905.14 L1018.72,905.14 L1019.61,905.15 L1020.51,905.15 L1021.4,905.16 L1022.29,905.16 L1023.19,905.17 L1024.08,905.17 L1024.97,905.18 L1025.87,905.18 L1026.76,905.19 L1027.65,905.19 L1028.55,905.2 L1029.44,905.2 L1030.33,905.21 L1031.23,905.21 L1032.12,905.22 L1033.01,905.22 L1033.91,905.23 L1034.8,905.24 L1035.69,905.24 L1036.58,905.25 L1037.48,905.26 L1038.37,905.26 L1039.26,905.27 L1040.16,905.28 L1041.05,905.28 L1041.94,905.29 L1042.84,905.3 L1043.73,905.3 L1044.62,905.31 L1045.52,905.32 L1046.41,905.33 L1047.3,905.33 L1048.2,905.34 L1049.09,905.35 L1049.98,905.36 L1050.88,905.37 L1051.77,905.37 L1052.66,905.38 L1053.56,905.39 L1054.45,905.4 L1055.34,905.41 L1056.24,905.42 L1057.13,905.43 L1058.02,905.44 L1058.91,905.45 L1059.81,905.46 L1060.7,905.47 L1061.59,905.48 L1062.49,905.49 L1063.38,905.5 L1064.27,905.51 L1065.17,905.52 L1066.06,905.53 L1066.95,905.55 L1067.85,905.56 L1068.74,905.57 L1069.63,905.58 L1070.53,905.59 L1071.42,905.61 L1072.31,905.62 L1073.21,905.63 L1074.1,905.65 L1074.99,905.66 L1075.89,905.67 L1076.78,905.69 L1077.67,905.7 L1078.57,905.72 L1079.46,905.73 L1080.35,905.75 L1081.24,905.76 L1082.14,905.78 L1083.03,905.8 L1083.92,905.81 L1084.82,905.83 L1085.71,905.85 L1086.6,905.86 L1087.5,905.88 L1088.39,905.9 L1089.28,905.92 L1090.18,905.94 L1091.07,905.96 L1091.96,905.98 L1092.86,906 L1093.75,906.02 L1094.64,906.04 L1095.54,906.06 L1096.43,906.08 L1097.32,906.1 L1098.22,906.12 L1099.11,906.15 L1100,906.17 L1100.9,906.19 L1101.79,906.22 L1102.68,906.24 L1103.57,906.26 L1104.47,906.29 L1105.36,906.32 L1106.25,906.34 L1107.15,906.37 L1108.04,906.4 L1108.93,906.42 L1109.83,906.45 L1110.72,906.48 L1111.61,906.51 L1112.51,906.54 L1113.4,906.57 L1114.29,906.6 L1115.19,906.63 L1116.08,906.66 L1116.97,906.7 L1117.87,906.73 L1118.76,906.76 L1119.65,906.8 L1120.55,906.83 L1121.44,906.87 L1122.33,906.9 L1123.23,906.94 L1124.12,906.98 L1125.01,907.02 L1125.9,907.06 L1126.8,907.1 L1127.69,907.14 L1128.58,907.18 L1129.48,907.22 L1130.37,907.26 L1131.26,907.31 L1132.16,907.35 L1133.05,907.4 L1133.94,907.44 L1134.84,907.49 L1135.73,907.54 L1136.62,907.58 L1137.52,907.63 L1138.41,907.68 L1139.3,907.74 L1140.2,907.79 L1141.09,907.84 L1141.98,907.9 L1142.88,907.95 L1143.77,908.01 L1144.66,908.07 L1145.56,908.12 L1146.45,908.18 L1147.34,908.24 L1148.23,908.31 L1149.13,908.37 L1150.02,908.43 L1150.91,908.5 L1151.81,908.56 L1152.7,908.63 L1153.59,908.7 L1154.49,908.77 L1155.38,908.84 L1156.27,908.92 L1157.17,908.99 L1158.06,909.06 L1158.95,909.14 L1159.85,909.22 L1160.74,909.3 L1161.63,909.38 L1162.53,909.46 L1163.42,909.55 L1164.31,909.63 L1165.21,909.72 L1166.1,909.81 L1166.99,909.9 L1167.89,909.99 L1168.78,910.09 L1169.67,910.18 L1170.56,910.28 L1171.46,910.38 L1172.35,910.48 L1173.24,910.58 L1174.14,910.69 L1175.03,910.79 L1175.92,910.9 L1176.82,911.01 L1177.71,911.12 L1178.6,911.24 L1179.5,911.36 L1180.39,911.47 L1181.28,911.6 L1182.18,911.72 L1183.07,911.84 L1183.96,911.97 L1184.86,912.1 L1185.75,912.23 L1186.64,912.37 L1187.54,912.51 L1188.43,912.65 L1189.32,912.79 L1190.22,912.93 L1191.11,913.08 L1192,913.23 L1192.89,913.38 L1193.79,913.54 L1194.68,913.7 L1195.57,913.86 L1196.47,914.02 L1197.36,914.19 L1198.25,914.36 L1199.15,914.54 L1200.04,914.71 L1200.93,914.89 L1201.83,915.08 L1202.72,915.26 L1203.61,915.45 L1204.51,915.65 L1205.4,915.84 L1206.29,916.04 L1207.19,916.25 L1208.08,916.45 L1208.97,916.66 L1209.87,916.88 L1210.76,917.1 L1211.65,917.32 L1212.55,917.55 L1213.44,917.78 L1214.33,918.01 L1215.22,918.25 L1216.12,918.5 L1217.01,918.75 L1217.9,919 L1218.8,919.25 L1219.69,919.52 L1220.58,919.78 L1221.48,920.05 L1222.37,920.33 L1223.26,920.61 L1224.16,920.9 L1225.05,921.19 L1225.94,921.48 L1226.84,921.78 L1227.73,922.09 L1228.62,922.4 L1229.52,922.72 L1230.41,923.04 L1231.3,923.37 L1232.2,923.71 L1233.09,924.05 L1233.98,924.39 L1234.88,924.74 L1235.77,925.1 L1236.66,925.47 L1237.55,925.84 L1238.45,926.22 L1239.34,926.6 L1240.23,926.99 L1241.13,927.39 L1242.02,927.8 L1242.91,928.21 L1243.81,928.63 L1244.7,929.06 L1245.59,929.49 L1246.49,929.93 L1247.38,930.38 L1248.27,930.84 L1249.17,931.3 L1250.06,931.77 L1250.95,932.26 L1251.85,932.75 L1252.74,933.24 L1253.63,933.75 L1254.53,934.26 L1255.42,934.79 L1256.31,935.32 L1257.21,935.86 L1258.1,936.41 L1258.99,936.97 L1259.88,937.54 L1260.78,938.12 L1261.67,938.71 L1262.56,939.31 L1263.46,939.92 L1264.35,940.54 L1265.24,941.17 L1266.14,941.81 L1267.03,942.46 L1267.92,943.12 L1268.82,943.8 L1269.71,944.48 L1270.6,945.18 L1271.5,945.88 L1272.39,946.6 L1273.28,947.33 L1274.18,948.08 L1275.07,948.83 L1275.96,949.6 L1276.86,950.38 L1277.75,951.17 L1278.64,951.98 L1279.54,952.79 L1280.43,953.63 L1281.32,954.47 L1282.21,955.33 L1283.11,956.2 L1284,957.09 L1284.89,957.99 L1285.79,958.9 L1286.68,959.83 L1287.57,960.77 L1288.47,961.73 L1289.36,962.71 L1290.25,963.69 L1291.15,964.7 L1292.04,965.72 L1292.93,966.75 L1293.83,967.8 L1294.72,968.87 L1295.61,969.95 L1296.51,971.06 L1297.4,972.17 L1298.29,973.31 L1299.19,974.46 L1300.08,975.62 L1300.97,976.81 L1301.87,978.01 L1302.76,979.23 L1303.65,980.47 L1304.54,981.73 L1305.44,983.01 L1306.33,984.3 L1307.22,985.61 L1308.12,986.95 L1309.01,988.3 L1309.9,989.67 L1310.8,991.06 L1311.69,992.46 L1312.58,993.89 L1313.48,995.34 L1314.37,996.81 L1315.26,998.3 L1316.16,999.81 L1317.05,1001.34 L1317.94,1002.89 L1318.84,1004.46 L1319.73,1006.06 L1320.62,1007.67 L1321.52,1009.31 L1322.41,1010.96 L1323.3,1012.64 L1324.2,1014.34 L1325.09,1016.06 L1325.98,1017.81 L1326.87,1019.57 L1327.77,1021.36 L1328.66,1023.17 L1329.55,1025 L1330.45,1026.86 L1331.34,1028.74 L1332.23,1030.64 L1333.13,1032.56 L1334.02,1034.5 L1334.91,1036.47 L1335.81,1038.46 L1336.7,1040.48 L1337.59,1042.51 L1338.49,1044.57 L1339.38,1046.66 L1340.27,1048.76 L1341.17,1050.89 L1342.06,1053.04 L1342.95,1055.21 L1343.85,1057.41 L1344.74,1059.63 L1345.63,1061.87 L1346.53,1064.14 L1347.42,1066.43 L1348.31,1068.74 L1349.2,1071.07 L1350.1,1073.43 L1350.99,1075.8 L1351.88,1078.2 L1352.78,1080.62 L1353.67,1083.07 L1354.56,1085.53 L1355.46,1088.02 L1356.35,1090.53 L1357.24,1093.06 L1358.14,1095.6 L1359.03,1098.18 L1359.92,1100.77 L1360.82,1103.38 L1361.71,1106.01 L1362.6,1108.66 L1363.5,1111.33 L1364.39,1114.02 L1365.28,1116.72 L1366.18,1119.45 L1367.07,1122.19 L1367.96,1124.95 L1368.86,1127.73 L1369.75,1130.53 L1370.64,1133.34 L1371.53,1136.16 L1372.43,1139.01 L1373.32,1141.87 L1374.21,1144.74 L1375.11,1147.63 L1376,1150.53 L1376.89,1153.44 L1377.79,1156.37 L1378.68,1159.3 L1379.57,1162.25 L1380.47,1165.22 L1381.36,1168.19 L1382.25,1171.17 L1383.15,1174.16 L1384.04,1177.16 L1384.93,1180.17 L1385.83,1183.18 L1386.72,1186.2 L1387.61,1189.23 L1388.51,1192.26 L1389.4,1195.3 L1390.29,1198.34 L1391.19,1201.38 L1392.08,1204.43 L1392.97,1207.48 L1393.86,1210.53 L1394.76,1213.58 L1395.65,1216.63 L1396.54,1219.68 L1397.44,1222.73 L1398.33,1225.77 L1399.22,1228.82 L1400.12,1231.85 L1401.01,1234.89 L1401.9,1237.91 L1402.8,1240.93 L1403.69,1243.95 L1404.58,1246.95 L1405.48,1249.95 L1406.37,1252.94 L1407.26,1255.91 L1408.16,1258.88 L1409.05,1261.83 L1409.94,1264.78 L1410.84,1267.7 L1411.73,1270.62 L1412.62,1273.52 L1413.52,1276.4 L1414.41,1279.26 L1415.3,1282.11 L1416.19,1284.95 L1417.09,1287.76 L1417.98,1290.55 L1418.87,1293.32 L1419.77,1296.08 L1420.66,1298.81 L1421.55,1301.52 L1422.45,1304.2 L1423.34,1306.86 L1424.23,1309.5 L1425.13,1312.12 L1426.02,1314.7 L1426.91,1317.27 L1427.81,1319.8 L1428.7,1322.31 L1429.59,1324.79 L1430.49,1327.24 L1431.38,1329.67 L1432.27,1332.06 L1433.17,1334.43 L1434.06,1336.76 L1434.95,1339.07 L1435.85,1341.34 L1436.74,1343.58 L1437.63,1345.8 L1438.52,1347.97 L1439.42,1350.12 L1440.31,1352.23 L1441.2,1354.32 L1442.1,1356.36 L1442.99,1358.38 L1443.88,1360.36 L1444.78,1362.31 L1445.67,1364.22 L1446.56,1366.1 L1447.46,1367.94 L1448.35,1369.76 L1449.24,1371.53 L1450.14,1373.27 L1451.03,1374.98 L1451.92,1376.65 L1452.82,1378.29 L1453.71,1379.9 L1454.6,1381.47 L1455.5,1383 L1456.39,1384.51 L1457.28,1385.97 L1458.18,1387.41 L1459.07,1388.81 L1459.96,1390.18 L1460.85,1391.51 L1461.75,1392.81 L1462.64,1394.08 L1463.53,1395.31 L1464.43,1396.52 L1465.32,1397.69 L1466.21,1398.83 L1467.11,1399.93 L1468,1401.01 L1468.89,1402.06 L1469.79,1403.08 L1470.68,1404.06 L1471.57,1405.02 L1472.47,1405.95 L1473.36,1406.85 L1474.25,1407.72 L1475.15,1408.56 L1476.04,1409.38 L1476.93,1410.17 L1477.83,1410.94 L1478.72,1411.67 L1479.61,1412.39 L1480.51,1413.08 L1481.4,1413.74 L1482.29,1414.38 L1483.18,1415 L1484.08,1415.59 L1484.97,1416.16 L1485.4,1416.43" fill="none" stroke="#A973E5" stroke-width="6.6" stroke-linejoin="round" stroke-linecap="butt" />
<line x1="890.3" y1="805.1" x2="890.3" y2="829.1" stroke="#A973E5" stroke-width="3" stroke-linecap="butt"/>
<line x1="881" y1="805.1" x2="899.6" y2="805.1" stroke="#A973E5" stroke-width="3" stroke-linecap="butt"/>
<line x1="881" y1="829.1" x2="899.6" y2="829.1" stroke="#A973E5" stroke-width="3" stroke-linecap="butt"/>
<circle cx="890.3" cy="817.1" r="8.4" fill="none" stroke="#A973E5" stroke-width="4.8"/>
<line x1="972.4" y1="817.9" x2="972.4" y2="847.9" stroke="#A973E5" stroke-width="3" stroke-linecap="butt"/>
<line x1="963.1" y1="817.9" x2="981.7" y2="817.9" stroke="#A973E5" stroke-width="3" stroke-linecap="butt"/>
<line x1="963.1" y1="847.9" x2="981.7" y2="847.9" stroke="#A973E5" stroke-width="3" stroke-linecap="butt"/>
<circle cx="972.4" cy="832.9" r="8.4" fill="none" stroke="#A973E5" stroke-width="4.8"/>
<line x1="1073.9" y1="814.9" x2="1073.9" y2="832.9" stroke="#A973E5" stroke-width="3" stroke-linecap="butt"/>
<line x1="1064.6" y1="814.9" x2="1083.2" y2="814.9" stroke="#A973E5" stroke-width="3" stroke-linecap="butt"/>
<line x1="1064.6" y1="832.9" x2="1083.2" y2="832.9" stroke="#A973E5" stroke-width="3" stroke-linecap="butt"/>
<circle cx="1073.9" cy="823.9" r="8.4" fill="none" stroke="#A973E5" stroke-width="4.8"/>
<line x1="1140.5" y1="788.2" x2="1140.5" y2="854.2" stroke="#A973E5" stroke-width="3" stroke-linecap="butt"/>
<line x1="1131.2" y1="788.2" x2="1149.8" y2="788.2" stroke="#A973E5" stroke-width="3" stroke-linecap="butt"/>
<line x1="1131.2" y1="854.2" x2="1149.8" y2="854.2" stroke="#A973E5" stroke-width="3" stroke-linecap="butt"/>
<circle cx="1140.5" cy="821.2" r="8.4" fill="none" stroke="#A973E5" stroke-width="4.8"/>
<line x1="1195.5" y1="811.5" x2="1195.5" y2="825.5" stroke="#A973E5" stroke-width="3" stroke-linecap="butt"/>
<line x1="1186.2" y1="811.5" x2="1204.8" y2="811.5" stroke="#A973E5" stroke-width="3" stroke-linecap="butt"/>
<line x1="1186.2" y1="825.5" x2="1204.8" y2="825.5" stroke="#A973E5" stroke-width="3" stroke-linecap="butt"/>
<circle cx="1195.5" cy="818.5" r="8.4" fill="none" stroke="#A973E5" stroke-width="4.8"/>
<line x1="1230.1" y1="832.2" x2="1230.1" y2="896.2" stroke="#A973E5" stroke-width="3" stroke-linecap="butt"/>
<line x1="1220.8" y1="832.2" x2="1239.4" y2="832.2" stroke="#A973E5" stroke-width="3" stroke-linecap="butt"/>
<line x1="1220.8" y1="896.2" x2="1239.4" y2="896.2" stroke="#A973E5" stroke-width="3" stroke-linecap="butt"/>
<circle cx="1230.1" cy="864.2" r="8.4" fill="none" stroke="#A973E5" stroke-width="4.8"/>
<line x1="1248.7" y1="816.2" x2="1248.7" y2="872.2" stroke="#A973E5" stroke-width="3" stroke-linecap="butt"/>
<line x1="1239.4" y1="816.2" x2="1258" y2="816.2" stroke="#A973E5" stroke-width="3" stroke-linecap="butt"/>
<line x1="1239.4" y1="872.2" x2="1258" y2="872.2" stroke="#A973E5" stroke-width="3" stroke-linecap="butt"/>
<circle cx="1248.7" cy="844.2" r="8.4" fill="none" stroke="#A973E5" stroke-width="4.8"/>
<line x1="1263.3" y1="865.7" x2="1263.3" y2="893.7" stroke="#A973E5" stroke-width="3" stroke-linecap="butt"/>
<line x1="1254" y1="865.7" x2="1272.6" y2="865.7" stroke="#A973E5" stroke-width="3" stroke-linecap="butt"/>
<line x1="1254" y1="893.7" x2="1272.6" y2="893.7" stroke="#A973E5" stroke-width="3" stroke-linecap="butt"/>
<circle cx="1263.3" cy="879.7" r="8.4" fill="none" stroke="#A973E5" stroke-width="4.8"/>
<line x1="1274.4" y1="864.1" x2="1274.4" y2="904.1" stroke="#A973E5" stroke-width="3" stroke-linecap="butt"/>
<line x1="1265.1" y1="864.1" x2="1283.7" y2="864.1" stroke="#A973E5" stroke-width="3" stroke-linecap="butt"/>
<line x1="1265.1" y1="904.1" x2="1283.7" y2="904.1" stroke="#A973E5" stroke-width="3" stroke-linecap="butt"/>
<circle cx="1274.4" cy="884.1" r="8.4" fill="none" stroke="#A973E5" stroke-width="4.8"/>
<line x1="1286.4" y1="813.3" x2="1286.4" y2="999.3" stroke="#A973E5" stroke-width="3" stroke-linecap="butt"/>
<line x1="1277.1" y1="813.3" x2="1295.7" y2="813.3" stroke="#A973E5" stroke-width="3" stroke-linecap="butt"/>
<line x1="1277.1" y1="999.3" x2="1295.7" y2="999.3" stroke="#A973E5" stroke-width="3" stroke-linecap="butt"/>
<circle cx="1286.4" cy="906.3" r="8.4" fill="none" stroke="#A973E5" stroke-width="4.8"/>
<line x1="1297.9" y1="901.3" x2="1297.9" y2="973.3" stroke="#A973E5" stroke-width="3" stroke-linecap="butt"/>
<line x1="1288.6" y1="901.3" x2="1307.2" y2="901.3" stroke="#A973E5" stroke-width="3" stroke-linecap="butt"/>
<line x1="1288.6" y1="973.3" x2="1307.2" y2="973.3" stroke="#A973E5" stroke-width="3" stroke-linecap="butt"/>
<circle cx="1297.9" cy="937.3" r="8.4" fill="none" stroke="#A973E5" stroke-width="4.8"/>
<line x1="1306.3" y1="941" x2="1306.3" y2="985" stroke="#A973E5" stroke-width="3" stroke-linecap="butt"/>
<line x1="1297" y1="941" x2="1315.6" y2="941" stroke="#A973E5" stroke-width="3" stroke-linecap="butt"/>
<line x1="1297" y1="985" x2="1315.6" y2="985" stroke="#A973E5" stroke-width="3" stroke-linecap="butt"/>
<circle cx="1306.3" cy="963" r="8.4" fill="none" stroke="#A973E5" stroke-width="4.8"/>
<line x1="1318.7" y1="941.5" x2="1318.7" y2="999.5" stroke="#A973E5" stroke-width="3" stroke-linecap="butt"/>
<line x1="1309.4" y1="941.5" x2="1328" y2="941.5" stroke="#A973E5" stroke-width="3" stroke-linecap="butt"/>
<line x1="1309.4" y1="999.5" x2="1328" y2="999.5" stroke="#A973E5" stroke-width="3" stroke-linecap="butt"/>
<circle cx="1318.7" cy="970.5" r="8.4" fill="none" stroke="#A973E5" stroke-width="4.8"/>
<line x1="1328.9" y1="985.6" x2="1328.9" y2="1039.6" stroke="#A973E5" stroke-width="3" stroke-linecap="butt"/>
<line x1="1319.6" y1="985.6" x2="1338.2" y2="985.6" stroke="#A973E5" stroke-width="3" stroke-linecap="butt"/>
<line x1="1319.6" y1="1039.6" x2="1338.2" y2="1039.6" stroke="#A973E5" stroke-width="3" stroke-linecap="butt"/>
<circle cx="1328.9" cy="1012.6" r="8.4" fill="none" stroke="#A973E5" stroke-width="4.8"/>
<line x1="1335.6" y1="1014.8" x2="1335.6" y2="1054.8" stroke="#A973E5" stroke-width="3" stroke-linecap="butt"/>
<line x1="1326.3" y1="1014.8" x2="1344.9" y2="1014.8" stroke="#A973E5" stroke-width="3" stroke-linecap="butt"/>
<line x1="1326.3" y1="1054.8" x2="1344.9" y2="1054.8" stroke="#A973E5" stroke-width="3" stroke-linecap="butt"/>
<circle cx="1335.6" cy="1034.8" r="8.4" fill="none" stroke="#A973E5" stroke-width="4.8"/>
<line x1="1350.6" y1="1039.5" x2="1350.6" y2="1089.5" stroke="#A973E5" stroke-width="3" stroke-linecap="butt"/>
<line x1="1341.3" y1="1039.5" x2="1359.9" y2="1039.5" stroke="#A973E5" stroke-width="3" stroke-linecap="butt"/>
<line x1="1341.3" y1="1089.5" x2="1359.9" y2="1089.5" stroke="#A973E5" stroke-width="3" stroke-linecap="butt"/>
<circle cx="1350.6" cy="1064.5" r="8.4" fill="none" stroke="#A973E5" stroke-width="4.8"/>
<line x1="1363" y1="1097.8" x2="1363" y2="1135.8" stroke="#A973E5" stroke-width="3" stroke-linecap="butt"/>
<line x1="1353.7" y1="1097.8" x2="1372.3" y2="1097.8" stroke="#A973E5" stroke-width="3" stroke-linecap="butt"/>
<line x1="1353.7" y1="1135.8" x2="1372.3" y2="1135.8" stroke="#A973E5" stroke-width="3" stroke-linecap="butt"/>
<circle cx="1363" cy="1116.8" r="8.4" fill="none" stroke="#A973E5" stroke-width="4.8"/>
<line x1="1374.1" y1="1107.5" x2="1374.1" y2="1145.5" stroke="#A973E5" stroke-width="3" stroke-linecap="butt"/>
<line x1="1364.8" y1="1107.5" x2="1383.4" y2="1107.5" stroke="#A973E5" stroke-width="3" stroke-linecap="butt"/>
<line x1="1364.8" y1="1145.5" x2="1383.4" y2="1145.5" stroke="#A973E5" stroke-width="3" stroke-linecap="butt"/>
<circle cx="1374.1" cy="1126.5" r="8.4" fill="none" stroke="#A973E5" stroke-width="4.8"/>
<line x1="1386.1" y1="1166.1" x2="1386.1" y2="1202.1" stroke="#A973E5" stroke-width="3" stroke-linecap="butt"/>
<line x1="1376.8" y1="1166.1" x2="1395.4" y2="1166.1" stroke="#A973E5" stroke-width="3" stroke-linecap="butt"/>
<line x1="1376.8" y1="1202.1" x2="1395.4" y2="1202.1" stroke="#A973E5" stroke-width="3" stroke-linecap="butt"/>
<circle cx="1386.1" cy="1184.1" r="8.4" fill="none" stroke="#A973E5" stroke-width="4.8"/>
<line x1="1402.9" y1="1219.6" x2="1402.9" y2="1273.6" stroke="#A973E5" stroke-width="3" stroke-linecap="butt"/>
<line x1="1393.6" y1="1219.6" x2="1412.2" y2="1219.6" stroke="#A973E5" stroke-width="3" stroke-linecap="butt"/>
<line x1="1393.6" y1="1273.6" x2="1412.2" y2="1273.6" stroke="#A973E5" stroke-width="3" stroke-linecap="butt"/>
<circle cx="1402.9" cy="1246.6" r="8.4" fill="none" stroke="#A973E5" stroke-width="4.8"/>
<line x1="1419.3" y1="1270.5" x2="1419.3" y2="1326.5" stroke="#A973E5" stroke-width="3" stroke-linecap="butt"/>
<line x1="1410" y1="1270.5" x2="1428.6" y2="1270.5" stroke="#A973E5" stroke-width="3" stroke-linecap="butt"/>
<line x1="1410" y1="1326.5" x2="1428.6" y2="1326.5" stroke="#A973E5" stroke-width="3" stroke-linecap="butt"/>
<circle cx="1419.3" cy="1298.5" r="8.4" fill="none" stroke="#A973E5" stroke-width="4.8"/>
<line x1="1430.8" y1="1297.2" x2="1430.8" y2="1335.2" stroke="#A973E5" stroke-width="3" stroke-linecap="butt"/>
<line x1="1421.5" y1="1297.2" x2="1440.1" y2="1297.2" stroke="#A973E5" stroke-width="3" stroke-linecap="butt"/>
<line x1="1421.5" y1="1335.2" x2="1440.1" y2="1335.2" stroke="#A973E5" stroke-width="3" stroke-linecap="butt"/>
<circle cx="1430.8" cy="1316.2" r="8.4" fill="none" stroke="#A973E5" stroke-width="4.8"/>
<line x1="1441.9" y1="1339.2" x2="1441.9" y2="1355.2" stroke="#A973E5" stroke-width="3" stroke-linecap="butt"/>
<line x1="1432.6" y1="1339.2" x2="1451.2" y2="1339.2" stroke="#A973E5" stroke-width="3" stroke-linecap="butt"/>
<line x1="1432.6" y1="1355.2" x2="1451.2" y2="1355.2" stroke="#A973E5" stroke-width="3" stroke-linecap="butt"/>
<circle cx="1441.9" cy="1347.2" r="8.4" fill="none" stroke="#A973E5" stroke-width="4.8"/>
<line x1="1451.7" y1="1345" x2="1451.7" y2="1385" stroke="#A973E5" stroke-width="3" stroke-linecap="butt"/>
<line x1="1442.4" y1="1345" x2="1461" y2="1345" stroke="#A973E5" stroke-width="3" stroke-linecap="butt"/>
<line x1="1442.4" y1="1385" x2="1461" y2="1385" stroke="#A973E5" stroke-width="3" stroke-linecap="butt"/>
<circle cx="1451.7" cy="1365" r="8.4" fill="none" stroke="#A973E5" stroke-width="4.8"/>
<line x1="1470.7" y1="1366.3" x2="1470.7" y2="1412.3" stroke="#A973E5" stroke-width="3" stroke-linecap="butt"/>
<line x1="1461.4" y1="1366.3" x2="1480" y2="1366.3" stroke="#A973E5" stroke-width="3" stroke-linecap="butt"/>
<line x1="1461.4" y1="1412.3" x2="1480" y2="1412.3" stroke="#A973E5" stroke-width="3" stroke-linecap="butt"/>
<circle cx="1470.7" cy="1389.3" r="8.4" fill="none" stroke="#A973E5" stroke-width="4.8"/>
<line x1="1484.9" y1="1413.5" x2="1484.9" y2="1433.5" stroke="#A973E5" stroke-width="3" stroke-linecap="butt"/>
<line x1="1475.6" y1="1413.5" x2="1494.2" y2="1413.5" stroke="#A973E5" stroke-width="3" stroke-linecap="butt"/>
<line x1="1475.6" y1="1433.5" x2="1494.2" y2="1433.5" stroke="#A973E5" stroke-width="3" stroke-linecap="butt"/>
<circle cx="1484.9" cy="1423.5" r="8.4" fill="none" stroke="#A973E5" stroke-width="4.8"/>
<text transform="translate(107.5,1445) scale(0.91,1)" font-size="46" text-anchor="end" fill="#000"><tspan>0</tspan></text>
<text transform="translate(107.5,1238.6) scale(0.91,1)" font-size="46" text-anchor="end" fill="#000"><tspan>5</tspan></text>
<text transform="translate(107.5,1032.2) scale(0.91,1)" font-size="46" text-anchor="end" fill="#000"><tspan>10</tspan></text>
<text transform="translate(107.5,825.8) scale(0.91,1)" font-size="46" text-anchor="end" fill="#000"><tspan>15</tspan></text>
<text transform="translate(137.65,1461) scale(0.91,1)" font-size="32.6" text-anchor="middle" fill="#000"><tspan>4</tspan></text>
<text transform="translate(176.13,1461) scale(0.91,1)" font-size="32.6" text-anchor="middle" fill="#000"><tspan>6</tspan></text>
<text transform="translate(290.38,1461) scale(0.91,1)" font-size="32.6" text-anchor="middle" fill="#000"><tspan>2</tspan></text>
<text transform="translate(356.15,1461) scale(0.91,1)" font-size="32.6" text-anchor="middle" fill="#000"><tspan>4</tspan></text>
<text transform="translate(394.63,1461) scale(0.91,1)" font-size="32.6" text-anchor="middle" fill="#000"><tspan>6</tspan></text>
<text transform="translate(508.88,1461) scale(0.91,1)" font-size="32.6" text-anchor="middle" fill="#000"><tspan>2</tspan></text>
<text transform="translate(574.65,1461) scale(0.91,1)" font-size="32.6" text-anchor="middle" fill="#000"><tspan>4</tspan></text>
<text transform="translate(613.13,1461) scale(0.91,1)" font-size="32.6" text-anchor="middle" fill="#000"><tspan>6</tspan></text>
<text transform="translate(225.6,1497.6) scale(0.91,1)" font-size="46" text-anchor="middle" fill="#000"><tspan>0.1</tspan></text>
<text transform="translate(444.1,1497.6) scale(0.91,1)" font-size="46" text-anchor="middle" fill="#000"><tspan>1</tspan></text>
<text transform="translate(662.6,1497.6) scale(0.91,1)" font-size="46" text-anchor="middle" fill="#000"><tspan>10</tspan></text>
<text transform="translate(357.48,1546) scale(0.967741935483871,1)" font-size="53.5" text-anchor="start" fill="#000"><tspan font-style="italic">T</tspan></text>
<text transform="translate(397.51,1546) scale(0.91605415860735,1)" font-size="53.5" text-anchor="start" fill="#000"><tspan>(K)</tspan></text>
<text transform="translate(118.49,1403) scale(0.936,1)" font-size="60" text-anchor="start" fill="#000"><tspan>(c)</tspan></text>
<text transform="translate(224.53,1403) scale(0.9876543209876543,1)" font-size="60" text-anchor="start" fill="#000"><tspan>α</tspan></text>
<text transform="translate(49.1,1282.21) rotate(-90) scale(0.8814910025706937,1)" font-size="53.5" text-anchor="start" fill="#000"><tspan>Amplitude (a. u.)</tspan></text>
<text transform="translate(887.2,1441.1) scale(0.91,1)" font-size="46" text-anchor="end" fill="#000"><tspan>0</tspan></text>
<text transform="translate(887.2,1217.1) scale(0.91,1)" font-size="46" text-anchor="end" fill="#000"><tspan>1</tspan></text>
<text transform="translate(887.2,993.1) scale(0.91,1)" font-size="46" text-anchor="end" fill="#000"><tspan>2</tspan></text>
<text transform="translate(918.34,1458.7) scale(0.91,1)" font-size="32.6" text-anchor="middle" fill="#000"><tspan>4</tspan></text>
<text transform="translate(957.66,1458.7) scale(0.91,1)" font-size="32.6" text-anchor="middle" fill="#000"><tspan>6</tspan></text>
<text transform="translate(1074.42,1458.7) scale(0.91,1)" font-size="32.6" text-anchor="middle" fill="#000"><tspan>2</tspan></text>
<text transform="translate(1141.64,1458.7) scale(0.91,1)" font-size="32.6" text-anchor="middle" fill="#000"><tspan>4</tspan></text>
<text transform="translate(1180.96,1458.7) scale(0.91,1)" font-size="32.6" text-anchor="middle" fill="#000"><tspan>6</tspan></text>
<text transform="translate(1297.72,1458.7) scale(0.91,1)" font-size="32.6" text-anchor="middle" fill="#000"><tspan>2</tspan></text>
<text transform="translate(1364.94,1458.7) scale(0.91,1)" font-size="32.6" text-anchor="middle" fill="#000"><tspan>4</tspan></text>
<text transform="translate(1404.26,1458.7) scale(0.91,1)" font-size="32.6" text-anchor="middle" fill="#000"><tspan>6</tspan></text>
<text transform="translate(1008.2,1494.5) scale(0.91,1)" font-size="46" text-anchor="middle" fill="#000"><tspan>0.1</tspan></text>
<text transform="translate(1231.5,1494.5) scale(0.91,1)" font-size="46" text-anchor="middle" fill="#000"><tspan>1</tspan></text>
<text transform="translate(1454.8,1494.5) scale(0.91,1)" font-size="46" text-anchor="middle" fill="#000"><tspan>10</tspan></text>
<text transform="translate(1137.98,1543.3) scale(0.967741935483871,1)" font-size="53.5" text-anchor="start" fill="#000"><tspan font-style="italic">T</tspan></text>
<text transform="translate(1178.01,1543.3) scale(0.9160541586073508,1)" font-size="53.5" text-anchor="start" fill="#000"><tspan>(K)</tspan></text>
<text transform="translate(896.43,1399) scale(0.9518026565464902,1)" font-size="60" text-anchor="start" fill="#000"><tspan>(d)</tspan></text>
<text transform="translate(1005.78,1398) scale(1.0792452830188688,1)" font-size="57" text-anchor="start" fill="#000"><tspan>β</tspan></text>
<text transform="translate(823,1278.31) rotate(-90) scale(0.8791773778920309,1)" font-size="53.5" text-anchor="start" fill="#000"><tspan>Amplitude (a. u.)</tspan></text>
</svg></body></html>
